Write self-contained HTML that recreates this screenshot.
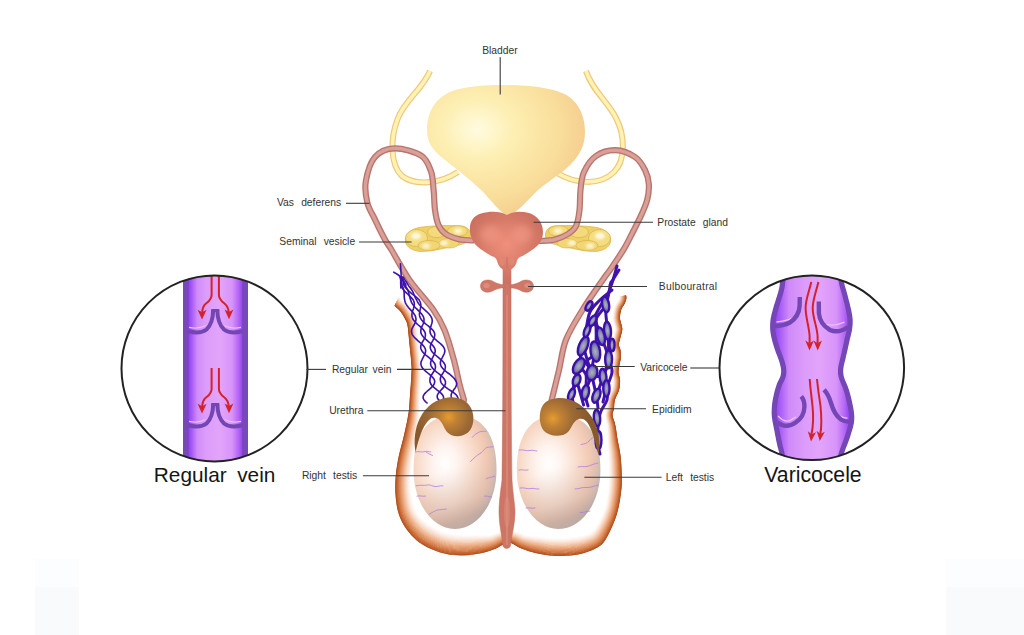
<!DOCTYPE html>
<html><head><meta charset="utf-8">
<style>
html,body{margin:0;padding:0;background:#fff;}
body{width:1024px;height:635px;overflow:hidden;position:relative;}
svg{position:absolute;left:0;top:0;}
text{font-family:"Liberation Sans",sans-serif;}
.lb{font-size:10.3px;fill:#333;}
.big{font-size:21.2px;fill:#151515;}
.ln{stroke:#3a3a3a;stroke-width:1.2;fill:none;}
</style></head>
<body>
<svg width="1024" height="635" viewBox="0 0 1024 635">
<defs>
  <radialGradient id="gBlad" cx="0.32" cy="0.34" r="0.78">
    <stop offset="0" stop-color="#fffbe0"/>
    <stop offset="0.3" stop-color="#fdefb2"/>
    <stop offset="0.68" stop-color="#f9dd9a"/>
    <stop offset="1" stop-color="#f3c68a"/>
  </radialGradient>
  <radialGradient id="gPros" cx="0.5" cy="0.45" r="0.6">
    <stop offset="0" stop-color="#f0907c"/>
    <stop offset="0.6" stop-color="#d67a68"/>
    <stop offset="1" stop-color="#c96f5f"/>
  </radialGradient>
  <radialGradient id="gTest" cx="0.4" cy="0.45" r="0.62" fx="0.38" fy="0.42">
    <stop offset="0" stop-color="#ffffff"/>
    <stop offset="0.25" stop-color="#fef3ee"/>
    <stop offset="0.55" stop-color="#f9dccb"/>
    <stop offset="0.8" stop-color="#f1c8b2"/>
    <stop offset="0.93" stop-color="#dcc0b2"/>
    <stop offset="1" stop-color="#c4b6b2"/>
  </radialGradient>
  <radialGradient id="gEpi" cx="0.58" cy="0.36" r="0.6">
    <stop offset="0" stop-color="#e69c30"/>
    <stop offset="0.25" stop-color="#bf8034"/>
    <stop offset="0.6" stop-color="#9a6834"/>
    <stop offset="1" stop-color="#87592c"/>
  </radialGradient>
  <radialGradient id="gEpi2" cx="0.22" cy="0.36" r="0.6">
    <stop offset="0" stop-color="#e69c30"/>
    <stop offset="0.25" stop-color="#bf8034"/>
    <stop offset="0.6" stop-color="#9a6834"/>
    <stop offset="1" stop-color="#87592c"/>
  </radialGradient>
  <linearGradient id="gTestSh" x1="0" y1="0" x2="0.25" y2="1">
    <stop offset="0.55" stop-color="#a09494" stop-opacity="0"/>
    <stop offset="0.85" stop-color="#a09494" stop-opacity="0.18"/>
    <stop offset="1" stop-color="#988c8c" stop-opacity="0.42"/>
  </linearGradient>
  <radialGradient id="gOval" cx="0.5" cy="0.5" r="0.5">
    <stop offset="0" stop-color="#aeb2be"/>
    <stop offset="0.5" stop-color="#8a8eb0"/>
    <stop offset="1" stop-color="#5044a8"/>
  </radialGradient>
  <linearGradient id="gVein" x1="0" x2="1" y1="0" y2="0">
    <stop offset="0" stop-color="#8c3ef6"/>
    <stop offset="0.06" stop-color="#a456f6"/>
    <stop offset="0.17" stop-color="#d08cf8"/>
    <stop offset="0.32" stop-color="#dc9cfa"/>
    <stop offset="0.58" stop-color="#e2a4fb"/>
    <stop offset="0.8" stop-color="#d894f9"/>
    <stop offset="0.92" stop-color="#b464f6"/>
    <stop offset="1" stop-color="#8c3ef6"/>
  </linearGradient>
  <linearGradient id="gVein2" x1="774" x2="850" y1="0" y2="0" gradientUnits="userSpaceOnUse">
    <stop offset="0" stop-color="#8c3ef6"/>
    <stop offset="0.07" stop-color="#a458f6"/>
    <stop offset="0.2" stop-color="#cf8af8"/>
    <stop offset="0.4" stop-color="#dc9cfa"/>
    <stop offset="0.6" stop-color="#e2a4fb"/>
    <stop offset="0.82" stop-color="#d894f9"/>
    <stop offset="0.93" stop-color="#b466f6"/>
    <stop offset="1" stop-color="#8c3ef6"/>
  </linearGradient>
  <filter id="blur6" x="-20%" y="-20%" width="140%" height="140%"><feGaussianBlur stdDeviation="5"/></filter>
  <filter id="blurS" x="-50%" y="-50%" width="200%" height="200%"><feGaussianBlur stdDeviation="1.4"/></filter>
  <filter id="blur15" x="-20%" y="-20%" width="140%" height="140%"><feGaussianBlur stdDeviation="1.5"/></filter>
  <filter id="blur3" x="-20%" y="-20%" width="140%" height="140%"><feGaussianBlur stdDeviation="3.2"/></filter>
  <clipPath id="cL"><circle cx="214.5" cy="368.4" r="93"/></clipPath>
  <clipPath id="cR"><circle cx="811.8" cy="367.8" r="92.3"/></clipPath>
  <clipPath id="cScr"><path d="M394.5,305 C401,315 407,328 409.5,345 C412,365 411,390 407,412 C403,432 397,455 395.5,478 C394,505 405,530 425,544 C440,553 452,556 462,555.5 C478,555 495,549 508,542.6 C520,550 538,556 556,556 C575,556 595,550 606,540 C618,527 622,505 622,485 C622,462 620,440 613,422 C611,417 610,414 611,410 C613,404 617,400 617.4,396.8 C618,392 620,388 620.7,383.6 C621,378 618,376 618.5,372.5 C619,366 621,362 621,357 C621,351 618,349 618.5,343.9 C619,338 622,335 621.8,330.7 C621.5,326 619,323 619.6,319.7 C620,313 622,308 623,304 C625,301 626.5,298 626,295.4 C624,294.5 621,295 619,296.5 L401,296 Z"/></clipPath>
</defs>

<!-- faint corner rectangles -->
<rect x="35" y="559" width="44" height="28" fill="#fcfdfe"/>
<rect x="35" y="587" width="44" height="48" fill="#f8fafc"/>
<rect x="946" y="559" width="78" height="28" fill="#fcfdfe"/>
<rect x="946" y="587" width="78" height="48" fill="#f8fafc"/>

<!-- ureters -->
<g fill="none" stroke-linecap="butt">
  <path d="M430,71 C422,90 405,100 398,118 C390,138 390,165 402,176 C415,186 440,184 458,172" stroke="#efc77a" stroke-width="6"/>
  <path d="M430,71 C422,90 405,100 398,118 C390,138 390,165 402,176 C415,186 440,184 458,172" stroke="#fff3b4" stroke-width="3.6"/>
  <path d="M586,71 C592,90 608,102 616,118 C625,135 626,160 614,172 C600,186 575,184 557,173" stroke="#efc77a" stroke-width="6"/>
  <path d="M586,71 C592,90 608,102 616,118 C625,135 626,160 614,172 C600,186 575,184 557,173" stroke="#fff3b4" stroke-width="3.6"/>
</g>

<!-- bladder -->
<path d="M508,216 C500,212 494,204 485,194 C475,183 455,168 445,160 C432,150 427,142 427,130 C427,110 437,96 455,90 C470,86 485,85 505,85 C530,85 555,88 568,96 C580,104 585,118 585,132 C585,145 580,155 570,165 C560,175 545,183 535,193 C525,203 518,212 508,216 Z" fill="url(#gBlad)"/>


<!-- scrotum -->
<clipPath id="cScr2"><path d="M394.5,305.8 L395.5,306.8 L396.6,307.8 L397.8,308.8 L398.9,309.8 L400.0,311.0 L401.0,312.3 L401.9,313.7 L402.9,315.1 L403.7,316.6 L404.5,318.0 L405.2,319.3 L405.8,320.4 L406.4,321.6 L406.9,323.1 L407.4,325.0 L407.8,327.4 L408.1,330.2 L408.4,333.3 L408.7,336.6 L409.0,340.0 L409.4,343.8 L409.8,348.0 L410.3,352.3 L410.7,356.4 L411.0,360.0 L411.2,362.7 L411.4,364.8 L411.5,366.8 L411.6,369.0 L411.5,372.0 L411.3,376.0 L411.0,380.6 L410.7,385.6 L410.3,390.5 L410.0,395.0 L409.7,398.9 L409.5,402.4 L409.3,405.8 L409.0,409.2 L408.5,413.0 L407.8,417.1 L407.0,421.5 L406.0,426.0 L405.0,430.5 L404.0,435.0 L402.9,439.4 L401.8,443.8 L400.6,448.3 L399.5,452.7 L398.5,457.0 L397.7,461.3 L397.0,465.5 L396.3,469.7 L395.9,473.9 L395.5,478.0 L395.3,482.1 L395.2,486.2 L395.2,490.3 L395.4,494.2 L395.7,498.0 L396.1,501.6 L396.6,505.1 L397.2,508.5 L398.0,511.8 L399.0,515.0 L400.2,518.2 L401.6,521.2 L403.2,524.2 L405.0,527.2 L407.0,530.0 L409.2,532.8 L411.5,535.5 L414.1,538.1 L416.9,540.7 L420.0,543.0 L423.5,545.2 L427.5,547.4 L431.6,549.3 L435.9,551.1 L440.0,552.5 L444.1,553.6 L448.2,554.4 L452.3,555.0 L456.5,555.3 L460.5,555.5 L464.5,555.5 L468.6,555.2 L472.6,554.7 L476.4,554.1 L480.0,553.5 L483.3,552.8 L486.4,552.0 L489.3,551.1 L492.2,550.1 L495.0,549.0 L497.8,547.7 L500.6,546.0 L503.2,544.4 L505.9,543.2 L508.4,542.6 L510.8,542.9 L513.0,543.9 L515.2,545.3 L517.5,546.8 L520.0,548.0 L522.7,549.1 L525.5,550.1 L528.5,551.2 L531.6,552.1 L535.0,553.0 L538.7,553.8 L542.6,554.5 L546.8,555.2 L550.9,555.7 L555.0,556.0 L559.1,556.1 L563.2,556.0 L567.4,555.8 L571.3,555.5 L575.0,555.0 L578.4,554.4 L581.5,553.8 L584.4,553.0 L587.2,552.1 L590.0,551.0 L592.8,549.9 L595.5,548.6 L598.0,547.2 L600.5,545.5 L602.8,543.4 L604.9,540.7 L606.9,537.5 L608.7,534.0 L610.4,530.5 L612.0,527.0 L613.4,523.7 L614.7,520.5 L615.9,517.2 L617.0,513.7 L618.0,510.0 L618.9,505.9 L619.8,501.4 L620.5,496.8 L621.1,492.2 L621.6,488.0 L621.8,484.1 L621.9,480.4 L621.9,476.8 L621.7,473.3 L621.6,470.0 L621.5,466.8 L621.3,463.8 L621.1,460.9 L620.8,458.0 L620.5,455.0 L620.0,452.0 L619.5,449.0 L618.9,446.0 L618.3,443.0 L617.7,440.0 L617.2,436.9 L616.7,433.8 L616.3,430.6 L615.8,427.7 L615.3,425.0 L614.7,422.6 L614.0,420.4 L613.3,418.5 L612.8,416.7 L612.5,415.0 L612.5,413.6 L612.8,412.5 L613.2,411.4 L613.6,410.3 L613.9,409.0 L614.1,407.4 L614.2,405.7 L614.3,403.8 L614.5,401.9 L614.9,400.0 L615.6,398.1 L616.5,396.1 L617.5,394.0 L618.4,392.0 L619.1,390.0 L619.5,388.0 L619.9,385.9 L620.0,383.8 L620.1,381.8 L620.1,380.0 L619.9,378.3 L619.5,376.8 L619.1,375.4 L618.7,374.0 L618.5,372.5 L618.5,371.0 L618.7,369.5 L618.9,368.0 L619.2,366.5 L619.5,365.0 L619.8,363.4 L620.2,361.8 L620.5,360.2 L620.8,358.5 L621.0,357.0 L621.0,355.5 L621.0,354.0 L620.9,352.6 L620.7,351.3 L620.5,350.0 L620.2,348.9 L619.8,347.8 L619.4,346.8 L619.0,345.9 L618.8,345.0 L618.8,344.2 L618.8,343.6 L619.0,343.0 L619.2,342.2 L619.5,341.0 L620.0,339.3 L620.6,337.1 L621.2,334.7 L621.8,332.5 L622.2,330.7 L622.3,329.5 L622.3,328.6 L622.2,327.8 L622.0,327.1 L621.8,326.0 L621.5,324.6 L621.0,323.1 L620.6,321.4 L620.2,319.7 L620.0,318.0 L620.0,316.3 L620.2,314.5 L620.5,312.8 L620.9,311.1 L621.3,309.6 L621.8,308.3 L622.5,307.1 L623.2,306.1 L623.9,305.0 L624.5,304.0 L625.0,302.9 L625.4,301.9 L625.8,300.9 L626.1,299.9 L626.3,299.0 L626.4,298.2 L626.4,297.5 L626.4,296.9 L626.3,296.2 L626.2,295.4 L619,296.5 L399.2,296.3 Z"/></clipPath>
<g clip-path="url(#cScr2)">
<path d="M399.5,296.4 L399.9,297.2 L400.4,298.2 L400.7,298.8 L401.1,299.5 L401.5,300.1 L402.0,300.6 L402.8,301.3 L404.0,302.3 L405.4,303.6 L406.8,305.1 L408.1,306.8 L409.4,308.6 L410.5,310.4 L411.5,312.0 L412.4,313.6 L413.2,315.1 L414.0,316.7 L414.8,318.4 L415.5,320.5 L416.2,323.0 L416.7,326.0 L417.0,329.1 L417.3,332.3 L417.6,335.7 L418.0,339.1 L418.4,342.9 L418.8,347.1 L419.2,351.5 L419.7,355.6 L420.0,359.2 L420.3,362.1 L420.6,364.3 L420.8,366.5 L421.0,369.0 L421.0,372.2 L420.9,376.4 L420.7,381.2 L420.5,386.3 L420.2,391.2 L420.0,395.7 L419.9,399.6 L419.9,403.2 L419.9,406.7 L419.7,410.5 L419.4,414.6 L419.0,419.1 L418.5,423.8 L418.0,428.5 L417.3,433.3 L416.6,438.0 L415.8,442.6 L414.9,447.2 L414.1,451.6 L413.3,455.8 L412.7,460.0 L412.1,463.9 L411.5,467.8 L411.0,471.6 L410.7,475.4 L410.5,479.0 L410.5,482.7 L410.6,486.3 L410.8,489.8 L411.2,493.3 L411.6,496.5 L412.2,499.6 L412.7,502.3 L413.4,504.9 L414.2,507.2 L415.1,509.4 L416.3,511.4 L417.6,513.4 L419.0,515.2 L420.6,517.0 L422.3,518.8 L424.1,520.4 L426.0,522.0 L427.9,523.4 L429.9,524.7 L432.0,525.8 L434.3,527.2 L437.1,528.7 L440.1,530.1 L443.2,531.4 L446.1,532.4 L448.9,533.2 L451.8,533.7 L454.8,534.1 L457.8,534.4 L460.8,534.5 L463.8,534.9 L466.9,535.0 L470.1,535.1 L473.3,535.0 L476.2,534.9 L479.0,535.1 L481.7,535.2 L484.2,535.3 L486.5,535.3 L488.9,535.3 L491.5,534.7 L494.5,533.6 L498.3,532.2 L503.0,530.9 L508.1,530.6 L513.2,530.8 L517.5,532.0 L521.0,533.4 L523.7,534.6 L526.0,535.3 L528.3,535.6 L530.7,535.8 L533.3,536.1 L536.1,536.3 L539.0,536.5 L542.1,536.9 L545.5,537.4 L549.1,537.7 L552.6,538.0 L555.9,538.0 L559.2,538.1 L562.7,538.0 L566.1,537.9 L569.4,537.6 L572.4,537.2 L575.0,537.0 L577.3,536.7 L579.5,536.3 L581.6,535.8 L583.8,535.2 L585.8,534.6 L587.6,534.0 L589.0,533.6 L590.1,533.1 L591.1,532.4 L592.4,531.3 L594.0,529.5 L595.7,527.1 L597.4,524.2 L599.2,521.3 L600.7,518.5 L602.0,515.7 L603.2,513.0 L604.3,510.1 L605.4,506.9 L606.2,503.2 L607.0,499.1 L607.7,494.9 L608.2,490.7 L608.6,487.0 L609.0,483.5 L609.1,480.2 L609.2,476.9 L609.1,473.7 L609.1,470.5 L609.1,467.5 L609.0,464.6 L609.0,461.9 L608.8,459.3 L608.6,456.6 L608.6,453.8 L608.5,451.0 L608.3,448.0 L608.0,444.9 L607.9,441.7 L607.7,438.5 L607.6,435.2 L607.6,432.1 L607.6,429.3 L607.5,426.8 L607.2,424.6 L606.7,422.5 L606.2,420.3 L605.7,417.9 L605.5,415.3 L605.5,413.0 L605.9,411.1 L606.4,409.7 L606.8,408.7 L607.0,407.7 L607.1,406.4 L607.2,404.9 L607.4,402.9 L607.6,400.6 L608.2,398.1 L609.0,395.7 L610.0,393.4 L611.0,391.4 L611.8,389.7 L612.4,388.1 L612.7,386.6 L612.9,385.0 L613.1,383.4 L613.1,381.9 L613.1,380.6 L613.0,379.4 L612.7,378.2 L612.2,376.8 L611.8,375.0 L611.5,373.0 L611.5,370.8 L611.7,368.8 L612.0,367.0 L612.3,365.3 L612.6,363.7 L612.9,362.0 L613.3,360.5 L613.6,359.0 L613.9,357.6 L614.0,356.5 L614.0,355.4 L614.0,354.4 L613.9,353.3 L613.8,352.4 L613.7,351.6 L613.5,350.9 L613.1,350.0 L612.7,349.0 L612.2,347.6 L611.9,345.9 L611.8,344.3 L611.9,342.9 L612.1,341.7 L612.4,340.5 L612.7,339.2 L613.2,337.4 L613.8,335.3 L614.5,333.0 L615.0,331.1 L615.3,329.8 L615.3,329.2 L615.3,329.0 L615.3,328.8 L615.2,328.4 L615.0,327.6 L614.7,326.3 L614.2,324.7 L613.7,322.8 L613.2,320.6 L613.0,318.4 L613.0,316.1 L613.3,313.7 L613.6,311.4 L614.1,309.2 L614.7,307.2 L615.5,305.3 L616.4,303.8 L617.2,302.6 L617.8,301.6 L618.3,300.8 L618.6,300.1 L618.9,299.4 L619.1,298.7 L619.3,298.2 L619.4,297.8 L619.4,297.6 L619.4,297.5 L619.4,297.3 L619.3,296.9 L619.2,296.2 L619.1,295.2 L619.0,294.0 L618.8,292.8 L618.7,291.7 L618.6,291.0" stroke="#ffffff" stroke-width="1.4" fill="none"/>
<path d="M399.2,296.6 L399.6,297.4 L400.1,298.4 L400.4,299.0 L400.8,299.8 L401.2,300.4 L401.7,300.9 L402.6,301.6 L403.7,302.6 L405.1,303.9 L406.5,305.4 L407.8,307.1 L409.1,308.8 L410.2,310.6 L411.1,312.2 L412.0,313.8 L412.9,315.3 L413.7,316.8 L414.4,318.5 L415.2,320.6 L415.8,323.1 L416.3,326.0 L416.7,329.1 L417.0,332.4 L417.2,335.7 L417.6,339.2 L418.0,343.0 L418.4,347.2 L418.9,351.5 L419.3,355.6 L419.6,359.3 L419.9,362.1 L420.2,364.4 L420.4,366.5 L420.5,369.0 L420.6,372.2 L420.5,376.4 L420.3,381.2 L420.0,386.3 L419.8,391.2 L419.5,395.7 L419.5,399.5 L419.5,403.1 L419.4,406.7 L419.3,410.4 L418.9,414.5 L418.6,419.0 L418.0,423.7 L417.4,428.4 L416.8,433.2 L416.1,437.9 L415.3,442.5 L414.4,447.0 L413.5,451.4 L412.7,455.7 L412.1,459.8 L411.4,463.8 L410.9,467.7 L410.4,471.5 L410.0,475.3 L409.8,479.0 L409.8,482.7 L409.9,486.3 L410.2,489.9 L410.5,493.3 L410.9,496.6 L411.5,499.6 L412.0,502.4 L412.7,505.0 L413.5,507.4 L414.4,509.7 L415.6,511.7 L416.9,513.7 L418.3,515.6 L419.9,517.5 L421.7,519.3 L423.5,521.0 L425.4,522.6 L427.3,524.1 L429.3,525.4 L431.5,526.5 L433.9,528.0 L436.7,529.5 L439.7,531.0 L442.8,532.2 L445.8,533.3 L448.7,534.0 L451.7,534.6 L454.7,535.0 L457.7,535.3 L460.7,535.4 L463.8,535.8 L467.0,535.9 L470.2,535.9 L473.4,535.8 L476.4,535.7 L479.2,535.9 L481.9,536.0 L484.4,536.0 L486.7,536.0 L489.1,535.9 L491.7,535.3 L494.8,534.1 L498.5,532.7 L503.1,531.4 L508.2,531.1 L513.1,531.3 L517.3,532.5 L520.7,533.9 L523.4,535.2 L525.7,535.9 L528.0,536.2 L530.4,536.4 L533.1,536.8 L535.9,537.0 L538.8,537.2 L542.0,537.7 L545.4,538.1 L549.0,538.5 L552.5,538.7 L555.9,538.8 L559.2,538.9 L562.7,538.8 L566.2,538.6 L569.5,538.3 L572.5,538.0 L575.1,537.7 L577.5,537.4 L579.7,537.0 L581.9,536.5 L584.0,535.9 L586.1,535.2 L587.9,534.7 L589.4,534.2 L590.6,533.7 L591.7,532.9 L593.0,531.7 L594.5,529.9 L596.2,527.4 L598.0,524.5 L599.8,521.6 L601.2,518.7 L602.6,515.9 L603.8,513.1 L604.9,510.2 L605.9,507.0 L606.8,503.3 L607.5,499.2 L608.2,494.9 L608.8,490.8 L609.2,487.0 L609.5,483.5 L609.7,480.2 L609.7,476.9 L609.7,473.7 L609.7,470.5 L609.6,467.4 L609.6,464.6 L609.5,461.8 L609.3,459.2 L609.1,456.6 L609.1,453.8 L608.9,450.9 L608.7,447.9 L608.5,444.8 L608.3,441.7 L608.1,438.4 L608.0,435.2 L608.0,432.0 L607.9,429.2 L607.8,426.7 L607.5,424.5 L607.0,422.4 L606.5,420.2 L606.0,417.8 L605.8,415.3 L605.8,413.0 L606.2,411.2 L606.7,409.8 L607.1,408.7 L607.3,407.7 L607.4,406.5 L607.5,404.9 L607.7,402.9 L607.9,400.6 L608.4,398.2 L609.3,395.8 L610.3,393.6 L611.3,391.5 L612.1,389.8 L612.7,388.2 L613.0,386.6 L613.2,385.0 L613.4,383.4 L613.4,381.9 L613.4,380.6 L613.3,379.4 L613.0,378.1 L612.5,376.7 L612.1,375.0 L611.8,372.9 L611.8,370.8 L612.0,368.8 L612.3,367.0 L612.6,365.4 L612.9,363.7 L613.2,362.1 L613.6,360.5 L613.9,359.0 L614.2,357.7 L614.3,356.5 L614.4,355.4 L614.3,354.3 L614.2,353.3 L614.1,352.4 L614.0,351.5 L613.8,350.8 L613.4,349.9 L613.0,348.9 L612.5,347.5 L612.2,345.9 L612.1,344.3 L612.2,342.9 L612.4,341.7 L612.7,340.6 L613.0,339.2 L613.5,337.5 L614.1,335.3 L614.7,333.1 L615.3,331.2 L615.6,329.8 L615.6,329.2 L615.6,328.9 L615.6,328.7 L615.5,328.4 L615.3,327.6 L615.0,326.2 L614.5,324.6 L614.0,322.7 L613.5,320.6 L613.3,318.4 L613.3,316.1 L613.6,313.8 L613.9,311.5 L614.4,309.3 L615.0,307.3 L615.8,305.5 L616.6,303.9 L617.4,302.7 L618.1,301.7 L618.6,300.9 L618.9,300.2 L619.2,299.5 L619.4,298.8 L619.6,298.3 L619.7,297.9 L619.7,297.7 L619.7,297.5 L619.7,297.3 L619.6,296.8 L619.5,296.2 L619.4,295.2 L619.3,294.0 L619.1,292.8 L619.0,291.7 L618.9,290.9" stroke="#fefbf9" stroke-width="1.4" fill="none"/>
<path d="M398.8,296.8 L399.2,297.6 L399.7,298.6 L400.0,299.2 L400.5,300.0 L400.9,300.6 L401.4,301.2 L402.3,301.9 L403.5,302.9 L404.8,304.1 L406.2,305.6 L407.5,307.3 L408.7,309.1 L409.8,310.8 L410.8,312.4 L411.7,314.0 L412.5,315.5 L413.3,317.0 L414.1,318.7 L414.8,320.7 L415.4,323.2 L415.9,326.1 L416.3,329.2 L416.6,332.4 L416.9,335.8 L417.2,339.2 L417.6,343.0 L418.0,347.2 L418.5,351.5 L418.9,355.7 L419.2,359.3 L419.5,362.1 L419.8,364.4 L420.0,366.5 L420.1,369.0 L420.2,372.2 L420.1,376.4 L419.9,381.2 L419.6,386.2 L419.3,391.2 L419.1,395.6 L419.0,399.5 L419.0,403.1 L419.0,406.7 L418.8,410.4 L418.4,414.4 L418.1,418.9 L417.5,423.6 L416.9,428.3 L416.2,433.1 L415.5,437.8 L414.7,442.3 L413.8,446.9 L412.9,451.3 L412.1,455.6 L411.5,459.7 L410.8,463.7 L410.2,467.6 L409.8,471.4 L409.4,475.2 L409.2,478.9 L409.2,482.6 L409.3,486.3 L409.5,489.9 L409.8,493.4 L410.2,496.7 L410.8,499.7 L411.3,502.6 L412.0,505.2 L412.8,507.6 L413.7,509.9 L414.9,512.0 L416.2,514.0 L417.6,516.0 L419.2,517.9 L421.0,519.7 L422.8,521.5 L424.7,523.2 L426.7,524.7 L428.7,526.1 L431.0,527.3 L433.4,528.8 L436.2,530.3 L439.4,531.8 L442.5,533.1 L445.6,534.1 L448.5,534.9 L451.5,535.5 L454.6,535.9 L457.7,536.2 L460.7,536.3 L463.9,536.7 L467.1,536.8 L470.3,536.8 L473.5,536.7 L476.5,536.5 L479.4,536.6 L482.1,536.7 L484.6,536.7 L487.0,536.6 L489.4,536.5 L492.0,535.8 L495.0,534.7 L498.7,533.2 L503.2,532.0 L508.2,531.6 L513.0,531.8 L517.1,533.0 L520.5,534.5 L523.1,535.7 L525.5,536.4 L527.8,536.7 L530.2,537.1 L532.9,537.4 L535.7,537.7 L538.7,537.9 L541.8,538.4 L545.3,538.9 L548.9,539.3 L552.4,539.5 L555.8,539.6 L559.2,539.7 L562.7,539.6 L566.2,539.4 L569.6,539.1 L572.6,538.7 L575.3,538.5 L577.7,538.2 L579.9,537.8 L582.1,537.2 L584.3,536.6 L586.4,535.9 L588.2,535.3 L589.8,534.8 L591.0,534.2 L592.2,533.4 L593.5,532.1 L595.1,530.2 L596.8,527.7 L598.6,524.8 L600.3,521.8 L601.8,518.9 L603.1,516.1 L604.3,513.3 L605.4,510.4 L606.5,507.1 L607.3,503.4 L608.1,499.3 L608.8,495.0 L609.4,490.9 L609.8,487.1 L610.1,483.6 L610.2,480.2 L610.3,476.9 L610.2,473.7 L610.2,470.5 L610.2,467.4 L610.1,464.5 L610.0,461.8 L609.9,459.2 L609.6,456.5 L609.6,453.7 L609.4,450.8 L609.2,447.8 L608.9,444.7 L608.7,441.6 L608.6,438.3 L608.4,435.1 L608.3,432.0 L608.3,429.1 L608.2,426.6 L607.8,424.4 L607.3,422.3 L606.8,420.1 L606.3,417.8 L606.1,415.3 L606.2,413.0 L606.5,411.2 L607.0,409.9 L607.4,408.8 L607.6,407.8 L607.7,406.5 L607.8,405.0 L608.0,403.0 L608.2,400.7 L608.7,398.3 L609.6,395.9 L610.6,393.7 L611.6,391.7 L612.4,389.9 L613.0,388.2 L613.3,386.7 L613.5,385.0 L613.7,383.4 L613.7,381.9 L613.7,380.6 L613.6,379.3 L613.3,378.1 L612.8,376.6 L612.4,374.9 L612.1,372.9 L612.1,370.8 L612.3,368.9 L612.6,367.1 L612.9,365.4 L613.2,363.8 L613.5,362.2 L613.9,360.6 L614.2,359.1 L614.5,357.7 L614.6,356.5 L614.7,355.4 L614.6,354.3 L614.5,353.3 L614.4,352.3 L614.3,351.5 L614.1,350.7 L613.7,349.8 L613.3,348.8 L612.8,347.5 L612.5,345.9 L612.4,344.3 L612.5,342.9 L612.7,341.8 L613.0,340.7 L613.3,339.3 L613.8,337.6 L614.4,335.4 L615.0,333.2 L615.6,331.2 L615.9,329.9 L616.0,329.2 L615.9,328.9 L615.9,328.7 L615.7,328.3 L615.6,327.5 L615.3,326.2 L614.8,324.5 L614.3,322.6 L613.9,320.5 L613.6,318.3 L613.6,316.1 L613.9,313.8 L614.2,311.6 L614.7,309.4 L615.3,307.4 L616.1,305.6 L616.9,304.1 L617.7,302.9 L618.4,301.9 L618.8,301.1 L619.2,300.3 L619.4,299.6 L619.7,298.9 L619.9,298.3 L620.0,297.9 L620.0,297.7 L620.0,297.5 L620.0,297.2 L619.9,296.8 L619.9,296.1 L619.7,295.1 L619.6,293.9 L619.4,292.7 L619.3,291.6 L619.2,290.9" stroke="#fef7f3" stroke-width="1.4" fill="none"/>
<path d="M398.5,296.9 L398.9,297.7 L399.4,298.7 L399.7,299.4 L400.1,300.2 L400.6,300.9 L401.2,301.5 L402.0,302.2 L403.2,303.2 L404.5,304.4 L405.9,305.9 L407.2,307.5 L408.4,309.3 L409.5,311.0 L410.5,312.6 L411.3,314.2 L412.2,315.7 L412.9,317.1 L413.7,318.8 L414.4,320.8 L415.0,323.3 L415.5,326.1 L415.9,329.2 L416.2,332.5 L416.5,335.8 L416.8,339.2 L417.2,343.0 L417.6,347.2 L418.1,351.6 L418.5,355.7 L418.8,359.3 L419.1,362.2 L419.4,364.4 L419.6,366.5 L419.7,369.0 L419.8,372.2 L419.7,376.4 L419.5,381.1 L419.2,386.2 L418.9,391.1 L418.7,395.6 L418.6,399.5 L418.6,403.1 L418.5,406.6 L418.3,410.3 L418.0,414.4 L417.6,418.8 L417.0,423.5 L416.4,428.2 L415.7,433.0 L415.0,437.6 L414.1,442.2 L413.2,446.7 L412.3,451.1 L411.5,455.4 L410.8,459.6 L410.2,463.6 L409.6,467.5 L409.1,471.4 L408.7,475.2 L408.5,478.9 L408.5,482.6 L408.6,486.3 L408.8,489.9 L409.1,493.4 L409.6,496.7 L410.1,499.8 L410.6,502.7 L411.3,505.3 L412.1,507.8 L413.0,510.1 L414.2,512.3 L415.5,514.4 L417.0,516.4 L418.6,518.3 L420.3,520.2 L422.2,522.0 L424.1,523.8 L426.1,525.3 L428.2,526.7 L430.5,528.0 L432.9,529.6 L435.8,531.1 L439.0,532.6 L442.2,533.9 L445.3,535.0 L448.3,535.8 L451.4,536.4 L454.5,536.8 L457.6,537.1 L460.7,537.2 L463.9,537.6 L467.2,537.7 L470.4,537.6 L473.7,537.5 L476.7,537.3 L479.6,537.4 L482.3,537.4 L484.8,537.3 L487.2,537.2 L489.7,537.1 L492.3,536.4 L495.3,535.2 L499.0,533.8 L503.4,532.5 L508.2,532.2 L512.9,532.3 L517.0,533.5 L520.2,535.0 L522.8,536.2 L525.2,537.0 L527.6,537.3 L530.0,537.7 L532.6,538.1 L535.5,538.4 L538.5,538.6 L541.7,539.1 L545.2,539.6 L548.8,540.0 L552.3,540.3 L555.8,540.4 L559.2,540.5 L562.7,540.4 L566.3,540.2 L569.6,539.9 L572.7,539.5 L575.4,539.3 L577.8,538.9 L580.1,538.5 L582.4,537.9 L584.6,537.3 L586.7,536.6 L588.6,535.9 L590.2,535.4 L591.5,534.7 L592.7,533.9 L594.1,532.6 L595.6,530.6 L597.4,528.0 L599.1,525.0 L600.9,522.1 L602.3,519.2 L603.7,516.3 L604.9,513.5 L606.0,510.5 L607.0,507.3 L607.9,503.5 L608.7,499.4 L609.4,495.1 L609.9,490.9 L610.3,487.1 L610.6,483.6 L610.8,480.2 L610.8,476.9 L610.8,473.7 L610.7,470.5 L610.7,467.4 L610.6,464.5 L610.5,461.8 L610.4,459.1 L610.2,456.4 L610.1,453.6 L609.9,450.7 L609.6,447.7 L609.4,444.6 L609.1,441.5 L609.0,438.3 L608.8,435.0 L608.7,431.9 L608.6,429.1 L608.5,426.6 L608.1,424.3 L607.6,422.2 L607.1,420.0 L606.6,417.7 L606.4,415.3 L606.5,413.1 L606.8,411.3 L607.3,410.0 L607.7,408.9 L607.9,407.8 L608.0,406.6 L608.1,405.0 L608.3,403.0 L608.5,400.7 L609.0,398.4 L609.9,396.0 L610.9,393.8 L611.9,391.8 L612.7,390.0 L613.2,388.3 L613.6,386.7 L613.8,385.1 L614.0,383.4 L614.0,381.9 L614.0,380.5 L613.9,379.3 L613.6,378.0 L613.1,376.6 L612.7,374.9 L612.4,372.9 L612.4,370.9 L612.6,368.9 L612.9,367.1 L613.2,365.5 L613.5,363.8 L613.8,362.2 L614.2,360.6 L614.5,359.1 L614.8,357.8 L614.9,356.5 L615.0,355.4 L614.9,354.3 L614.8,353.2 L614.7,352.3 L614.6,351.4 L614.4,350.6 L614.0,349.7 L613.6,348.7 L613.1,347.4 L612.8,345.8 L612.7,344.3 L612.8,343.0 L613.0,341.9 L613.3,340.7 L613.6,339.4 L614.1,337.7 L614.7,335.5 L615.3,333.3 L615.9,331.3 L616.2,329.9 L616.3,329.2 L616.3,328.9 L616.2,328.6 L616.0,328.2 L615.9,327.4 L615.6,326.1 L615.1,324.5 L614.6,322.6 L614.2,320.5 L613.9,318.3 L613.9,316.1 L614.2,313.8 L614.5,311.6 L615.0,309.5 L615.6,307.5 L616.3,305.7 L617.2,304.2 L618.0,303.0 L618.6,302.0 L619.1,301.2 L619.4,300.4 L619.7,299.7 L620.0,299.0 L620.2,298.4 L620.3,298.0 L620.3,297.7 L620.3,297.5 L620.3,297.2 L620.2,296.8 L620.2,296.1 L620.0,295.1 L619.9,293.9 L619.7,292.7 L619.6,291.6 L619.5,290.8" stroke="#fdf3ed" stroke-width="1.4" fill="none"/>
<path d="M398.1,297.1 L398.5,297.9 L399.0,298.9 L399.4,299.6 L399.8,300.4 L400.3,301.1 L400.9,301.7 L401.7,302.5 L402.9,303.4 L404.3,304.7 L405.6,306.1 L406.9,307.8 L408.1,309.5 L409.2,311.2 L410.1,312.8 L411.0,314.4 L411.8,315.9 L412.6,317.3 L413.3,318.9 L414.0,320.9 L414.7,323.4 L415.1,326.2 L415.5,329.3 L415.8,332.5 L416.1,335.8 L416.4,339.3 L416.8,343.1 L417.2,347.3 L417.7,351.6 L418.1,355.7 L418.4,359.4 L418.7,362.2 L419.0,364.4 L419.2,366.6 L419.3,369.0 L419.3,372.2 L419.3,376.3 L419.0,381.1 L418.8,386.2 L418.5,391.1 L418.2,395.6 L418.2,399.4 L418.1,403.0 L418.0,406.6 L417.9,410.3 L417.5,414.3 L417.1,418.7 L416.5,423.4 L415.9,428.1 L415.2,432.8 L414.4,437.5 L413.6,442.1 L412.7,446.6 L411.7,451.0 L410.9,455.3 L410.2,459.4 L409.6,463.4 L409.0,467.4 L408.5,471.3 L408.1,475.1 L407.9,478.9 L407.8,482.6 L407.9,486.3 L408.1,489.9 L408.4,493.4 L408.9,496.8 L409.4,499.9 L409.9,502.8 L410.6,505.5 L411.3,508.0 L412.3,510.4 L413.5,512.6 L414.8,514.7 L416.3,516.8 L417.9,518.8 L419.7,520.7 L421.5,522.6 L423.5,524.4 L425.5,526.0 L427.6,527.4 L429.9,528.8 L432.5,530.3 L435.4,531.9 L438.6,533.5 L441.9,534.8 L445.0,535.9 L448.1,536.7 L451.2,537.3 L454.4,537.7 L457.6,538.0 L460.7,538.2 L463.9,538.5 L467.2,538.5 L470.6,538.5 L473.8,538.3 L476.9,538.1 L479.8,538.2 L482.5,538.1 L485.1,538.0 L487.5,537.9 L489.9,537.7 L492.6,537.0 L495.6,535.8 L499.2,534.3 L503.5,533.0 L508.2,532.7 L512.8,532.9 L516.8,534.0 L520.0,535.5 L522.6,536.7 L524.9,537.5 L527.3,537.9 L529.8,538.3 L532.4,538.7 L535.3,539.1 L538.3,539.4 L541.5,539.9 L545.0,540.4 L548.7,540.8 L552.3,541.0 L555.8,541.1 L559.2,541.2 L562.8,541.2 L566.3,541.0 L569.7,540.7 L572.8,540.3 L575.6,540.0 L578.0,539.7 L580.3,539.2 L582.6,538.6 L584.8,537.9 L587.0,537.2 L588.9,536.6 L590.6,536.0 L591.9,535.3 L593.2,534.3 L594.6,533.0 L596.2,530.9 L597.9,528.3 L599.7,525.3 L601.4,522.3 L602.9,519.4 L604.2,516.6 L605.4,513.7 L606.5,510.7 L607.6,507.4 L608.4,503.6 L609.2,499.5 L609.9,495.2 L610.5,491.0 L610.9,487.1 L611.2,483.6 L611.3,480.2 L611.4,476.9 L611.3,473.6 L611.3,470.4 L611.2,467.3 L611.2,464.5 L611.1,461.7 L610.9,459.0 L610.7,456.3 L610.6,453.5 L610.4,450.6 L610.1,447.6 L609.8,444.6 L609.6,441.4 L609.4,438.2 L609.2,435.0 L609.1,431.9 L609.0,429.0 L608.9,426.5 L608.5,424.3 L608.0,422.1 L607.4,420.0 L606.9,417.7 L606.7,415.3 L606.8,413.1 L607.1,411.3 L607.6,410.0 L608.0,409.0 L608.2,407.9 L608.3,406.6 L608.4,405.0 L608.6,403.1 L608.8,400.8 L609.3,398.5 L610.1,396.1 L611.1,393.9 L612.1,391.9 L613.0,390.1 L613.5,388.4 L613.9,386.8 L614.1,385.1 L614.3,383.5 L614.3,381.9 L614.3,380.5 L614.2,379.2 L613.9,378.0 L613.4,376.5 L613.0,374.8 L612.7,372.9 L612.7,370.9 L612.9,368.9 L613.2,367.2 L613.5,365.5 L613.8,363.9 L614.1,362.3 L614.5,360.7 L614.8,359.2 L615.1,357.8 L615.2,356.6 L615.3,355.4 L615.2,354.3 L615.1,353.2 L615.0,352.2 L614.9,351.3 L614.7,350.5 L614.3,349.6 L613.9,348.6 L613.4,347.3 L613.1,345.8 L613.0,344.3 L613.1,343.0 L613.3,341.9 L613.6,340.8 L613.9,339.5 L614.4,337.7 L615.0,335.6 L615.6,333.3 L616.2,331.3 L616.5,330.0 L616.6,329.2 L616.6,328.9 L616.5,328.6 L616.3,328.2 L616.2,327.3 L615.9,326.0 L615.4,324.4 L614.9,322.5 L614.5,320.5 L614.2,318.3 L614.3,316.1 L614.5,313.9 L614.8,311.7 L615.3,309.6 L615.9,307.6 L616.6,305.8 L617.4,304.4 L618.2,303.2 L618.9,302.2 L619.4,301.3 L619.7,300.6 L620.0,299.8 L620.3,299.1 L620.5,298.5 L620.6,298.0 L620.6,297.7 L620.6,297.5 L620.6,297.2 L620.5,296.8 L620.5,296.1 L620.3,295.1 L620.2,293.8 L620.0,292.7 L619.9,291.6 L619.8,290.8" stroke="#fcede4" stroke-width="1.4" fill="none"/>
<path d="M397.8,297.3 L398.2,298.1 L398.7,299.1 L399.0,299.8 L399.5,300.7 L400.0,301.3 L400.6,302.0 L401.5,302.7 L402.6,303.7 L404.0,304.9 L405.3,306.4 L406.6,308.0 L407.8,309.7 L408.8,311.4 L409.8,313.0 L410.6,314.6 L411.5,316.0 L412.2,317.5 L413.0,319.1 L413.7,321.0 L414.3,323.5 L414.7,326.3 L415.1,329.3 L415.4,332.5 L415.7,335.9 L416.0,339.3 L416.4,343.1 L416.9,347.3 L417.3,351.7 L417.7,355.8 L418.0,359.4 L418.3,362.2 L418.6,364.5 L418.8,366.6 L418.9,369.0 L418.9,372.2 L418.8,376.3 L418.6,381.1 L418.3,386.1 L418.1,391.1 L417.8,395.5 L417.7,399.4 L417.7,403.0 L417.6,406.5 L417.4,410.2 L417.0,414.2 L416.6,418.7 L416.0,423.3 L415.4,428.0 L414.6,432.7 L413.9,437.4 L413.0,441.9 L412.1,446.4 L411.1,450.9 L410.3,455.1 L409.6,459.3 L408.9,463.3 L408.3,467.3 L407.8,471.2 L407.5,475.0 L407.2,478.8 L407.2,482.6 L407.3,486.3 L407.4,489.9 L407.8,493.5 L408.2,496.9 L408.7,500.0 L409.2,502.9 L409.9,505.7 L410.6,508.2 L411.6,510.6 L412.8,512.9 L414.1,515.1 L415.6,517.2 L417.2,519.2 L419.0,521.2 L420.9,523.1 L422.8,524.9 L424.9,526.6 L427.0,528.1 L429.4,529.5 L432.0,531.1 L435.0,532.8 L438.3,534.3 L441.6,535.7 L444.8,536.8 L447.9,537.6 L451.0,538.2 L454.3,538.6 L457.5,538.9 L460.7,539.1 L463.9,539.3 L467.3,539.4 L470.7,539.3 L473.9,539.2 L477.0,538.9 L480.0,538.9 L482.7,538.9 L485.3,538.7 L487.7,538.5 L490.2,538.3 L492.9,537.5 L495.8,536.3 L499.4,534.8 L503.6,533.6 L508.2,533.2 L512.6,533.4 L516.6,534.6 L519.7,536.0 L522.3,537.3 L524.7,538.1 L527.1,538.5 L529.5,538.9 L532.2,539.4 L535.1,539.8 L538.1,540.1 L541.4,540.6 L544.9,541.1 L548.6,541.5 L552.2,541.8 L555.7,541.9 L559.2,542.0 L562.8,542.0 L566.4,541.8 L569.8,541.5 L572.9,541.1 L575.7,540.8 L578.2,540.4 L580.5,539.9 L582.8,539.4 L585.1,538.6 L587.3,537.9 L589.3,537.2 L591.0,536.5 L592.4,535.8 L593.7,534.8 L595.2,533.4 L596.8,531.3 L598.5,528.6 L600.3,525.6 L602.0,522.6 L603.4,519.6 L604.8,516.8 L606.0,513.9 L607.1,510.9 L608.1,507.5 L609.0,503.7 L609.8,499.6 L610.5,495.3 L611.0,491.1 L611.5,487.2 L611.8,483.6 L611.9,480.2 L611.9,476.9 L611.9,473.6 L611.8,470.4 L611.8,467.3 L611.7,464.4 L611.6,461.7 L611.4,459.0 L611.2,456.3 L611.1,453.4 L610.9,450.5 L610.6,447.6 L610.3,444.5 L610.0,441.4 L609.8,438.1 L609.6,434.9 L609.5,431.8 L609.3,428.9 L609.2,426.4 L608.8,424.2 L608.3,422.0 L607.7,419.9 L607.2,417.6 L607.0,415.3 L607.1,413.1 L607.4,411.4 L607.9,410.1 L608.3,409.0 L608.5,408.0 L608.6,406.7 L608.7,405.1 L608.9,403.1 L609.1,400.9 L609.6,398.5 L610.4,396.2 L611.4,394.0 L612.4,392.0 L613.3,390.2 L613.8,388.5 L614.2,386.9 L614.4,385.2 L614.6,383.5 L614.6,381.9 L614.6,380.5 L614.5,379.2 L614.2,377.9 L613.7,376.5 L613.3,374.8 L613.0,372.9 L613.0,370.9 L613.2,369.0 L613.5,367.2 L613.8,365.6 L614.1,364.0 L614.4,362.3 L614.8,360.7 L615.1,359.2 L615.4,357.8 L615.5,356.6 L615.6,355.4 L615.5,354.3 L615.4,353.2 L615.3,352.2 L615.2,351.3 L614.9,350.4 L614.6,349.5 L614.1,348.5 L613.7,347.2 L613.4,345.7 L613.3,344.3 L613.4,343.0 L613.6,342.0 L613.9,340.9 L614.2,339.6 L614.7,337.8 L615.3,335.7 L615.9,333.4 L616.5,331.4 L616.8,330.0 L616.9,329.3 L616.9,328.9 L616.8,328.6 L616.6,328.1 L616.5,327.3 L616.2,325.9 L615.7,324.3 L615.2,322.5 L614.8,320.4 L614.5,318.3 L614.6,316.1 L614.8,313.9 L615.1,311.7 L615.6,309.6 L616.2,307.7 L616.9,306.0 L617.7,304.5 L618.5,303.3 L619.2,302.3 L619.6,301.5 L620.0,300.7 L620.3,299.9 L620.6,299.2 L620.8,298.6 L620.9,298.1 L621.0,297.8 L620.9,297.5 L620.9,297.2 L620.8,296.7 L620.8,296.0 L620.6,295.0 L620.5,293.8 L620.3,292.6 L620.2,291.5 L620.1,290.7" stroke="#fbe7db" stroke-width="1.4" fill="none"/>
<path d="M397.4,297.5 L397.8,298.3 L398.3,299.3 L398.7,300.0 L399.2,300.9 L399.7,301.6 L400.3,302.3 L401.2,303.0 L402.4,304.0 L403.7,305.2 L405.0,306.6 L406.3,308.2 L407.5,309.9 L408.5,311.6 L409.5,313.2 L410.3,314.8 L411.1,316.2 L411.9,317.6 L412.6,319.2 L413.3,321.1 L413.9,323.5 L414.4,326.3 L414.7,329.4 L415.0,332.6 L415.3,335.9 L415.6,339.4 L416.0,343.1 L416.5,347.4 L416.9,351.7 L417.3,355.8 L417.6,359.4 L417.9,362.2 L418.2,364.5 L418.4,366.6 L418.5,369.0 L418.5,372.2 L418.4,376.3 L418.2,381.1 L417.9,386.1 L417.6,391.0 L417.4,395.5 L417.3,399.4 L417.2,403.0 L417.1,406.5 L416.9,410.2 L416.5,414.2 L416.1,418.6 L415.5,423.2 L414.8,427.9 L414.1,432.6 L413.3,437.2 L412.5,441.8 L411.5,446.3 L410.5,450.7 L409.7,455.0 L409.0,459.2 L408.3,463.2 L407.7,467.2 L407.2,471.1 L406.8,475.0 L406.6,478.8 L406.5,482.5 L406.6,486.3 L406.8,490.0 L407.1,493.5 L407.5,496.9 L408.0,500.1 L408.5,503.1 L409.2,505.8 L409.9,508.4 L410.9,510.9 L412.1,513.2 L413.4,515.4 L414.9,517.6 L416.5,519.7 L418.3,521.7 L420.2,523.7 L422.2,525.5 L424.3,527.3 L426.5,528.8 L428.9,530.3 L431.5,531.9 L434.6,533.6 L437.9,535.1 L441.2,536.5 L444.5,537.6 L447.7,538.5 L450.9,539.1 L454.2,539.6 L457.4,539.8 L460.7,540.0 L464.0,540.2 L467.4,540.3 L470.8,540.2 L474.1,540.0 L477.2,539.7 L480.1,539.7 L482.9,539.6 L485.5,539.4 L488.0,539.2 L490.5,538.9 L493.1,538.1 L496.1,536.8 L499.6,535.4 L503.7,534.1 L508.2,533.7 L512.5,533.9 L516.4,535.1 L519.5,536.5 L522.0,537.8 L524.4,538.6 L526.8,539.1 L529.3,539.6 L532.0,540.0 L534.9,540.5 L538.0,540.8 L541.2,541.3 L544.8,541.9 L548.5,542.3 L552.1,542.6 L555.7,542.7 L559.2,542.8 L562.8,542.7 L566.4,542.5 L569.9,542.2 L573.0,541.8 L575.9,541.5 L578.4,541.1 L580.8,540.7 L583.1,540.1 L585.4,539.3 L587.6,538.6 L589.6,537.8 L591.3,537.1 L592.8,536.4 L594.2,535.3 L595.7,533.8 L597.3,531.6 L599.1,528.9 L600.8,525.9 L602.5,522.8 L604.0,519.9 L605.3,517.0 L606.5,514.1 L607.6,511.0 L608.7,507.7 L609.5,503.9 L610.3,499.7 L611.0,495.3 L611.6,491.1 L612.0,487.2 L612.3,483.7 L612.5,480.2 L612.5,476.9 L612.4,473.6 L612.4,470.4 L612.3,467.3 L612.2,464.4 L612.1,461.6 L612.0,458.9 L611.7,456.2 L611.6,453.4 L611.3,450.5 L611.0,447.5 L610.7,444.4 L610.4,441.3 L610.2,438.1 L610.0,434.8 L609.9,431.7 L609.7,428.9 L609.5,426.3 L609.1,424.1 L608.6,422.0 L608.0,419.8 L607.6,417.6 L607.3,415.2 L607.4,413.1 L607.7,411.5 L608.1,410.2 L608.6,409.1 L608.8,408.0 L608.9,406.7 L609.0,405.1 L609.2,403.1 L609.4,400.9 L609.9,398.6 L610.7,396.3 L611.7,394.1 L612.7,392.1 L613.5,390.3 L614.1,388.6 L614.5,386.9 L614.7,385.2 L614.9,383.5 L614.9,381.9 L614.9,380.4 L614.8,379.1 L614.5,377.8 L614.0,376.4 L613.6,374.7 L613.3,372.8 L613.4,370.9 L613.5,369.0 L613.8,367.3 L614.1,365.6 L614.4,364.0 L614.7,362.4 L615.1,360.8 L615.4,359.3 L615.7,357.9 L615.8,356.6 L615.9,355.4 L615.8,354.3 L615.7,353.1 L615.6,352.1 L615.5,351.2 L615.2,350.3 L614.9,349.4 L614.4,348.4 L614.0,347.2 L613.7,345.7 L613.6,344.3 L613.7,343.1 L613.9,342.0 L614.2,340.9 L614.5,339.6 L615.0,337.9 L615.6,335.7 L616.2,333.5 L616.8,331.5 L617.1,330.0 L617.2,329.3 L617.2,328.9 L617.1,328.5 L616.9,328.1 L616.8,327.2 L616.5,325.9 L616.0,324.2 L615.5,322.4 L615.1,320.4 L614.8,318.3 L614.9,316.1 L615.1,313.9 L615.4,311.8 L615.9,309.7 L616.5,307.8 L617.2,306.1 L618.0,304.7 L618.8,303.5 L619.4,302.5 L619.9,301.6 L620.3,300.8 L620.6,300.0 L620.9,299.3 L621.1,298.6 L621.2,298.1 L621.3,297.8 L621.3,297.5 L621.2,297.2 L621.1,296.7 L621.1,296.0 L621.0,295.0 L620.8,293.8 L620.6,292.6 L620.5,291.5 L620.4,290.7" stroke="#fae1d1" stroke-width="1.4" fill="none"/>
<path d="M397.1,297.7 L397.5,298.4 L398.0,299.4 L398.4,300.2 L398.8,301.1 L399.4,301.8 L400.0,302.5 L400.9,303.3 L402.1,304.3 L403.4,305.5 L404.7,306.9 L406.0,308.5 L407.1,310.2 L408.2,311.8 L409.1,313.4 L410.0,314.9 L410.8,316.4 L411.5,317.8 L412.2,319.4 L412.9,321.3 L413.5,323.6 L414.0,326.4 L414.3,329.4 L414.6,332.6 L414.9,335.9 L415.2,339.4 L415.6,343.2 L416.1,347.4 L416.5,351.7 L416.9,355.9 L417.2,359.5 L417.5,362.3 L417.8,364.5 L418.0,366.6 L418.1,369.0 L418.1,372.2 L418.0,376.3 L417.8,381.0 L417.5,386.1 L417.2,391.0 L416.9,395.5 L416.8,399.4 L416.8,402.9 L416.7,406.4 L416.5,410.1 L416.1,414.1 L415.6,418.5 L415.0,423.1 L414.3,427.8 L413.6,432.5 L412.8,437.1 L411.9,441.6 L410.9,446.1 L410.0,450.6 L409.1,454.9 L408.4,459.1 L407.7,463.1 L407.1,467.1 L406.6,471.0 L406.2,474.9 L405.9,478.7 L405.9,482.5 L405.9,486.3 L406.1,490.0 L406.4,493.6 L406.8,497.0 L407.3,500.2 L407.8,503.2 L408.5,506.0 L409.2,508.6 L410.2,511.1 L411.4,513.5 L412.7,515.8 L414.2,518.0 L415.9,520.1 L417.7,522.2 L419.6,524.2 L421.6,526.1 L423.7,527.9 L425.9,529.5 L428.4,531.0 L431.1,532.7 L434.2,534.4 L437.5,536.0 L440.9,537.4 L444.2,538.5 L447.5,539.4 L450.7,540.0 L454.1,540.5 L457.4,540.7 L460.7,540.9 L464.0,541.1 L467.4,541.2 L470.9,541.1 L474.2,540.8 L477.4,540.5 L480.3,540.5 L483.1,540.3 L485.7,540.1 L488.2,539.8 L490.7,539.5 L493.4,538.7 L496.4,537.4 L499.8,535.9 L503.9,534.6 L508.2,534.3 L512.4,534.5 L516.2,535.6 L519.2,537.0 L521.8,538.3 L524.2,539.2 L526.6,539.7 L529.1,540.2 L531.8,540.7 L534.7,541.2 L537.8,541.5 L541.1,542.1 L544.7,542.6 L548.4,543.0 L552.1,543.4 L555.6,543.5 L559.2,543.6 L562.8,543.5 L566.5,543.3 L570.0,543.0 L573.2,542.6 L576.0,542.3 L578.6,541.9 L581.0,541.4 L583.3,540.8 L585.7,540.0 L587.9,539.2 L590.0,538.5 L591.7,537.7 L593.3,536.9 L594.7,535.8 L596.2,534.2 L597.9,532.0 L599.6,529.2 L601.4,526.1 L603.1,523.1 L604.6,520.1 L605.9,517.2 L607.1,514.2 L608.2,511.2 L609.2,507.8 L610.1,504.0 L610.9,499.8 L611.6,495.4 L612.2,491.2 L612.6,487.3 L612.9,483.7 L613.0,480.3 L613.0,476.9 L613.0,473.6 L612.9,470.4 L612.9,467.3 L612.8,464.3 L612.7,461.6 L612.5,458.9 L612.2,456.1 L612.1,453.3 L611.8,450.4 L611.5,447.4 L611.1,444.3 L610.8,441.2 L610.6,438.0 L610.4,434.8 L610.2,431.7 L610.1,428.8 L609.9,426.2 L609.5,424.0 L608.9,421.9 L608.3,419.7 L607.9,417.5 L607.6,415.2 L607.7,413.2 L608.0,411.5 L608.4,410.2 L608.8,409.2 L609.1,408.1 L609.3,406.7 L609.3,405.1 L609.5,403.2 L609.7,401.0 L610.2,398.7 L611.0,396.4 L612.0,394.2 L613.0,392.2 L613.8,390.4 L614.4,388.7 L614.8,387.0 L615.0,385.2 L615.2,383.5 L615.2,381.9 L615.2,380.4 L615.1,379.1 L614.7,377.8 L614.3,376.3 L613.9,374.7 L613.6,372.8 L613.7,370.9 L613.8,369.0 L614.1,367.3 L614.4,365.7 L614.7,364.1 L615.0,362.5 L615.4,360.9 L615.7,359.3 L616.0,357.9 L616.1,356.6 L616.2,355.4 L616.1,354.3 L616.0,353.1 L615.9,352.1 L615.8,351.1 L615.5,350.2 L615.2,349.3 L614.7,348.3 L614.3,347.1 L614.0,345.6 L613.9,344.3 L614.0,343.1 L614.2,342.1 L614.5,341.0 L614.8,339.7 L615.3,338.0 L615.9,335.8 L616.5,333.6 L617.1,331.5 L617.4,330.1 L617.5,329.3 L617.5,328.8 L617.4,328.5 L617.2,328.0 L617.1,327.1 L616.8,325.8 L616.3,324.2 L615.8,322.3 L615.4,320.3 L615.1,318.3 L615.2,316.1 L615.4,314.0 L615.7,311.8 L616.2,309.8 L616.7,307.9 L617.4,306.2 L618.2,304.8 L619.0,303.6 L619.7,302.6 L620.2,301.8 L620.5,300.9 L620.9,300.1 L621.2,299.4 L621.4,298.7 L621.5,298.2 L621.6,297.8 L621.6,297.5 L621.5,297.2 L621.4,296.7 L621.4,296.0 L621.3,294.9 L621.1,293.7 L620.9,292.5 L620.8,291.4 L620.7,290.7" stroke="#f8dac7" stroke-width="1.4" fill="none"/>
<path d="M396.7,297.8 L397.1,298.6 L397.6,299.6 L398.0,300.4 L398.5,301.3 L399.0,302.1 L399.7,302.8 L400.7,303.6 L401.8,304.6 L403.1,305.8 L404.4,307.2 L405.7,308.7 L406.8,310.4 L407.8,312.0 L408.8,313.6 L409.6,315.1 L410.4,316.6 L411.2,318.0 L411.9,319.5 L412.5,321.4 L413.1,323.7 L413.6,326.5 L413.9,329.5 L414.2,332.7 L414.5,336.0 L414.8,339.4 L415.2,343.2 L415.7,347.4 L416.1,351.8 L416.5,355.9 L416.8,359.5 L417.1,362.3 L417.4,364.5 L417.6,366.6 L417.7,369.0 L417.7,372.1 L417.6,376.3 L417.4,381.0 L417.1,386.1 L416.8,391.0 L416.5,395.4 L416.4,399.3 L416.3,402.9 L416.2,406.4 L416.0,410.0 L415.6,414.0 L415.1,418.4 L414.5,423.0 L413.8,427.7 L413.0,432.3 L412.2,437.0 L411.3,441.5 L410.4,446.0 L409.4,450.4 L408.5,454.7 L407.8,458.9 L407.1,463.0 L406.4,467.0 L405.9,471.0 L405.5,474.8 L405.3,478.7 L405.2,482.5 L405.2,486.3 L405.4,490.0 L405.7,493.6 L406.1,497.0 L406.6,500.3 L407.1,503.3 L407.8,506.1 L408.5,508.8 L409.5,511.4 L410.7,513.8 L412.0,516.1 L413.5,518.4 L415.2,520.6 L417.0,522.7 L418.9,524.7 L420.9,526.7 L423.1,528.5 L425.3,530.2 L427.8,531.8 L430.6,533.5 L433.7,535.2 L437.1,536.8 L440.6,538.2 L444.0,539.4 L447.2,540.3 L450.6,540.9 L453.9,541.4 L457.3,541.7 L460.7,541.8 L464.0,542.0 L467.5,542.1 L471.0,541.9 L474.4,541.7 L477.5,541.4 L480.5,541.3 L483.3,541.0 L486.0,540.8 L488.5,540.5 L491.0,540.1 L493.7,539.2 L496.6,537.9 L500.0,536.4 L504.0,535.2 L508.2,534.8 L512.3,535.0 L516.0,536.1 L519.0,537.6 L521.5,538.8 L523.9,539.7 L526.3,540.3 L528.9,540.8 L531.6,541.3 L534.5,541.8 L537.6,542.2 L540.9,542.8 L544.5,543.3 L548.3,543.8 L552.0,544.1 L555.6,544.3 L559.2,544.4 L562.9,544.3 L566.5,544.1 L570.1,543.8 L573.3,543.4 L576.1,543.1 L578.7,542.6 L581.2,542.1 L583.6,541.5 L585.9,540.7 L588.2,539.9 L590.3,539.1 L592.1,538.3 L593.7,537.4 L595.2,536.3 L596.8,534.6 L598.5,532.3 L600.2,529.5 L602.0,526.4 L603.7,523.3 L605.1,520.3 L606.4,517.4 L607.6,514.4 L608.7,511.3 L609.8,507.9 L610.6,504.1 L611.4,499.9 L612.1,495.5 L612.7,491.3 L613.1,487.3 L613.4,483.7 L613.6,480.3 L613.6,476.9 L613.5,473.6 L613.5,470.3 L613.4,467.2 L613.3,464.3 L613.2,461.5 L613.0,458.8 L612.7,456.1 L612.6,453.2 L612.3,450.3 L612.0,447.3 L611.6,444.2 L611.3,441.1 L611.0,437.9 L610.8,434.7 L610.6,431.6 L610.4,428.7 L610.2,426.2 L609.8,423.9 L609.2,421.8 L608.7,419.6 L608.2,417.5 L607.9,415.2 L608.0,413.2 L608.3,411.6 L608.7,410.3 L609.1,409.2 L609.4,408.1 L609.6,406.8 L609.6,405.2 L609.8,403.2 L610.0,401.0 L610.5,398.8 L611.3,396.5 L612.3,394.4 L613.3,392.3 L614.1,390.5 L614.7,388.7 L615.1,387.0 L615.3,385.3 L615.5,383.5 L615.6,381.9 L615.6,380.4 L615.4,379.0 L615.0,377.7 L614.6,376.3 L614.2,374.6 L613.9,372.8 L614.0,370.9 L614.1,369.1 L614.4,367.4 L614.7,365.7 L615.0,364.1 L615.3,362.5 L615.7,360.9 L616.0,359.4 L616.3,358.0 L616.4,356.7 L616.5,355.4 L616.4,354.2 L616.3,353.1 L616.2,352.0 L616.1,351.1 L615.8,350.2 L615.5,349.2 L615.0,348.2 L614.6,347.0 L614.3,345.6 L614.2,344.2 L614.3,343.1 L614.5,342.1 L614.8,341.1 L615.1,339.8 L615.6,338.1 L616.2,335.9 L616.8,333.6 L617.4,331.6 L617.7,330.1 L617.8,329.3 L617.8,328.8 L617.7,328.4 L617.5,327.9 L617.4,327.1 L617.0,325.7 L616.6,324.1 L616.1,322.3 L615.7,320.3 L615.4,318.2 L615.5,316.1 L615.7,314.0 L616.0,311.9 L616.5,309.9 L617.0,308.0 L617.7,306.4 L618.5,304.9 L619.3,303.8 L619.9,302.8 L620.4,301.9 L620.8,301.1 L621.2,300.2 L621.4,299.5 L621.7,298.8 L621.8,298.2 L621.9,297.8 L621.9,297.5 L621.8,297.1 L621.7,296.6 L621.7,295.9 L621.6,294.9 L621.4,293.7 L621.2,292.5 L621.1,291.4 L621.0,290.6" stroke="#f7d3bc" stroke-width="1.4" fill="none"/>
<path d="M396.4,298.0 L396.8,298.8 L397.3,299.8 L397.7,300.6 L398.2,301.5 L398.7,302.3 L399.4,303.1 L400.4,303.9 L401.6,304.9 L402.9,306.0 L404.1,307.4 L405.3,309.0 L406.5,310.6 L407.5,312.2 L408.4,313.8 L409.3,315.3 L410.1,316.8 L410.8,318.1 L411.5,319.6 L412.2,321.5 L412.7,323.8 L413.2,326.5 L413.6,329.5 L413.8,332.7 L414.1,336.0 L414.5,339.5 L414.8,343.3 L415.3,347.5 L415.7,351.8 L416.1,355.9 L416.5,359.5 L416.8,362.3 L417.0,364.5 L417.2,366.6 L417.3,369.0 L417.3,372.1 L417.2,376.2 L416.9,381.0 L416.6,386.0 L416.3,391.0 L416.1,395.4 L415.9,399.3 L415.9,402.9 L415.7,406.4 L415.5,410.0 L415.1,414.0 L414.6,418.3 L414.0,422.9 L413.3,427.5 L412.5,432.2 L411.7,436.8 L410.8,441.4 L409.8,445.9 L408.8,450.3 L407.9,454.6 L407.1,458.8 L406.4,462.9 L405.8,466.9 L405.3,470.9 L404.9,474.8 L404.6,478.6 L404.5,482.5 L404.6,486.3 L404.7,490.0 L405.0,493.6 L405.4,497.1 L405.9,500.4 L406.4,503.4 L407.1,506.3 L407.8,509.0 L408.8,511.6 L410.0,514.1 L411.3,516.4 L412.8,518.7 L414.5,521.0 L416.3,523.2 L418.3,525.3 L420.3,527.3 L422.5,529.2 L424.8,530.9 L427.3,532.5 L430.1,534.3 L433.3,536.0 L436.8,537.6 L440.3,539.1 L443.7,540.3 L447.0,541.2 L450.4,541.8 L453.8,542.3 L457.3,542.6 L460.7,542.7 L464.1,542.9 L467.6,542.9 L471.1,542.8 L474.5,542.5 L477.7,542.2 L480.7,542.0 L483.5,541.8 L486.2,541.5 L488.7,541.1 L491.3,540.7 L494.0,539.8 L496.9,538.5 L500.2,536.9 L504.1,535.7 L508.2,535.3 L512.2,535.5 L515.8,536.6 L518.7,538.1 L521.2,539.4 L523.6,540.3 L526.1,540.8 L528.6,541.4 L531.4,542.0 L534.3,542.5 L537.4,542.9 L540.8,543.5 L544.4,544.1 L548.2,544.6 L551.9,544.9 L555.6,545.1 L559.2,545.1 L562.9,545.1 L566.6,544.9 L570.1,544.6 L573.4,544.2 L576.3,543.8 L578.9,543.4 L581.4,542.8 L583.8,542.2 L586.2,541.4 L588.5,540.5 L590.6,539.8 L592.5,538.9 L594.2,538.0 L595.7,536.7 L597.3,535.0 L599.0,532.6 L600.8,529.8 L602.5,526.7 L604.2,523.5 L605.7,520.5 L607.0,517.6 L608.2,514.6 L609.3,511.5 L610.3,508.1 L611.2,504.2 L612.0,500.0 L612.7,495.6 L613.3,491.3 L613.7,487.4 L614.0,483.7 L614.1,480.3 L614.1,476.9 L614.1,473.6 L614.0,470.3 L613.9,467.2 L613.9,464.3 L613.7,461.5 L613.5,458.8 L613.3,456.0 L613.1,453.1 L612.8,450.2 L612.4,447.2 L612.0,444.1 L611.7,441.1 L611.4,437.9 L611.2,434.6 L611.0,431.5 L610.8,428.7 L610.6,426.1 L610.1,423.8 L609.5,421.7 L609.0,419.6 L608.5,417.4 L608.2,415.2 L608.3,413.2 L608.6,411.6 L609.0,410.4 L609.4,409.3 L609.7,408.2 L609.9,406.8 L609.9,405.2 L610.1,403.3 L610.3,401.1 L610.8,398.9 L611.6,396.6 L612.6,394.5 L613.5,392.5 L614.4,390.6 L615.0,388.8 L615.4,387.1 L615.6,385.3 L615.8,383.5 L615.9,381.9 L615.9,380.4 L615.7,379.0 L615.3,377.7 L614.9,376.2 L614.5,374.6 L614.2,372.8 L614.3,370.9 L614.4,369.1 L614.7,367.4 L615.0,365.8 L615.3,364.2 L615.6,362.6 L616.0,361.0 L616.3,359.4 L616.6,358.0 L616.8,356.7 L616.8,355.4 L616.7,354.2 L616.6,353.0 L616.5,352.0 L616.4,351.0 L616.1,350.1 L615.7,349.2 L615.3,348.1 L614.9,346.9 L614.6,345.6 L614.5,344.2 L614.6,343.2 L614.8,342.2 L615.1,341.2 L615.4,339.9 L615.9,338.1 L616.5,336.0 L617.1,333.7 L617.7,331.7 L618.0,330.2 L618.1,329.3 L618.1,328.8 L618.0,328.4 L617.8,327.9 L617.7,327.0 L617.3,325.6 L616.9,324.0 L616.4,322.2 L616.0,320.3 L615.7,318.2 L615.8,316.2 L616.0,314.0 L616.3,312.0 L616.8,310.0 L617.3,308.1 L618.0,306.5 L618.8,305.1 L619.5,303.9 L620.2,302.9 L620.7,302.0 L621.1,301.2 L621.4,300.4 L621.7,299.6 L622.0,298.9 L622.1,298.3 L622.2,297.9 L622.2,297.5 L622.1,297.1 L622.0,296.6 L622.0,295.9 L621.9,294.9 L621.7,293.6 L621.5,292.4 L621.4,291.4 L621.3,290.6" stroke="#f4caaf" stroke-width="1.4" fill="none"/>
<path d="M396.0,298.2 L396.4,299.0 L396.9,300.0 L397.3,300.8 L397.9,301.8 L398.4,302.6 L399.2,303.3 L400.1,304.2 L401.3,305.1 L402.6,306.3 L403.8,307.7 L405.0,309.2 L406.2,310.8 L407.2,312.4 L408.1,314.0 L408.9,315.5 L409.7,316.9 L410.5,318.3 L411.2,319.8 L411.8,321.6 L412.4,323.9 L412.8,326.6 L413.2,329.6 L413.5,332.7 L413.7,336.1 L414.1,339.5 L414.5,343.3 L414.9,347.5 L415.4,351.8 L415.8,356.0 L416.1,359.6 L416.4,362.4 L416.6,364.6 L416.8,366.6 L416.9,369.0 L416.9,372.1 L416.7,376.2 L416.5,381.0 L416.2,386.0 L415.9,390.9 L415.6,395.4 L415.5,399.3 L415.4,402.8 L415.3,406.3 L415.1,409.9 L414.7,413.9 L414.2,418.2 L413.5,422.8 L412.8,427.4 L412.0,432.1 L411.1,436.7 L410.2,441.2 L409.2,445.7 L408.2,450.1 L407.3,454.5 L406.5,458.7 L405.8,462.8 L405.2,466.8 L404.6,470.8 L404.2,474.7 L404.0,478.6 L403.9,482.4 L403.9,486.3 L404.1,490.0 L404.3,493.7 L404.7,497.2 L405.2,500.5 L405.7,503.5 L406.4,506.4 L407.1,509.2 L408.1,511.8 L409.3,514.4 L410.6,516.8 L412.1,519.1 L413.8,521.4 L415.7,523.7 L417.6,525.8 L419.7,527.9 L421.9,529.8 L424.2,531.6 L426.8,533.3 L429.6,535.0 L432.9,536.8 L436.4,538.5 L440.0,539.9 L443.4,541.1 L446.8,542.0 L450.3,542.7 L453.7,543.2 L457.2,543.5 L460.6,543.6 L464.1,543.8 L467.7,543.8 L471.2,543.6 L474.6,543.3 L477.9,543.0 L480.9,542.8 L483.7,542.5 L486.4,542.1 L489.0,541.7 L491.5,541.3 L494.2,540.3 L497.1,539.0 L500.5,537.5 L504.2,536.2 L508.3,535.8 L512.1,536.1 L515.6,537.2 L518.5,538.6 L521.0,539.9 L523.4,540.8 L525.9,541.4 L528.4,542.0 L531.2,542.7 L534.1,543.2 L537.3,543.7 L540.6,544.3 L544.3,544.8 L548.1,545.3 L551.8,545.7 L555.5,545.8 L559.2,545.9 L562.9,545.9 L566.6,545.7 L570.2,545.3 L573.5,544.9 L576.4,544.6 L579.1,544.1 L581.6,543.6 L584.1,542.9 L586.5,542.1 L588.8,541.2 L591.0,540.4 L592.9,539.5 L594.6,538.5 L596.2,537.2 L597.9,535.4 L599.6,533.0 L601.3,530.1 L603.1,526.9 L604.8,523.8 L606.2,520.8 L607.5,517.8 L608.7,514.8 L609.8,511.7 L610.9,508.2 L611.7,504.3 L612.6,500.1 L613.3,495.7 L613.8,491.4 L614.3,487.4 L614.6,483.8 L614.7,480.3 L614.7,476.9 L614.6,473.6 L614.5,470.3 L614.5,467.2 L614.4,464.2 L614.2,461.4 L614.0,458.7 L613.8,455.9 L613.6,453.0 L613.3,450.1 L612.9,447.1 L612.5,444.1 L612.1,441.0 L611.8,437.8 L611.6,434.6 L611.4,431.5 L611.1,428.6 L610.9,426.0 L610.4,423.7 L609.9,421.6 L609.3,419.5 L608.8,417.4 L608.5,415.2 L608.6,413.2 L608.9,411.7 L609.3,410.5 L609.7,409.4 L610.0,408.2 L610.2,406.9 L610.2,405.2 L610.4,403.3 L610.6,401.2 L611.1,398.9 L611.9,396.7 L612.8,394.6 L613.8,392.6 L614.7,390.7 L615.3,388.9 L615.7,387.2 L615.9,385.4 L616.1,383.6 L616.2,381.9 L616.2,380.3 L616.0,379.0 L615.6,377.6 L615.2,376.2 L614.8,374.5 L614.6,372.8 L614.6,370.9 L614.8,369.1 L615.0,367.4 L615.3,365.8 L615.6,364.2 L615.9,362.6 L616.3,361.0 L616.6,359.5 L616.9,358.0 L617.1,356.7 L617.1,355.5 L617.0,354.2 L616.9,353.0 L616.8,351.9 L616.7,350.9 L616.4,350.0 L616.0,349.1 L615.6,348.0 L615.2,346.9 L614.9,345.5 L614.8,344.2 L614.9,343.2 L615.1,342.3 L615.4,341.2 L615.7,340.0 L616.1,338.2 L616.8,336.0 L617.4,333.8 L617.9,331.7 L618.3,330.2 L618.4,329.3 L618.4,328.8 L618.3,328.4 L618.1,327.8 L618.0,326.9 L617.6,325.6 L617.2,324.0 L616.7,322.2 L616.3,320.2 L616.0,318.2 L616.1,316.2 L616.3,314.1 L616.6,312.0 L617.1,310.0 L617.6,308.2 L618.3,306.6 L619.0,305.2 L619.8,304.1 L620.5,303.1 L621.0,302.2 L621.4,301.3 L621.7,300.5 L622.0,299.7 L622.2,298.9 L622.4,298.3 L622.5,297.9 L622.5,297.5 L622.4,297.1 L622.3,296.6 L622.3,295.9 L622.2,294.8 L622.0,293.6 L621.8,292.4 L621.7,291.3 L621.6,290.5" stroke="#f2c2a3" stroke-width="1.4" fill="none"/>
<path d="M395.7,298.4 L396.1,299.1 L396.6,300.1 L397.0,301.0 L397.6,302.0 L398.1,302.8 L398.9,303.6 L399.8,304.4 L401.0,305.4 L402.3,306.6 L403.5,307.9 L404.7,309.4 L405.8,311.0 L406.9,312.6 L407.8,314.2 L408.6,315.7 L409.4,317.1 L410.1,318.5 L410.8,319.9 L411.4,321.7 L412.0,324.0 L412.4,326.7 L412.8,329.6 L413.1,332.8 L413.3,336.1 L413.7,339.5 L414.1,343.3 L414.5,347.6 L415.0,351.9 L415.4,356.0 L415.7,359.6 L416.0,362.4 L416.2,364.6 L416.4,366.6 L416.5,369.0 L416.5,372.1 L416.3,376.2 L416.1,380.9 L415.8,386.0 L415.5,390.9 L415.2,395.4 L415.1,399.2 L415.0,402.8 L414.8,406.3 L414.6,409.9 L414.2,413.8 L413.7,418.2 L413.0,422.7 L412.2,427.3 L411.4,432.0 L410.6,436.6 L409.7,441.1 L408.6,445.6 L407.6,450.0 L406.7,454.3 L405.9,458.5 L405.2,462.6 L404.5,466.7 L404.0,470.7 L403.6,474.7 L403.3,478.5 L403.2,482.4 L403.2,486.3 L403.4,490.0 L403.6,493.7 L404.0,497.2 L404.5,500.5 L405.0,503.7 L405.6,506.6 L406.4,509.4 L407.4,512.1 L408.6,514.7 L409.9,517.1 L411.5,519.5 L413.1,521.9 L415.0,524.1 L417.0,526.3 L419.1,528.5 L421.3,530.5 L423.6,532.3 L426.3,534.0 L429.2,535.8 L432.5,537.6 L436.0,539.3 L439.7,540.8 L443.2,542.0 L446.6,542.9 L450.1,543.6 L453.6,544.1 L457.2,544.4 L460.6,544.5 L464.1,544.7 L467.7,544.7 L471.3,544.5 L474.8,544.2 L478.0,543.8 L481.1,543.6 L483.9,543.2 L486.6,542.8 L489.2,542.4 L491.8,541.9 L494.5,540.9 L497.4,539.5 L500.7,538.0 L504.4,536.8 L508.3,536.3 L512.0,536.6 L515.4,537.7 L518.2,539.1 L520.7,540.4 L523.1,541.4 L525.6,542.0 L528.2,542.7 L531.0,543.3 L533.9,543.9 L537.1,544.4 L540.5,545.0 L544.2,545.6 L548.0,546.1 L551.8,546.4 L555.5,546.6 L559.2,546.7 L562.9,546.6 L566.7,546.4 L570.3,546.1 L573.6,545.7 L576.6,545.3 L579.3,544.9 L581.8,544.3 L584.3,543.6 L586.7,542.8 L589.1,541.9 L591.3,541.0 L593.3,540.1 L595.1,539.1 L596.7,537.7 L598.4,535.8 L600.1,533.3 L601.9,530.4 L603.7,527.2 L605.3,524.0 L606.8,521.0 L608.1,518.0 L609.3,515.0 L610.4,511.8 L611.4,508.4 L612.3,504.4 L613.1,500.2 L613.8,495.8 L614.4,491.5 L614.8,487.5 L615.1,483.8 L615.2,480.3 L615.2,476.9 L615.2,473.5 L615.1,470.3 L615.0,467.1 L614.9,464.2 L614.8,461.4 L614.6,458.6 L614.3,455.8 L614.1,453.0 L613.7,450.0 L613.3,447.0 L612.9,444.0 L612.6,440.9 L612.3,437.7 L612.0,434.5 L611.7,431.4 L611.5,428.5 L611.2,425.9 L610.8,423.7 L610.2,421.5 L609.6,419.4 L609.1,417.3 L608.9,415.2 L608.9,413.3 L609.2,411.8 L609.6,410.5 L610.0,409.5 L610.3,408.3 L610.5,406.9 L610.5,405.3 L610.7,403.3 L610.9,401.2 L611.4,399.0 L612.1,396.8 L613.1,394.7 L614.1,392.7 L615.0,390.8 L615.6,389.0 L616.0,387.2 L616.2,385.4 L616.4,383.6 L616.5,381.9 L616.5,380.3 L616.3,378.9 L615.9,377.5 L615.5,376.1 L615.1,374.5 L614.9,372.7 L614.9,370.9 L615.1,369.2 L615.3,367.5 L615.6,365.9 L615.9,364.3 L616.2,362.7 L616.6,361.1 L616.9,359.5 L617.2,358.1 L617.4,356.7 L617.4,355.5 L617.4,354.2 L617.2,353.0 L617.1,351.9 L616.9,350.8 L616.7,349.9 L616.3,349.0 L615.9,347.9 L615.5,346.8 L615.2,345.5 L615.1,344.2 L615.2,343.2 L615.4,342.3 L615.6,341.3 L616.0,340.0 L616.4,338.3 L617.1,336.1 L617.7,333.8 L618.2,331.8 L618.6,330.2 L618.7,329.3 L618.7,328.8 L618.6,328.3 L618.4,327.8 L618.2,326.8 L617.9,325.5 L617.5,323.9 L617.0,322.1 L616.6,320.2 L616.4,318.2 L616.4,316.2 L616.6,314.1 L616.9,312.1 L617.4,310.1 L617.9,308.3 L618.5,306.7 L619.3,305.4 L620.1,304.2 L620.7,303.2 L621.3,302.3 L621.7,301.4 L622.0,300.6 L622.3,299.7 L622.5,299.0 L622.7,298.4 L622.8,297.9 L622.8,297.5 L622.7,297.1 L622.7,296.6 L622.6,295.8 L622.5,294.8 L622.3,293.6 L622.1,292.4 L622.0,291.3 L621.9,290.5" stroke="#f0ba96" stroke-width="1.4" fill="none"/>
<path d="M395.3,298.5 L395.7,299.3 L396.2,300.3 L396.7,301.2 L397.2,302.2 L397.8,303.1 L398.6,303.9 L399.6,304.7 L400.7,305.7 L402.0,306.9 L403.3,308.2 L404.4,309.7 L405.5,311.3 L406.5,312.8 L407.4,314.4 L408.3,315.9 L409.0,317.3 L409.7,318.6 L410.4,320.1 L411.0,321.8 L411.6,324.1 L412.0,326.7 L412.4,329.7 L412.7,332.8 L413.0,336.1 L413.3,339.6 L413.7,343.4 L414.1,347.6 L414.6,351.9 L415.0,356.0 L415.3,359.6 L415.6,362.4 L415.8,364.6 L416.0,366.7 L416.0,369.0 L416.0,372.1 L415.9,376.2 L415.7,380.9 L415.4,385.9 L415.1,390.9 L414.8,395.3 L414.6,399.2 L414.5,402.8 L414.4,406.2 L414.1,409.8 L413.7,413.8 L413.2,418.1 L412.5,422.6 L411.7,427.2 L410.9,431.9 L410.0,436.4 L409.1,440.9 L408.1,445.4 L407.0,449.9 L406.1,454.2 L405.3,458.4 L404.6,462.5 L403.9,466.6 L403.4,470.6 L402.9,474.6 L402.7,478.5 L402.6,482.4 L402.6,486.3 L402.7,490.1 L403.0,493.8 L403.3,497.3 L403.8,500.6 L404.3,503.8 L404.9,506.8 L405.7,509.6 L406.7,512.3 L407.9,514.9 L409.3,517.5 L410.8,519.9 L412.5,522.3 L414.3,524.6 L416.3,526.9 L418.4,529.1 L420.7,531.1 L423.1,533.0 L425.8,534.8 L428.7,536.6 L432.1,538.4 L435.7,540.1 L439.3,541.7 L442.9,542.9 L446.4,543.8 L449.9,544.5 L453.5,545.0 L457.1,545.3 L460.6,545.5 L464.2,545.6 L467.8,545.6 L471.4,545.3 L474.9,545.0 L478.2,544.6 L481.3,544.3 L484.1,544.0 L486.9,543.5 L489.4,543.0 L492.1,542.5 L494.8,541.5 L497.7,540.1 L500.9,538.5 L504.5,537.3 L508.3,536.9 L511.9,537.1 L515.2,538.2 L518.0,539.6 L520.4,541.0 L522.9,541.9 L525.4,542.6 L528.0,543.3 L530.8,544.0 L533.7,544.6 L536.9,545.1 L540.3,545.7 L544.0,546.3 L547.9,546.8 L551.7,547.2 L555.4,547.4 L559.2,547.5 L563.0,547.4 L566.8,547.2 L570.4,546.9 L573.7,546.5 L576.7,546.1 L579.5,545.6 L582.0,545.0 L584.5,544.3 L587.0,543.4 L589.4,542.5 L591.7,541.7 L593.7,540.7 L595.5,539.6 L597.2,538.2 L599.0,536.2 L600.7,533.7 L602.5,530.7 L604.2,527.5 L605.9,524.3 L607.3,521.2 L608.7,518.2 L609.8,515.2 L610.9,512.0 L612.0,508.5 L612.8,504.6 L613.7,500.3 L614.4,495.8 L615.0,491.5 L615.4,487.5 L615.7,483.8 L615.8,480.3 L615.8,476.9 L615.7,473.5 L615.6,470.2 L615.6,467.1 L615.5,464.2 L615.3,461.4 L615.1,458.6 L614.8,455.8 L614.6,452.9 L614.2,449.9 L613.8,447.0 L613.4,443.9 L613.0,440.8 L612.7,437.7 L612.4,434.5 L612.1,431.3 L611.9,428.4 L611.6,425.9 L611.1,423.6 L610.5,421.4 L609.9,419.3 L609.4,417.2 L609.2,415.2 L609.2,413.3 L609.5,411.8 L609.9,410.6 L610.3,409.5 L610.6,408.4 L610.8,406.9 L610.8,405.3 L611.0,403.4 L611.2,401.3 L611.7,399.1 L612.4,396.9 L613.4,394.8 L614.4,392.8 L615.3,390.9 L615.9,389.1 L616.3,387.3 L616.5,385.4 L616.7,383.6 L616.8,381.9 L616.8,380.3 L616.6,378.9 L616.2,377.5 L615.8,376.0 L615.4,374.5 L615.2,372.7 L615.2,370.9 L615.4,369.2 L615.6,367.5 L615.9,365.9 L616.2,364.4 L616.5,362.8 L616.9,361.2 L617.2,359.6 L617.5,358.1 L617.7,356.8 L617.7,355.5 L617.7,354.2 L617.6,353.0 L617.4,351.8 L617.2,350.8 L617.0,349.8 L616.6,348.9 L616.2,347.8 L615.8,346.7 L615.5,345.4 L615.4,344.2 L615.5,343.3 L615.7,342.4 L615.9,341.4 L616.3,340.1 L616.7,338.4 L617.3,336.2 L618.0,333.9 L618.5,331.8 L618.9,330.3 L619.0,329.3 L619.0,328.8 L618.9,328.3 L618.7,327.7 L618.5,326.8 L618.2,325.4 L617.8,323.8 L617.3,322.0 L616.9,320.1 L616.7,318.2 L616.7,316.2 L616.9,314.1 L617.2,312.1 L617.6,310.2 L618.2,308.4 L618.8,306.9 L619.6,305.5 L620.3,304.4 L621.0,303.4 L621.5,302.5 L621.9,301.6 L622.3,300.7 L622.6,299.8 L622.8,299.1 L623.0,298.4 L623.1,297.9 L623.1,297.5 L623.0,297.1 L623.0,296.5 L622.9,295.8 L622.8,294.8 L622.6,293.5 L622.4,292.3 L622.3,291.2 L622.2,290.5" stroke="#eeb28a" stroke-width="1.4" fill="none"/>
<path d="M395.0,298.7 L395.4,299.5 L395.9,300.5 L396.3,301.4 L396.9,302.4 L397.5,303.3 L398.3,304.1 L399.3,305.0 L400.5,306.0 L401.7,307.1 L403.0,308.4 L404.1,309.9 L405.2,311.5 L406.2,313.0 L407.1,314.6 L407.9,316.1 L408.7,317.5 L409.4,318.8 L410.1,320.2 L410.7,321.9 L411.2,324.1 L411.7,326.8 L412.0,329.7 L412.3,332.9 L412.6,336.2 L412.9,339.6 L413.3,343.4 L413.7,347.6 L414.2,352.0 L414.6,356.1 L414.9,359.7 L415.2,362.4 L415.4,364.6 L415.6,366.7 L415.6,369.0 L415.6,372.1 L415.5,376.2 L415.3,380.9 L414.9,385.9 L414.6,390.8 L414.3,395.3 L414.2,399.2 L414.1,402.7 L413.9,406.2 L413.7,409.8 L413.2,413.7 L412.7,418.0 L412.0,422.5 L411.2,427.1 L410.4,431.7 L409.5,436.3 L408.5,440.8 L407.5,445.3 L406.4,449.7 L405.5,454.0 L404.7,458.3 L403.9,462.4 L403.3,466.5 L402.7,470.5 L402.3,474.5 L402.0,478.4 L401.9,482.4 L401.9,486.3 L402.0,490.1 L402.3,493.8 L402.6,497.4 L403.1,500.7 L403.6,503.9 L404.2,506.9 L405.0,509.8 L406.0,512.6 L407.2,515.2 L408.6,517.8 L410.1,520.3 L411.8,522.8 L413.7,525.1 L415.7,527.4 L417.8,529.6 L420.1,531.7 L422.5,533.7 L425.2,535.5 L428.2,537.4 L431.7,539.2 L435.3,541.0 L439.0,542.5 L442.6,543.8 L446.2,544.7 L449.8,545.4 L453.4,545.9 L457.0,546.2 L460.6,546.4 L464.2,546.5 L467.9,546.4 L471.5,546.2 L475.0,545.8 L478.4,545.4 L481.4,545.1 L484.3,544.7 L487.1,544.2 L489.7,543.7 L492.3,543.0 L495.1,542.0 L497.9,540.6 L501.1,539.1 L504.6,537.8 L508.3,537.4 L511.8,537.6 L515.0,538.7 L517.7,540.1 L520.2,541.5 L522.6,542.5 L525.1,543.2 L527.8,543.9 L530.6,544.6 L533.6,545.3 L536.7,545.8 L540.2,546.5 L543.9,547.1 L547.8,547.6 L551.6,548.0 L555.4,548.2 L559.2,548.3 L563.0,548.2 L566.8,548.0 L570.5,547.7 L573.8,547.3 L576.9,546.9 L579.7,546.4 L582.3,545.7 L584.8,545.0 L587.3,544.1 L589.7,543.2 L592.0,542.3 L594.1,541.3 L596.0,540.1 L597.7,538.6 L599.5,536.6 L601.3,534.0 L603.0,531.0 L604.8,527.7 L606.4,524.5 L607.9,521.4 L609.2,518.4 L610.4,515.3 L611.5,512.1 L612.5,508.6 L613.4,504.7 L614.2,500.4 L614.9,495.9 L615.5,491.6 L616.0,487.6 L616.2,483.8 L616.3,480.3 L616.3,476.9 L616.3,473.5 L616.2,470.2 L616.1,467.1 L616.0,464.1 L615.8,461.3 L615.6,458.5 L615.3,455.7 L615.1,452.8 L614.7,449.9 L614.3,446.9 L613.8,443.8 L613.4,440.8 L613.1,437.6 L612.8,434.4 L612.5,431.3 L612.2,428.4 L611.9,425.8 L611.4,423.5 L610.8,421.3 L610.2,419.3 L609.7,417.2 L609.5,415.1 L609.5,413.3 L609.8,411.9 L610.2,410.7 L610.6,409.6 L610.9,408.4 L611.1,407.0 L611.2,405.3 L611.3,403.4 L611.5,401.3 L612.0,399.2 L612.7,397.0 L613.7,394.9 L614.7,392.9 L615.5,391.0 L616.2,389.2 L616.6,387.3 L616.8,385.5 L617.0,383.6 L617.1,381.9 L617.1,380.3 L616.9,378.8 L616.5,377.4 L616.1,376.0 L615.7,374.4 L615.5,372.7 L615.5,370.9 L615.7,369.2 L615.9,367.6 L616.2,366.0 L616.5,364.4 L616.8,362.8 L617.2,361.2 L617.5,359.6 L617.8,358.2 L618.0,356.8 L618.0,355.5 L618.0,354.2 L617.9,352.9 L617.7,351.8 L617.5,350.7 L617.3,349.7 L616.9,348.8 L616.5,347.8 L616.1,346.6 L615.8,345.4 L615.7,344.2 L615.8,343.3 L616.0,342.4 L616.2,341.5 L616.6,340.2 L617.0,338.5 L617.6,336.3 L618.3,334.0 L618.8,331.9 L619.2,330.3 L619.3,329.3 L619.3,328.7 L619.2,328.2 L619.0,327.7 L618.8,326.7 L618.5,325.3 L618.1,323.8 L617.6,322.0 L617.2,320.1 L617.0,318.2 L617.0,316.2 L617.2,314.2 L617.5,312.2 L617.9,310.3 L618.4,308.5 L619.1,307.0 L619.8,305.7 L620.6,304.5 L621.3,303.5 L621.8,302.6 L622.2,301.7 L622.6,300.8 L622.9,299.9 L623.1,299.2 L623.3,298.5 L623.4,298.0 L623.4,297.5 L623.3,297.1 L623.3,296.5 L623.2,295.7 L623.1,294.7 L622.9,293.5 L622.7,292.3 L622.6,291.2 L622.5,290.4" stroke="#eaa97f" stroke-width="1.4" fill="none"/>
<path d="M394.6,298.9 L395.0,299.7 L395.5,300.7 L396.0,301.6 L396.6,302.7 L397.2,303.6 L398.0,304.4 L399.0,305.3 L400.2,306.3 L401.5,307.4 L402.7,308.7 L403.8,310.1 L404.9,311.7 L405.9,313.3 L406.8,314.8 L407.6,316.3 L408.3,317.7 L409.0,318.9 L409.7,320.3 L410.3,322.1 L410.8,324.2 L411.3,326.8 L411.6,329.8 L411.9,332.9 L412.2,336.2 L412.5,339.7 L412.9,343.5 L413.3,347.7 L413.8,352.0 L414.2,356.1 L414.5,359.7 L414.8,362.5 L415.0,364.7 L415.2,366.7 L415.2,369.0 L415.2,372.1 L415.1,376.1 L414.8,380.9 L414.5,385.9 L414.2,390.8 L413.9,395.3 L413.7,399.1 L413.6,402.7 L413.4,406.1 L413.2,409.7 L412.8,413.6 L412.2,417.9 L411.5,422.4 L410.7,427.0 L409.8,431.6 L408.9,436.2 L408.0,440.7 L406.9,445.1 L405.9,449.6 L404.9,453.9 L404.1,458.2 L403.3,462.3 L402.7,466.4 L402.1,470.5 L401.7,474.5 L401.4,478.4 L401.2,482.3 L401.2,486.2 L401.3,490.1 L401.6,493.8 L401.9,497.4 L402.4,500.8 L402.9,504.0 L403.5,507.1 L404.3,510.0 L405.3,512.8 L406.5,515.5 L407.9,518.2 L409.4,520.7 L411.1,523.2 L413.0,525.6 L415.0,528.0 L417.2,530.2 L419.5,532.4 L422.0,534.4 L424.7,536.3 L427.8,538.2 L431.2,540.1 L434.9,541.8 L438.7,543.4 L442.4,544.6 L446.0,545.6 L449.6,546.3 L453.3,546.8 L457.0,547.1 L460.6,547.3 L464.2,547.4 L467.9,547.3 L471.6,547.0 L475.2,546.6 L478.5,546.2 L481.6,545.9 L484.6,545.4 L487.3,544.9 L489.9,544.3 L492.6,543.6 L495.3,542.6 L498.2,541.2 L501.3,539.6 L504.7,538.4 L508.3,537.9 L511.7,538.2 L514.8,539.2 L517.5,540.7 L519.9,542.0 L522.3,543.0 L524.9,543.8 L527.5,544.5 L530.4,545.3 L533.4,546.0 L536.6,546.5 L540.0,547.2 L543.8,547.8 L547.7,548.4 L551.6,548.8 L555.4,549.0 L559.1,549.1 L563.0,549.0 L566.9,548.8 L570.6,548.5 L574.0,548.0 L577.0,547.6 L579.8,547.1 L582.5,546.5 L585.0,545.7 L587.6,544.8 L590.0,543.9 L592.4,542.9 L594.5,541.9 L596.4,540.7 L598.2,539.1 L600.0,537.0 L601.8,534.4 L603.6,531.3 L605.3,528.0 L607.0,524.8 L608.4,521.7 L609.8,518.6 L611.0,515.5 L612.0,512.3 L613.1,508.8 L614.0,504.8 L614.8,500.5 L615.5,496.0 L616.1,491.6 L616.5,487.6 L616.8,483.9 L616.9,480.3 L616.9,476.9 L616.8,473.5 L616.7,470.2 L616.6,467.1 L616.5,464.1 L616.4,461.3 L616.1,458.5 L615.8,455.6 L615.6,452.7 L615.2,449.8 L614.7,446.8 L614.3,443.7 L613.8,440.7 L613.5,437.5 L613.2,434.3 L612.9,431.2 L612.6,428.3 L612.2,425.7 L611.7,423.4 L611.1,421.2 L610.5,419.2 L610.0,417.1 L609.8,415.1 L609.8,413.4 L610.1,411.9 L610.5,410.8 L610.9,409.7 L611.2,408.5 L611.4,407.0 L611.5,405.4 L611.6,403.5 L611.8,401.4 L612.3,399.3 L613.0,397.1 L614.0,395.0 L615.0,393.0 L615.8,391.1 L616.5,389.2 L616.9,387.4 L617.1,385.5 L617.3,383.6 L617.4,381.9 L617.4,380.2 L617.2,378.8 L616.8,377.4 L616.4,375.9 L616.0,374.4 L615.8,372.7 L615.8,370.9 L616.0,369.2 L616.2,367.6 L616.5,366.1 L616.8,364.5 L617.1,362.9 L617.5,361.3 L617.8,359.7 L618.1,358.2 L618.3,356.8 L618.3,355.5 L618.3,354.2 L618.2,352.9 L618.0,351.7 L617.8,350.6 L617.6,349.6 L617.2,348.7 L616.8,347.7 L616.3,346.6 L616.1,345.4 L616.0,344.2 L616.1,343.3 L616.3,342.5 L616.5,341.5 L616.9,340.3 L617.3,338.5 L617.9,336.4 L618.6,334.1 L619.1,332.0 L619.5,330.3 L619.6,329.4 L619.6,328.7 L619.5,328.2 L619.3,327.6 L619.1,326.6 L618.8,325.3 L618.4,323.7 L617.9,321.9 L617.5,320.0 L617.3,318.1 L617.3,316.2 L617.5,314.2 L617.8,312.3 L618.2,310.4 L618.7,308.6 L619.4,307.1 L620.1,305.8 L620.9,304.7 L621.5,303.7 L622.1,302.7 L622.5,301.8 L622.9,300.9 L623.2,300.0 L623.4,299.2 L623.6,298.5 L623.7,298.0 L623.7,297.5 L623.6,297.0 L623.6,296.5 L623.5,295.7 L623.4,294.7 L623.2,293.5 L623.0,292.2 L622.9,291.1 L622.8,290.4" stroke="#e6a074" stroke-width="1.4" fill="none"/>
<path d="M394.3,299.1 L394.7,299.8 L395.2,300.8 L395.7,301.8 L396.3,302.9 L396.9,303.8 L397.7,304.7 L398.7,305.6 L399.9,306.5 L401.2,307.7 L402.4,309.0 L403.5,310.4 L404.5,311.9 L405.5,313.5 L406.4,315.0 L407.2,316.5 L408.0,317.8 L408.7,319.1 L409.3,320.5 L409.9,322.2 L410.5,324.3 L410.9,326.9 L411.2,329.8 L411.5,332.9 L411.8,336.2 L412.1,339.7 L412.5,343.5 L413.0,347.7 L413.4,352.0 L413.8,356.1 L414.1,359.7 L414.4,362.5 L414.6,364.7 L414.7,366.7 L414.8,369.0 L414.8,372.1 L414.7,376.1 L414.4,380.8 L414.1,385.9 L413.8,390.8 L413.5,395.2 L413.3,399.1 L413.2,402.6 L413.0,406.1 L412.7,409.7 L412.3,413.5 L411.7,417.8 L411.0,422.3 L410.2,426.9 L409.3,431.5 L408.4,436.1 L407.4,440.5 L406.3,445.0 L405.3,449.4 L404.3,453.8 L403.4,458.0 L402.7,462.2 L402.0,466.3 L401.5,470.4 L401.0,474.4 L400.7,478.4 L400.6,482.3 L400.6,486.2 L400.7,490.1 L400.9,493.9 L401.2,497.5 L401.7,500.9 L402.2,504.1 L402.8,507.2 L403.6,510.2 L404.6,513.1 L405.8,515.8 L407.2,518.5 L408.7,521.1 L410.4,523.6 L412.3,526.1 L414.4,528.5 L416.5,530.8 L418.9,533.0 L421.4,535.1 L424.2,537.0 L427.3,539.0 L430.8,540.9 L434.6,542.7 L438.4,544.2 L442.1,545.5 L445.8,546.5 L449.5,547.2 L453.2,547.7 L456.9,548.0 L460.6,548.2 L464.3,548.3 L468.0,548.2 L471.7,547.9 L475.3,547.5 L478.7,547.0 L481.8,546.6 L484.8,546.1 L487.5,545.6 L490.2,544.9 L492.9,544.2 L495.6,543.2 L498.5,541.7 L501.5,540.1 L504.9,538.9 L508.3,538.4 L511.6,538.7 L514.6,539.8 L517.2,541.2 L519.6,542.5 L522.1,543.6 L524.6,544.4 L527.3,545.1 L530.1,545.9 L533.2,546.6 L536.4,547.3 L539.9,547.9 L543.6,548.6 L547.6,549.1 L551.5,549.5 L555.3,549.7 L559.1,549.8 L563.0,549.8 L566.9,549.6 L570.6,549.2 L574.1,548.8 L577.2,548.4 L580.0,547.8 L582.7,547.2 L585.3,546.4 L587.8,545.5 L590.3,544.5 L592.7,543.6 L594.9,542.5 L596.9,541.2 L598.7,539.6 L600.6,537.4 L602.4,534.7 L604.2,531.6 L605.9,528.3 L607.5,525.0 L609.0,521.9 L610.3,518.8 L611.5,515.7 L612.6,512.5 L613.6,508.9 L614.5,504.9 L615.3,500.6 L616.1,496.1 L616.7,491.7 L617.1,487.6 L617.4,483.9 L617.5,480.3 L617.4,476.8 L617.3,473.5 L617.3,470.2 L617.2,467.0 L617.1,464.1 L616.9,461.2 L616.7,458.4 L616.4,455.6 L616.1,452.6 L615.6,449.7 L615.2,446.7 L614.7,443.7 L614.3,440.6 L613.9,437.5 L613.6,434.3 L613.3,431.2 L612.9,428.2 L612.6,425.6 L612.1,423.3 L611.5,421.2 L610.8,419.1 L610.3,417.1 L610.1,415.1 L610.1,413.4 L610.4,412.0 L610.8,410.8 L611.2,409.8 L611.5,408.5 L611.7,407.1 L611.8,405.4 L611.9,403.5 L612.1,401.4 L612.6,399.3 L613.3,397.2 L614.2,395.2 L615.2,393.1 L616.1,391.2 L616.8,389.3 L617.2,387.5 L617.4,385.6 L617.6,383.7 L617.7,381.9 L617.7,380.2 L617.5,378.7 L617.1,377.3 L616.7,375.9 L616.3,374.3 L616.1,372.7 L616.1,370.9 L616.3,369.3 L616.5,367.7 L616.8,366.1 L617.1,364.5 L617.4,362.9 L617.8,361.3 L618.1,359.7 L618.4,358.2 L618.6,356.8 L618.6,355.5 L618.6,354.1 L618.5,352.9 L618.3,351.7 L618.1,350.6 L617.9,349.6 L617.5,348.6 L617.0,347.6 L616.6,346.5 L616.4,345.3 L616.3,344.2 L616.4,343.4 L616.6,342.5 L616.8,341.6 L617.1,340.4 L617.6,338.6 L618.2,336.4 L618.9,334.1 L619.4,332.0 L619.8,330.4 L619.9,329.4 L619.9,328.7 L619.8,328.2 L619.6,327.5 L619.4,326.6 L619.1,325.2 L618.7,323.6 L618.2,321.9 L617.8,320.0 L617.6,318.1 L617.6,316.2 L617.8,314.3 L618.1,312.3 L618.5,310.5 L619.0,308.7 L619.6,307.3 L620.4,306.0 L621.1,304.8 L621.8,303.8 L622.3,302.9 L622.8,301.9 L623.1,301.0 L623.5,300.1 L623.7,299.3 L623.9,298.6 L624.0,298.0 L624.0,297.5 L623.9,297.0 L623.9,296.4 L623.8,295.7 L623.7,294.6 L623.5,293.4 L623.3,292.2 L623.2,291.1 L623.1,290.3" stroke="#e29869" stroke-width="1.4" fill="none"/>
<path d="M393.9,299.3 L394.3,300.0 L394.8,301.0 L395.3,302.0 L395.9,303.1 L396.6,304.1 L397.5,304.9 L398.5,305.8 L399.7,306.8 L400.9,307.9 L402.1,309.2 L403.2,310.6 L404.2,312.1 L405.2,313.7 L406.1,315.2 L406.9,316.7 L407.6,318.0 L408.3,319.3 L409.0,320.6 L409.5,322.3 L410.1,324.4 L410.5,327.0 L410.8,329.8 L411.1,333.0 L411.4,336.3 L411.7,339.7 L412.1,343.5 L412.6,347.8 L413.0,352.1 L413.4,356.2 L413.7,359.8 L414.0,362.5 L414.2,364.7 L414.3,366.7 L414.4,369.0 L414.4,372.1 L414.2,376.1 L414.0,380.8 L413.7,385.8 L413.3,390.8 L413.0,395.2 L412.8,399.1 L412.7,402.6 L412.5,406.1 L412.3,409.6 L411.8,413.5 L411.2,417.7 L410.5,422.2 L409.6,426.8 L408.8,431.4 L407.8,435.9 L406.9,440.4 L405.8,444.9 L404.7,449.3 L403.7,453.6 L402.8,457.9 L402.1,462.1 L401.4,466.2 L400.8,470.3 L400.4,474.3 L400.1,478.3 L399.9,482.3 L399.9,486.2 L400.0,490.1 L400.2,493.9 L400.5,497.6 L401.0,501.0 L401.5,504.3 L402.1,507.4 L402.9,510.4 L403.9,513.3 L405.1,516.1 L406.5,518.8 L408.0,521.5 L409.8,524.1 L411.7,526.6 L413.7,529.0 L415.9,531.4 L418.3,533.7 L420.8,535.8 L423.7,537.8 L426.8,539.7 L430.4,541.7 L434.2,543.5 L438.1,545.1 L441.9,546.4 L445.6,547.4 L449.3,548.1 L453.1,548.6 L456.9,548.9 L460.6,549.1 L464.3,549.2 L468.1,549.1 L471.8,548.7 L475.4,548.3 L478.8,547.8 L482.0,547.4 L485.0,546.9 L487.8,546.3 L490.4,545.6 L493.1,544.8 L495.9,543.7 L498.7,542.2 L501.7,540.7 L505.0,539.4 L508.3,538.9 L511.5,539.2 L514.4,540.3 L517.0,541.7 L519.4,543.1 L521.8,544.1 L524.4,545.0 L527.1,545.8 L529.9,546.6 L533.0,547.3 L536.2,548.0 L539.7,548.7 L543.5,549.3 L547.5,549.9 L551.4,550.3 L555.3,550.5 L559.1,550.6 L563.1,550.6 L567.0,550.3 L570.7,550.0 L574.2,549.6 L577.3,549.1 L580.2,548.6 L582.9,547.9 L585.5,547.1 L588.1,546.2 L590.6,545.2 L593.0,544.2 L595.3,543.1 L597.3,541.8 L599.3,540.1 L601.1,537.8 L603.0,535.1 L604.7,531.9 L606.5,528.6 L608.1,525.3 L609.6,522.1 L610.9,519.0 L612.1,515.9 L613.1,512.6 L614.2,509.0 L615.1,505.0 L615.9,500.7 L616.6,496.2 L617.2,491.8 L617.7,487.7 L617.9,483.9 L618.0,480.3 L618.0,476.8 L617.9,473.5 L617.8,470.2 L617.7,467.0 L617.6,464.0 L617.4,461.2 L617.2,458.4 L616.9,455.5 L616.6,452.6 L616.1,449.6 L615.6,446.6 L615.1,443.6 L614.7,440.5 L614.3,437.4 L614.0,434.2 L613.6,431.1 L613.3,428.2 L612.9,425.5 L612.4,423.2 L611.8,421.1 L611.2,419.0 L610.6,417.0 L610.4,415.1 L610.4,413.4 L610.7,412.0 L611.1,410.9 L611.5,409.8 L611.8,408.6 L612.0,407.1 L612.1,405.4 L612.2,403.5 L612.4,401.5 L612.8,399.4 L613.6,397.4 L614.5,395.3 L615.5,393.2 L616.4,391.3 L617.1,389.4 L617.5,387.5 L617.7,385.6 L617.9,383.7 L618.0,381.9 L618.0,380.2 L617.8,378.7 L617.4,377.2 L617.0,375.8 L616.6,374.3 L616.4,372.6 L616.4,371.0 L616.6,369.3 L616.8,367.7 L617.1,366.2 L617.4,364.6 L617.7,363.0 L618.1,361.4 L618.4,359.8 L618.7,358.3 L618.9,356.8 L618.9,355.5 L618.9,354.1 L618.8,352.8 L618.6,351.6 L618.4,350.5 L618.2,349.5 L617.8,348.5 L617.3,347.5 L616.9,346.4 L616.7,345.3 L616.6,344.2 L616.7,343.4 L616.9,342.6 L617.1,341.7 L617.4,340.4 L617.9,338.7 L618.5,336.5 L619.2,334.2 L619.7,332.1 L620.1,330.4 L620.2,329.4 L620.2,328.7 L620.1,328.1 L619.9,327.5 L619.7,326.5 L619.4,325.1 L619.0,323.5 L618.5,321.8 L618.1,320.0 L617.9,318.1 L617.9,316.2 L618.1,314.3 L618.4,312.4 L618.8,310.5 L619.3,308.9 L619.9,307.4 L620.6,306.1 L621.4,305.0 L622.1,304.0 L622.6,303.0 L623.0,302.1 L623.4,301.1 L623.8,300.2 L624.0,299.4 L624.2,298.6 L624.3,298.0 L624.3,297.5 L624.2,297.0 L624.2,296.4 L624.1,295.6 L624.0,294.6 L623.8,293.4 L623.6,292.1 L623.5,291.1 L623.4,290.3" stroke="#de8f5e" stroke-width="1.4" fill="none"/>
<path d="M393.6,299.4 L394.0,300.2 L394.5,301.2 L395.0,302.2 L395.6,303.3 L396.3,304.3 L397.2,305.2 L398.2,306.1 L399.4,307.1 L400.6,308.2 L401.8,309.5 L402.9,310.9 L403.9,312.4 L404.9,313.9 L405.7,315.4 L406.5,316.9 L407.3,318.2 L408.0,319.4 L408.6,320.8 L409.2,322.4 L409.7,324.5 L410.1,327.0 L410.4,329.9 L410.7,333.0 L411.0,336.3 L411.3,339.8 L411.7,343.6 L412.2,347.8 L412.6,352.1 L413.0,356.2 L413.3,359.8 L413.6,362.6 L413.8,364.7 L413.9,366.7 L414.0,369.0 L414.0,372.1 L413.8,376.1 L413.6,380.8 L413.2,385.8 L412.9,390.7 L412.6,395.2 L412.4,399.0 L412.2,402.6 L412.1,406.0 L411.8,409.6 L411.3,413.4 L410.7,417.6 L410.0,422.1 L409.1,426.7 L408.2,431.3 L407.3,435.8 L406.3,440.3 L405.2,444.7 L404.1,449.1 L403.1,453.5 L402.2,457.8 L401.4,462.0 L400.8,466.1 L400.2,470.2 L399.7,474.3 L399.4,478.3 L399.2,482.3 L399.2,486.2 L399.3,490.2 L399.5,494.0 L399.9,497.6 L400.3,501.1 L400.8,504.4 L401.4,507.5 L402.2,510.6 L403.2,513.5 L404.4,516.4 L405.8,519.2 L407.3,521.9 L409.1,524.5 L411.0,527.1 L413.1,529.6 L415.3,532.0 L417.7,534.3 L420.3,536.5 L423.1,538.5 L426.4,540.5 L430.0,542.5 L433.8,544.3 L437.8,545.9 L441.6,547.3 L445.3,548.3 L449.2,549.0 L453.0,549.5 L456.8,549.9 L460.6,550.0 L464.3,550.1 L468.2,549.9 L471.9,549.6 L475.6,549.1 L479.0,548.6 L482.2,548.2 L485.2,547.6 L488.0,546.9 L490.7,546.2 L493.4,545.4 L496.2,544.3 L499.0,542.8 L502.0,541.2 L505.1,540.0 L508.3,539.5 L511.4,539.8 L514.2,540.8 L516.7,542.2 L519.1,543.6 L521.6,544.7 L524.2,545.5 L526.9,546.4 L529.7,547.2 L532.8,548.0 L536.0,548.7 L539.6,549.4 L543.4,550.1 L547.4,550.6 L551.3,551.1 L555.2,551.3 L559.1,551.4 L563.1,551.3 L567.0,551.1 L570.8,550.8 L574.3,550.4 L577.5,549.9 L580.4,549.3 L583.1,548.6 L585.8,547.8 L588.4,546.9 L590.9,545.9 L593.4,544.8 L595.7,543.7 L597.8,542.3 L599.8,540.5 L601.7,538.3 L603.5,535.4 L605.3,532.2 L607.0,528.8 L608.7,525.5 L610.1,522.4 L611.4,519.2 L612.6,516.1 L613.7,512.8 L614.7,509.2 L615.6,505.2 L616.4,500.8 L617.2,496.3 L617.8,491.8 L618.2,487.7 L618.5,483.9 L618.6,480.3 L618.5,476.8 L618.4,473.4 L618.3,470.1 L618.2,467.0 L618.1,464.0 L617.9,461.1 L617.7,458.3 L617.4,455.4 L617.1,452.5 L616.6,449.5 L616.1,446.5 L615.6,443.5 L615.1,440.5 L614.7,437.3 L614.4,434.1 L614.0,431.0 L613.6,428.1 L613.3,425.5 L612.7,423.1 L612.1,421.0 L611.5,418.9 L610.9,417.0 L610.7,415.1 L610.7,413.4 L611.0,412.1 L611.4,411.0 L611.8,409.9 L612.1,408.7 L612.3,407.2 L612.4,405.5 L612.5,403.6 L612.7,401.6 L613.1,399.5 L613.9,397.5 L614.8,395.4 L615.8,393.4 L616.7,391.4 L617.3,389.5 L617.8,387.6 L618.0,385.6 L618.2,383.7 L618.3,381.9 L618.3,380.2 L618.1,378.6 L617.7,377.2 L617.3,375.7 L616.9,374.2 L616.7,372.6 L616.7,371.0 L616.9,369.3 L617.1,367.8 L617.4,366.2 L617.7,364.7 L618.0,363.1 L618.4,361.4 L618.7,359.8 L619.0,358.3 L619.2,356.9 L619.2,355.5 L619.2,354.1 L619.1,352.8 L618.9,351.6 L618.7,350.4 L618.4,349.4 L618.1,348.4 L617.6,347.4 L617.2,346.3 L617.0,345.2 L616.9,344.2 L617.0,343.4 L617.2,342.7 L617.4,341.7 L617.7,340.5 L618.2,338.8 L618.8,336.6 L619.5,334.3 L620.0,332.1 L620.4,330.5 L620.5,329.4 L620.5,328.7 L620.4,328.1 L620.2,327.4 L620.0,326.4 L619.7,325.1 L619.3,323.5 L618.8,321.7 L618.4,319.9 L618.2,318.1 L618.2,316.2 L618.4,314.3 L618.7,312.4 L619.1,310.6 L619.6,309.0 L620.2,307.5 L620.9,306.3 L621.6,305.1 L622.3,304.1 L622.9,303.2 L623.3,302.2 L623.7,301.2 L624.0,300.3 L624.3,299.5 L624.5,298.7 L624.6,298.1 L624.6,297.5 L624.6,297.0 L624.5,296.4 L624.4,295.6 L624.3,294.6 L624.1,293.3 L623.9,292.1 L623.8,291.0 L623.7,290.2" stroke="#d98654" stroke-width="1.4" fill="none"/>
<path d="M393.2,299.6 L393.6,300.4 L394.1,301.4 L394.7,302.4 L395.3,303.5 L396.0,304.6 L396.9,305.5 L397.9,306.4 L399.1,307.4 L400.3,308.5 L401.5,309.7 L402.5,311.1 L403.6,312.6 L404.5,314.1 L405.4,315.6 L406.2,317.0 L406.9,318.4 L407.6,319.6 L408.2,320.9 L408.8,322.5 L409.3,324.6 L409.7,327.1 L410.1,329.9 L410.3,333.1 L410.6,336.4 L410.9,339.8 L411.3,343.6 L411.8,347.8 L412.2,352.1 L412.6,356.3 L412.9,359.8 L413.2,362.6 L413.4,364.7 L413.5,366.7 L413.6,369.0 L413.6,372.0 L413.4,376.1 L413.1,380.8 L412.8,385.8 L412.5,390.7 L412.2,395.1 L412.0,399.0 L411.8,402.5 L411.6,406.0 L411.3,409.5 L410.9,413.3 L410.3,417.6 L409.5,422.0 L408.6,426.6 L407.7,431.1 L406.7,435.7 L405.7,440.1 L404.6,444.6 L403.5,449.0 L402.5,453.4 L401.6,457.6 L400.8,461.8 L400.1,466.0 L399.5,470.1 L399.1,474.2 L398.8,478.2 L398.6,482.2 L398.5,486.2 L398.6,490.2 L398.8,494.0 L399.2,497.7 L399.6,501.2 L400.1,504.5 L400.7,507.7 L401.5,510.8 L402.5,513.8 L403.7,516.7 L405.1,519.5 L406.7,522.3 L408.4,525.0 L410.3,527.6 L412.4,530.1 L414.7,532.6 L417.1,534.9 L419.7,537.2 L422.6,539.3 L425.9,541.3 L429.6,543.3 L433.5,545.2 L437.4,546.8 L441.3,548.1 L445.1,549.2 L449.0,549.9 L452.9,550.4 L456.7,550.8 L460.6,550.9 L464.4,551.0 L468.2,550.8 L472.0,550.4 L475.7,550.0 L479.2,549.5 L482.4,548.9 L485.4,548.3 L488.2,547.6 L490.9,546.9 L493.7,546.0 L496.4,544.8 L499.2,543.3 L502.2,541.7 L505.2,540.5 L508.3,540.0 L511.3,540.3 L514.0,541.3 L516.5,542.7 L518.8,544.1 L521.3,545.2 L523.9,546.1 L526.6,547.0 L529.5,547.9 L532.6,548.7 L535.9,549.4 L539.4,550.1 L543.3,550.8 L547.3,551.4 L551.3,551.8 L555.2,552.1 L559.1,552.2 L563.1,552.1 L567.1,551.9 L570.9,551.6 L574.4,551.1 L577.6,550.7 L580.6,550.1 L583.3,549.4 L586.0,548.5 L588.6,547.6 L591.2,546.5 L593.7,545.5 L596.1,544.3 L598.2,542.8 L600.3,541.0 L602.2,538.7 L604.1,535.8 L605.9,532.5 L607.6,529.1 L609.2,525.8 L610.7,522.6 L612.0,519.4 L613.2,516.3 L614.2,512.9 L615.3,509.3 L616.2,505.3 L617.0,500.9 L617.7,496.3 L618.3,491.9 L618.8,487.8 L619.0,484.0 L619.1,480.3 L619.1,476.8 L619.0,473.4 L618.9,470.1 L618.8,466.9 L618.7,464.0 L618.5,461.1 L618.2,458.2 L617.9,455.4 L617.6,452.4 L617.1,449.4 L616.6,446.4 L616.0,443.4 L615.6,440.4 L615.1,437.3 L614.8,434.1 L614.4,431.0 L614.0,428.0 L613.6,425.4 L613.1,423.0 L612.4,420.9 L611.8,418.9 L611.3,416.9 L611.0,415.1 L611.0,413.5 L611.3,412.2 L611.7,411.1 L612.1,410.0 L612.4,408.7 L612.6,407.2 L612.7,405.5 L612.8,403.6 L613.0,401.6 L613.4,399.6 L614.2,397.6 L615.1,395.5 L616.1,393.5 L617.0,391.5 L617.6,389.6 L618.1,387.7 L618.3,385.7 L618.5,383.7 L618.6,381.9 L618.6,380.1 L618.4,378.6 L618.0,377.1 L617.6,375.7 L617.2,374.2 L617.0,372.6 L617.0,371.0 L617.2,369.4 L617.4,367.8 L617.7,366.3 L618.0,364.7 L618.3,363.1 L618.7,361.5 L619.0,359.9 L619.3,358.3 L619.5,356.9 L619.5,355.5 L619.5,354.1 L619.4,352.8 L619.2,351.5 L619.0,350.4 L618.7,349.3 L618.3,348.3 L617.9,347.3 L617.5,346.3 L617.3,345.2 L617.2,344.2 L617.3,343.5 L617.5,342.7 L617.7,341.8 L618.0,340.6 L618.5,338.9 L619.1,336.7 L619.8,334.4 L620.3,332.2 L620.7,330.5 L620.8,329.4 L620.8,328.7 L620.7,328.0 L620.5,327.4 L620.3,326.4 L620.0,325.0 L619.6,323.4 L619.1,321.7 L618.7,319.9 L618.5,318.1 L618.5,316.2 L618.7,314.4 L619.0,312.5 L619.4,310.7 L619.9,309.1 L620.5,307.6 L621.2,306.4 L621.9,305.3 L622.6,304.3 L623.1,303.3 L623.6,302.3 L624.0,301.3 L624.3,300.4 L624.6,299.5 L624.8,298.7 L624.9,298.1 L624.9,297.5 L624.9,297.0 L624.8,296.4 L624.7,295.6 L624.6,294.5 L624.4,293.3 L624.3,292.1 L624.1,291.0 L624.0,290.2" stroke="#d47d4a" stroke-width="1.4" fill="none"/>
<path d="M392.9,299.8 L393.3,300.5 L393.8,301.5 L394.3,302.6 L395.0,303.8 L395.7,304.8 L396.6,305.7 L397.7,306.7 L398.8,307.7 L400.0,308.8 L401.2,310.0 L402.2,311.3 L403.2,312.8 L404.2,314.3 L405.1,315.8 L405.9,317.2 L406.6,318.6 L407.3,319.8 L407.9,321.1 L408.4,322.6 L408.9,324.7 L409.3,327.2 L409.7,330.0 L410.0,333.1 L410.2,336.4 L410.6,339.8 L411.0,343.7 L411.4,347.9 L411.8,352.2 L412.2,356.3 L412.6,359.9 L412.8,362.6 L413.0,364.8 L413.1,366.7 L413.2,369.0 L413.2,372.0 L413.0,376.1 L412.7,380.7 L412.4,385.7 L412.0,390.7 L411.7,395.1 L411.5,399.0 L411.3,402.5 L411.2,405.9 L410.9,409.4 L410.4,413.3 L409.8,417.5 L409.0,421.9 L408.1,426.4 L407.1,431.0 L406.2,435.5 L405.2,440.0 L404.0,444.4 L402.9,448.8 L401.9,453.2 L401.0,457.5 L400.2,461.7 L399.5,465.9 L398.9,470.0 L398.4,474.1 L398.1,478.2 L397.9,482.2 L397.9,486.2 L398.0,490.2 L398.2,494.0 L398.5,497.7 L398.9,501.3 L399.4,504.6 L400.0,507.9 L400.8,511.0 L401.8,514.0 L403.0,517.0 L404.4,519.9 L406.0,522.7 L407.7,525.4 L409.7,528.0 L411.8,530.6 L414.0,533.2 L416.5,535.6 L419.1,537.9 L422.1,540.0 L425.4,542.1 L429.1,544.1 L433.1,546.0 L437.1,547.6 L441.1,549.0 L444.9,550.0 L448.8,550.8 L452.8,551.3 L456.7,551.7 L460.5,551.8 L464.4,551.9 L468.3,551.7 L472.1,551.3 L475.9,550.8 L479.3,550.3 L482.6,549.7 L485.6,549.1 L488.4,548.3 L491.2,547.5 L493.9,546.6 L496.7,545.4 L499.5,543.9 L502.4,542.3 L505.4,541.0 L508.4,540.5 L511.2,540.8 L513.8,541.8 L516.2,543.2 L518.6,544.6 L521.0,545.8 L523.7,546.7 L526.4,547.6 L529.3,548.5 L532.4,549.4 L535.7,550.1 L539.3,550.9 L543.1,551.6 L547.2,552.1 L551.2,552.6 L555.2,552.9 L559.1,553.0 L563.1,552.9 L567.1,552.7 L571.0,552.3 L574.5,551.9 L577.8,551.4 L580.7,550.8 L583.5,550.1 L586.2,549.3 L588.9,548.3 L591.5,547.2 L594.1,546.1 L596.5,544.9 L598.7,543.4 L600.8,541.5 L602.8,539.1 L604.6,536.1 L606.5,532.8 L608.2,529.4 L609.8,526.0 L611.2,522.8 L612.5,519.7 L613.7,516.5 L614.8,513.1 L615.8,509.5 L616.7,505.4 L617.6,501.0 L618.3,496.4 L618.9,492.0 L619.3,487.8 L619.6,484.0 L619.7,480.3 L619.6,476.8 L619.5,473.4 L619.4,470.1 L619.3,466.9 L619.2,463.9 L619.0,461.0 L618.8,458.2 L618.4,455.3 L618.1,452.3 L617.6,449.3 L617.0,446.3 L616.5,443.3 L616.0,440.3 L615.6,437.2 L615.2,434.0 L614.8,430.9 L614.4,428.0 L613.9,425.3 L613.4,423.0 L612.7,420.8 L612.1,418.8 L611.6,416.9 L611.3,415.1 L611.3,413.5 L611.6,412.2 L612.0,411.1 L612.4,410.0 L612.7,408.8 L612.9,407.2 L613.0,405.5 L613.1,403.7 L613.3,401.7 L613.7,399.7 L614.4,397.7 L615.4,395.6 L616.4,393.6 L617.3,391.6 L617.9,389.7 L618.4,387.7 L618.6,385.7 L618.8,383.7 L618.9,381.8 L618.9,380.1 L618.7,378.5 L618.3,377.1 L617.9,375.6 L617.5,374.1 L617.3,372.6 L617.3,371.0 L617.5,369.4 L617.7,367.9 L618.0,366.3 L618.3,364.8 L618.6,363.2 L619.0,361.6 L619.3,359.9 L619.6,358.4 L619.8,356.9 L619.8,355.5 L619.8,354.1 L619.7,352.7 L619.5,351.5 L619.3,350.3 L619.0,349.2 L618.6,348.2 L618.2,347.2 L617.8,346.2 L617.6,345.2 L617.5,344.2 L617.6,343.5 L617.8,342.8 L618.0,341.9 L618.3,340.7 L618.8,338.9 L619.4,336.8 L620.1,334.4 L620.6,332.3 L621.0,330.5 L621.1,329.4 L621.1,328.6 L621.0,328.0 L620.8,327.3 L620.6,326.3 L620.3,324.9 L619.8,323.3 L619.4,321.6 L619.0,319.8 L618.8,318.1 L618.8,316.3 L619.0,314.4 L619.3,312.5 L619.7,310.8 L620.2,309.2 L620.7,307.8 L621.4,306.5 L622.2,305.5 L622.9,304.4 L623.4,303.4 L623.9,302.4 L624.3,301.5 L624.6,300.5 L624.9,299.6 L625.1,298.8 L625.2,298.1 L625.2,297.5 L625.2,297.0 L625.1,296.3 L625.0,295.5 L624.9,294.5 L624.7,293.3 L624.6,292.0 L624.4,290.9 L624.3,290.2" stroke="#ce7440" stroke-width="1.4" fill="none"/>
<path d="M392.5,300.0 L392.9,300.7 L393.4,301.7 L394.0,302.8 L394.7,304.0 L395.4,305.1 L396.3,306.0 L397.4,307.0 L398.6,308.0 L399.8,309.0 L400.9,310.2 L401.9,311.6 L402.9,313.0 L403.9,314.5 L404.7,316.0 L405.5,317.4 L406.2,318.7 L406.9,319.9 L407.5,321.2 L408.1,322.7 L408.5,324.7 L409.0,327.2 L409.3,330.0 L409.6,333.1 L409.8,336.4 L410.2,339.9 L410.6,343.7 L411.0,347.9 L411.5,352.2 L411.9,356.3 L412.2,359.9 L412.4,362.6 L412.6,364.8 L412.7,366.8 L412.8,369.0 L412.7,372.0 L412.6,376.0 L412.3,380.7 L412.0,385.7 L411.6,390.6 L411.3,395.1 L411.1,398.9 L410.9,402.5 L410.7,405.9 L410.4,409.4 L409.9,413.2 L409.3,417.4 L408.5,421.8 L407.6,426.3 L406.6,430.9 L405.6,435.4 L404.6,439.8 L403.5,444.3 L402.3,448.7 L401.3,453.1 L400.4,457.4 L399.6,461.6 L398.9,465.8 L398.3,470.0 L397.8,474.1 L397.5,478.1 L397.3,482.2 L397.2,486.2 L397.3,490.2 L397.5,494.1 L397.8,497.8 L398.2,501.4 L398.7,504.7 L399.3,508.0 L400.1,511.2 L401.1,514.3 L402.3,517.3 L403.7,520.2 L405.3,523.1 L407.0,525.8 L409.0,528.5 L411.1,531.2 L413.4,533.8 L415.9,536.2 L418.6,538.6 L421.6,540.8 L425.0,542.9 L428.7,544.9 L432.7,546.8 L436.8,548.5 L440.8,549.9 L444.7,550.9 L448.7,551.7 L452.7,552.3 L456.6,552.6 L460.5,552.8 L464.4,552.8 L468.4,552.6 L472.3,552.2 L476.0,551.6 L479.5,551.1 L482.8,550.5 L485.8,549.8 L488.7,549.0 L491.4,548.1 L494.2,547.2 L497.0,546.0 L499.8,544.4 L502.6,542.8 L505.5,541.6 L508.4,541.0 L511.1,541.3 L513.6,542.4 L516.0,543.8 L518.3,545.2 L520.8,546.3 L523.4,547.3 L526.2,548.3 L529.1,549.2 L532.2,550.1 L535.5,550.8 L539.1,551.6 L543.0,552.3 L547.1,552.9 L551.1,553.4 L555.1,553.7 L559.1,553.8 L563.2,553.7 L567.2,553.5 L571.1,553.1 L574.7,552.7 L577.9,552.2 L580.9,551.6 L583.8,550.8 L586.5,550.0 L589.2,548.9 L591.8,547.9 L594.4,546.7 L596.9,545.5 L599.1,543.9 L601.3,542.0 L603.3,539.5 L605.2,536.5 L607.0,533.1 L608.7,529.6 L610.3,526.3 L611.8,523.0 L613.1,519.9 L614.3,516.6 L615.4,513.3 L616.4,509.6 L617.3,505.5 L618.1,501.1 L618.9,496.5 L619.5,492.0 L619.9,487.9 L620.2,484.0 L620.2,480.3 L620.2,476.8 L620.1,473.4 L620.0,470.1 L619.9,466.9 L619.7,463.9 L619.5,461.0 L619.3,458.1 L618.9,455.2 L618.5,452.2 L618.0,449.3 L617.5,446.3 L616.9,443.2 L616.4,440.2 L616.0,437.1 L615.5,434.0 L615.1,430.8 L614.7,427.9 L614.3,425.2 L613.7,422.9 L613.1,420.7 L612.4,418.7 L611.9,416.8 L611.6,415.0 L611.6,413.5 L611.9,412.3 L612.3,411.2 L612.7,410.1 L613.0,408.8 L613.2,407.3 L613.3,405.6 L613.4,403.7 L613.6,401.7 L614.0,399.8 L614.7,397.8 L615.7,395.7 L616.7,393.7 L617.6,391.7 L618.2,389.7 L618.7,387.8 L618.9,385.8 L619.1,383.8 L619.2,381.8 L619.2,380.1 L619.0,378.5 L618.6,377.0 L618.2,375.6 L617.8,374.1 L617.6,372.6 L617.6,371.0 L617.8,369.4 L618.0,367.9 L618.3,366.4 L618.6,364.8 L618.9,363.2 L619.3,361.6 L619.6,360.0 L619.9,358.4 L620.1,356.9 L620.1,355.5 L620.1,354.1 L620.0,352.7 L619.8,351.4 L619.6,350.2 L619.3,349.1 L618.9,348.1 L618.5,347.1 L618.1,346.1 L617.9,345.1 L617.8,344.2 L617.9,343.5 L618.1,342.8 L618.3,342.0 L618.6,340.8 L619.1,339.0 L619.7,336.8 L620.4,334.5 L620.9,332.3 L621.3,330.6 L621.4,329.4 L621.4,328.6 L621.3,328.0 L621.1,327.2 L620.9,326.2 L620.6,324.8 L620.1,323.3 L619.7,321.6 L619.3,319.8 L619.1,318.0 L619.1,316.3 L619.3,314.4 L619.6,312.6 L620.0,310.9 L620.4,309.3 L621.0,307.9 L621.7,306.7 L622.4,305.6 L623.1,304.6 L623.7,303.6 L624.1,302.6 L624.6,301.6 L624.9,300.6 L625.2,299.7 L625.4,298.8 L625.5,298.1 L625.5,297.5 L625.5,297.0 L625.4,296.3 L625.3,295.5 L625.2,294.5 L625.0,293.2 L624.9,292.0 L624.7,290.9 L624.6,290.1" stroke="#c86a37" stroke-width="1.4" fill="none"/>
<path d="M392.2,300.1 L392.6,300.9 L393.1,301.9 L393.6,303.0 L394.3,304.2 L395.1,305.3 L396.0,306.3 L397.1,307.2 L398.3,308.2 L399.5,309.3 L400.6,310.5 L401.6,311.8 L402.6,313.2 L403.5,314.7 L404.4,316.2 L405.2,317.6 L405.9,318.9 L406.5,320.1 L407.1,321.3 L407.7,322.9 L408.2,324.8 L408.6,327.3 L408.9,330.1 L409.2,333.2 L409.5,336.5 L409.8,339.9 L410.2,343.7 L410.6,347.9 L411.1,352.3 L411.5,356.4 L411.8,359.9 L412.0,362.7 L412.2,364.8 L412.3,366.8 L412.4,369.0 L412.3,372.0 L412.2,376.0 L411.9,380.7 L411.5,385.7 L411.2,390.6 L410.9,395.1 L410.6,398.9 L410.4,402.4 L410.2,405.8 L409.9,409.3 L409.4,413.1 L408.8,417.3 L408.0,421.7 L407.1,426.2 L406.1,430.8 L405.1,435.3 L404.0,439.7 L402.9,444.1 L401.7,448.6 L400.7,452.9 L399.7,457.3 L398.9,461.5 L398.2,465.7 L397.6,469.9 L397.1,474.0 L396.8,478.1 L396.6,482.2 L396.5,486.2 L396.6,490.2 L396.8,494.1 L397.1,497.9 L397.5,501.4 L398.0,504.9 L398.6,508.2 L399.4,511.4 L400.4,514.5 L401.6,517.6 L403.0,520.6 L404.6,523.5 L406.4,526.3 L408.3,529.0 L410.5,531.7 L412.8,534.3 L415.3,536.9 L418.0,539.3 L421.0,541.5 L424.5,543.7 L428.3,545.7 L432.4,547.7 L436.5,549.4 L440.5,550.8 L444.5,551.8 L448.5,552.6 L452.6,553.2 L456.6,553.5 L460.5,553.7 L464.5,553.7 L468.4,553.4 L472.4,553.0 L476.1,552.5 L479.7,551.9 L482.9,551.3 L486.0,550.5 L488.9,549.7 L491.7,548.8 L494.5,547.8 L497.3,546.5 L500.0,544.9 L502.8,543.3 L505.6,542.1 L508.4,541.6 L511.0,541.9 L513.4,542.9 L515.7,544.3 L518.0,545.7 L520.5,546.9 L523.2,547.9 L526.0,548.9 L528.9,549.9 L532.0,550.8 L535.3,551.6 L539.0,552.3 L542.9,553.0 L547.0,553.7 L551.1,554.1 L555.1,554.4 L559.1,554.5 L563.2,554.5 L567.3,554.2 L571.2,553.9 L574.8,553.5 L578.1,552.9 L581.1,552.3 L584.0,551.6 L586.7,550.7 L589.5,549.6 L592.2,548.5 L594.8,547.4 L597.3,546.1 L599.6,544.5 L601.8,542.4 L603.8,539.9 L605.8,536.8 L607.6,533.4 L609.3,529.9 L610.9,526.5 L612.3,523.3 L613.6,520.1 L614.8,516.8 L615.9,513.4 L616.9,509.7 L617.8,505.6 L618.7,501.2 L619.4,496.6 L620.0,492.1 L620.5,487.9 L620.7,484.0 L620.8,480.4 L620.7,476.8 L620.6,473.4 L620.5,470.0 L620.4,466.9 L620.3,463.9 L620.1,460.9 L619.8,458.1 L619.5,455.1 L619.0,452.2 L618.5,449.2 L617.9,446.2 L617.4,443.2 L616.8,440.2 L616.4,437.1 L615.9,433.9 L615.5,430.8 L615.1,427.8 L614.6,425.2 L614.0,422.8 L613.4,420.6 L612.7,418.6 L612.2,416.8 L611.9,415.0 L611.9,413.5 L612.2,412.3 L612.6,411.3 L613.0,410.2 L613.3,408.9 L613.5,407.3 L613.6,405.6 L613.7,403.7 L613.9,401.8 L614.3,399.8 L615.0,397.9 L615.9,395.8 L616.9,393.8 L617.8,391.8 L618.5,389.8 L619.0,387.8 L619.3,385.8 L619.4,383.8 L619.5,381.8 L619.5,380.1 L619.3,378.4 L618.9,376.9 L618.5,375.5 L618.1,374.1 L617.9,372.5 L617.9,371.0 L618.1,369.5 L618.3,367.9 L618.6,366.4 L618.9,364.9 L619.2,363.3 L619.6,361.7 L619.9,360.0 L620.2,358.5 L620.4,357.0 L620.4,355.5 L620.4,354.1 L620.3,352.7 L620.1,351.4 L619.9,350.1 L619.6,349.0 L619.2,348.0 L618.8,347.0 L618.4,346.1 L618.2,345.1 L618.1,344.2 L618.2,343.6 L618.4,342.9 L618.6,342.0 L618.9,340.8 L619.4,339.1 L620.0,336.9 L620.7,334.6 L621.2,332.4 L621.6,330.6 L621.7,329.4 L621.7,328.6 L621.6,327.9 L621.4,327.2 L621.2,326.1 L620.9,324.8 L620.4,323.2 L620.0,321.5 L619.6,319.8 L619.4,318.0 L619.4,316.3 L619.6,314.5 L619.9,312.7 L620.3,310.9 L620.7,309.4 L621.3,308.0 L622.0,306.8 L622.7,305.8 L623.4,304.7 L624.0,303.7 L624.4,302.7 L624.8,301.7 L625.2,300.7 L625.5,299.8 L625.7,298.9 L625.8,298.2 L625.8,297.5 L625.8,296.9 L625.7,296.3 L625.6,295.5 L625.5,294.4 L625.3,293.2 L625.2,291.9 L625.0,290.8 L624.9,290.1" stroke="#c1612e" stroke-width="1.4" fill="none"/>
<path d="M391.8,300.3 L392.2,301.0 L392.7,302.1 L393.3,303.2 L394.0,304.4 L394.8,305.6 L395.7,306.5 L396.8,307.5 L398.0,308.5 L399.2,309.6 L400.3,310.7 L401.3,312.0 L402.3,313.5 L403.2,314.9 L404.1,316.4 L404.8,317.8 L405.6,319.1 L406.2,320.3 L406.8,321.5 L407.3,323.0 L407.8,324.9 L408.2,327.3 L408.5,330.1 L408.8,333.2 L409.1,336.5 L409.4,340.0 L409.8,343.8 L410.2,348.0 L410.7,352.3 L411.1,356.4 L411.4,360.0 L411.6,362.7 L411.8,364.8 L411.9,366.8 L412.0,369.0 L411.9,372.0 L411.7,376.0 L411.5,380.7 L411.1,385.7 L410.8,390.6 L410.4,395.0 L410.2,398.9 L410.0,402.4 L409.8,405.8 L409.5,409.3 L409.0,413.1 L408.3,417.2 L407.5,421.6 L406.5,426.1 L405.5,430.7 L404.5,435.1 L403.5,439.6 L402.3,444.0 L401.2,448.4 L400.1,452.8 L399.1,457.1 L398.3,461.4 L397.6,465.6 L397.0,469.8 L396.5,473.9 L396.2,478.0 L395.9,482.1 L395.9,486.2 L395.9,490.2 L396.1,494.2 L396.4,497.9 L396.8,501.5 L397.3,505.0 L397.9,508.3 L398.7,511.6 L399.7,514.8 L400.9,517.9 L402.3,520.9 L403.9,523.8 L405.7,526.7 L407.7,529.5 L409.8,532.2 L412.1,534.9 L414.7,537.5 L417.4,540.0 L420.5,542.3 L424.0,544.4 L427.9,546.6 L432.0,548.5 L436.2,550.2 L440.3,551.6 L444.3,552.7 L448.4,553.5 L452.5,554.1 L456.5,554.4 L460.5,554.6 L464.5,554.6 L468.5,554.3 L472.5,553.9 L476.3,553.3 L479.8,552.7 L483.1,552.0 L486.2,551.2 L489.1,550.4 L491.9,549.4 L494.7,548.4 L497.5,547.1 L500.3,545.5 L503.0,543.9 L505.7,542.6 L508.4,542.1 L510.9,542.4 L513.2,543.4 L515.5,544.8 L517.8,546.2 L520.3,547.4 L522.9,548.5 L525.7,549.5 L528.7,550.5 L531.8,551.4 L535.2,552.3 L538.8,553.1 L542.8,553.8 L546.9,554.4 L551.0,554.9 L555.0,555.2 L559.1,555.3 L563.2,555.2 L567.3,555.0 L571.2,554.7 L574.9,554.2 L578.2,553.7 L581.3,553.0 L584.2,552.3 L587.0,551.4 L589.7,550.3 L592.5,549.2 L595.1,548.0 L597.7,546.7 L600.1,545.0 L602.3,542.9 L604.4,540.3 L606.3,537.2 L608.2,533.7 L609.9,530.2 L611.4,526.8 L612.9,523.5 L614.2,520.3 L615.4,517.0 L616.5,513.6 L617.5,509.9 L618.4,505.7 L619.2,501.3 L620.0,496.7 L620.6,492.2 L621.0,488.0 L621.3,484.1 L621.4,480.4 L621.3,476.8 L621.2,473.4 L621.1,470.0 L620.9,466.8 L620.8,463.8 L620.6,460.9 L620.3,458.0 L620.0,455.1 L619.5,452.1 L619.0,449.1 L618.4,446.1 L617.8,443.1 L617.3,440.1 L616.8,437.0 L616.3,433.8 L615.9,430.7 L615.4,427.7 L615.0,425.1 L614.4,422.7 L613.7,420.5 L613.0,418.6 L612.5,416.7 L612.2,415.0 L612.2,413.6 L612.5,412.4 L612.9,411.4 L613.3,410.3 L613.6,408.9 L613.8,407.4 L613.9,405.6 L614.0,403.8 L614.2,401.9 L614.6,399.9 L615.3,398.0 L616.2,396.0 L617.2,393.9 L618.1,391.9 L618.8,389.9 L619.2,387.9 L619.6,385.8 L619.7,383.8 L619.8,381.8 L619.8,380.0 L619.6,378.4 L619.2,376.9 L618.8,375.4 L618.4,374.0 L618.2,372.5 L618.2,371.0 L618.4,369.5 L618.6,368.0 L618.9,366.5 L619.2,364.9 L619.5,363.4 L619.9,361.7 L620.2,360.1 L620.5,358.5 L620.7,357.0 L620.7,355.5 L620.7,354.0 L620.6,352.6 L620.4,351.3 L620.2,350.1 L619.9,348.9 L619.5,347.9 L619.1,346.9 L618.7,346.0 L618.5,345.0 L618.5,344.2 L618.5,343.6 L618.7,342.9 L618.9,342.1 L619.2,340.9 L619.7,339.2 L620.3,337.0 L621.0,334.6 L621.5,332.4 L621.9,330.7 L622.0,329.4 L622.0,328.6 L621.9,327.9 L621.7,327.1 L621.5,326.1 L621.2,324.7 L620.7,323.1 L620.3,321.4 L619.9,319.7 L619.7,318.0 L619.7,316.3 L619.9,314.5 L620.2,312.7 L620.6,311.0 L621.0,309.5 L621.6,308.2 L622.2,307.0 L623.0,305.9 L623.7,304.9 L624.2,303.9 L624.7,302.8 L625.1,301.8 L625.5,300.8 L625.8,299.8 L626.0,298.9 L626.1,298.2 L626.1,297.5 L626.1,296.9 L626.0,296.2 L625.9,295.4 L625.8,294.4 L625.6,293.1 L625.5,291.9 L625.3,290.8 L625.2,290.0" stroke="#b95927" stroke-width="1.4" fill="none"/>
<path d="M391.5,300.5 L391.9,301.2 L392.4,302.2 L393.0,303.4 L393.7,304.7 L394.5,305.8 L395.5,306.8 L396.6,307.8 L397.8,308.8 L398.9,309.8 L400.0,311.0 L401.0,312.3 L401.9,313.7 L402.9,315.1 L403.7,316.6 L404.5,318.0 L405.2,319.3 L405.8,320.4 L406.4,321.6 L406.9,323.1 L407.4,325.0 L407.8,327.4 L408.1,330.2 L408.4,333.3 L408.7,336.6 L409.0,340.0 L409.4,343.8 L409.8,348.0 L410.3,352.3 L410.7,356.4 L411.0,360.0 L411.2,362.7 L411.4,364.8 L411.5,366.8 L411.6,369.0 L411.5,372.0 L411.3,376.0 L411.0,380.6 L410.7,385.6 L410.3,390.5 L410.0,395.0 L409.7,398.9 L409.5,402.4 L409.3,405.8 L409.0,409.2 L408.5,413.0 L407.8,417.1 L407.0,421.5 L406.0,426.0 L405.0,430.5 L404.0,435.0 L402.9,439.4 L401.8,443.8 L400.6,448.3 L399.5,452.7 L398.5,457.0 L397.7,461.3 L397.0,465.5 L396.3,469.7 L395.9,473.9 L395.5,478.0 L395.3,482.1 L395.2,486.2 L395.2,490.3 L395.4,494.2 L395.7,498.0 L396.1,501.6 L396.6,505.1 L397.2,508.5 L398.0,511.8 L399.0,515.0 L400.2,518.2 L401.6,521.2 L403.2,524.2 L405.0,527.2 L407.0,530.0 L409.2,532.8 L411.5,535.5 L414.1,538.1 L416.9,540.7 L420.0,543.0 L423.5,545.2 L427.5,547.4 L431.6,549.3 L435.9,551.1 L440.0,552.5 L444.1,553.6 L448.2,554.4 L452.3,555.0 L456.5,555.3 L460.5,555.5 L464.5,555.5 L468.6,555.2 L472.6,554.7 L476.4,554.1 L480.0,553.5 L483.3,552.8 L486.4,552.0 L489.3,551.1 L492.2,550.1 L495.0,549.0 L497.8,547.7 L500.6,546.0 L503.2,544.4 L505.9,543.2 L508.4,542.6 L510.8,542.9 L513.0,543.9 L515.2,545.3 L517.5,546.8 L520.0,548.0 L522.7,549.1 L525.5,550.1 L528.5,551.2 L531.6,552.1 L535.0,553.0 L538.7,553.8 L542.6,554.5 L546.8,555.2 L550.9,555.7 L555.0,556.0 L559.1,556.1 L563.2,556.0 L567.4,555.8 L571.3,555.5 L575.0,555.0 L578.4,554.4 L581.5,553.8 L584.4,553.0 L587.2,552.1 L590.0,551.0 L592.8,549.9 L595.5,548.6 L598.0,547.2 L600.5,545.5 L602.8,543.4 L604.9,540.7 L606.9,537.5 L608.7,534.0 L610.4,530.5 L612.0,527.0 L613.4,523.7 L614.7,520.5 L615.9,517.2 L617.0,513.7 L618.0,510.0 L618.9,505.9 L619.8,501.4 L620.5,496.8 L621.1,492.2 L621.6,488.0 L621.8,484.1 L621.9,480.4 L621.9,476.8 L621.7,473.3 L621.6,470.0 L621.5,466.8 L621.3,463.8 L621.1,460.9 L620.8,458.0 L620.5,455.0 L620.0,452.0 L619.5,449.0 L618.9,446.0 L618.3,443.0 L617.7,440.0 L617.2,436.9 L616.7,433.8 L616.3,430.6 L615.8,427.7 L615.3,425.0 L614.7,422.6 L614.0,420.4 L613.3,418.5 L612.8,416.7 L612.5,415.0 L612.5,413.6 L612.8,412.5 L613.2,411.4 L613.6,410.3 L613.9,409.0 L614.1,407.4 L614.2,405.7 L614.3,403.8 L614.5,401.9 L614.9,400.0 L615.6,398.1 L616.5,396.1 L617.5,394.0 L618.4,392.0 L619.1,390.0 L619.5,388.0 L619.9,385.9 L620.0,383.8 L620.1,381.8 L620.1,380.0 L619.9,378.3 L619.5,376.8 L619.1,375.4 L618.7,374.0 L618.5,372.5 L618.5,371.0 L618.7,369.5 L618.9,368.0 L619.2,366.5 L619.5,365.0 L619.8,363.4 L620.2,361.8 L620.5,360.2 L620.8,358.5 L621.0,357.0 L621.0,355.5 L621.0,354.0 L620.9,352.6 L620.7,351.3 L620.5,350.0 L620.2,348.9 L619.8,347.8 L619.4,346.8 L619.0,345.9 L618.8,345.0 L618.8,344.2 L618.8,343.6 L619.0,343.0 L619.2,342.2 L619.5,341.0 L620.0,339.3 L620.6,337.1 L621.2,334.7 L621.8,332.5 L622.2,330.7 L622.3,329.5 L622.3,328.6 L622.2,327.8 L622.0,327.1 L621.8,326.0 L621.5,324.6 L621.0,323.1 L620.6,321.4 L620.2,319.7 L620.0,318.0 L620.0,316.3 L620.2,314.5 L620.5,312.8 L620.9,311.1 L621.3,309.6 L621.8,308.3 L622.5,307.1 L623.2,306.1 L623.9,305.0 L624.5,304.0 L625.0,302.9 L625.4,301.9 L625.8,300.9 L626.1,299.9 L626.3,299.0 L626.4,298.2 L626.4,297.5 L626.4,296.9 L626.3,296.2 L626.2,295.4 L626.1,294.3 L625.9,293.1 L625.8,291.9 L625.6,290.8 L625.5,290.0" stroke="#b05020" stroke-width="1.4" fill="none"/>
</g>

<!-- testes -->
<path d="M455,415 C482.4,415 496.5,433.7 496.5,470 C496.5,502.6 477.9,529 455,529 C432.1,529 413.5,502.6 413.5,470 C413.5,433.7 427.6,415 455,415 Z" fill="url(#gTest)"/>
<path d="M558.6,415 C586.2,415 600.4,433.7 600.4,470 C600.4,502.6 581.7,529 558.6,529 C535.5,529 516.8000000000001,502.6 516.8000000000001,470 C516.8000000000001,433.7 531.0,415 558.6,415 Z" fill="url(#gTest)"/>
<path d="M455,415 C482.4,415 496.5,433.7 496.5,470 C496.5,502.6 477.9,529 455,529 C432.1,529 413.5,502.6 413.5,470 C413.5,433.7 427.6,415 455,415 Z" fill="url(#gTestSh)"/>
<path d="M558.6,415 C586.2,415 600.4,433.7 600.4,470 C600.4,502.6 581.7,529 558.6,529 C535.5,529 516.8000000000001,502.6 516.8000000000001,470 C516.8000000000001,433.7 531.0,415 558.6,415 Z" fill="url(#gTestSh)"/>
<g fill="none" stroke="#b078e6" stroke-width="0.95" opacity="0.8" stroke-linecap="round" stroke-linejoin="round">
  <path d="M415.2,452 C419,450.5 422,453 425,451.5 C427,450.8 429,452 430.8,452 M426,452 C428,453.5 430,454.5 432.5,455.5"/>
  <path d="M472.3,437.3 C474,435 476.5,433.5 479.2,432 C481.5,431 484,431.5 486.2,431.2"/>
  <path d="M470.6,461.5 C474,458 477,455 481,452.9 C483,451 485,448.5 486.2,447.7 C488.5,446.8 491,447.2 493,446.8"/>
  <path d="M416,485.8 C420,484.5 424,486 427.3,485 C430.5,484.3 433,486.8 436,486.6 C438.5,486.4 440.5,485.5 442.9,485.8"/>
  <path d="M486.2,478.8 C489,477 492,477.5 494.8,476.2"/>
  <path d="M429,514.3 C432,512.5 434.5,511 437.7,510 C440.5,509.2 443.5,509.8 446.3,509.1"/>
  <path d="M484.4,496.1 C486.5,495 489,497.5 491.3,497"/>
  <path d="M417,496.1 C420,495 422.5,497 425.6,496.1"/>
  <path d="M598,436 C594,436.5 591,438.5 589,441 C587,443.5 584,444 581,444.5"/>
  <path d="M519,450 C523,449 526,451.5 530,450.5 C533,449.8 535,451 537,451"/>
  <path d="M598,463 C594,463.5 590,466 587,466.5 C584,467 581,466 578,467"/>
  <path d="M519,470 C522,469 525,471 528,470"/>
  <path d="M598,485 C594,486 590,488 586,487.5 C582,487 579,489 575,489"/>
  <path d="M520,488 C524,487 527,489.5 531,488.5 C534,487.8 536,489.5 539,489"/>
  <path d="M590,511 C586,511.5 583,513 580,512.5"/>
  <path d="M526,508 C529,507 532,509 535,508"/>
</g>

<!-- seminal vesicles -->
<g id="svL" stroke="#d8b24a" stroke-width="0.7">
  <path d="M405.5,242 C404,234 411,228.5 422,227 C435,225.5 450,225 462,226 C468,227 471,231 470.5,236 C470,241 466,244 456,245.5 C445,248 433,251.5 421,251.5 C412,251 406.5,247 405.5,242 Z" fill="#efd066"/>
  <ellipse cx="416.5" cy="238" rx="11" ry="8.5" fill="#f4dc80"/>
  <ellipse cx="437" cy="232" rx="9.5" ry="5.6" fill="#f4da7c"/>
  <ellipse cx="457.5" cy="231" rx="10" ry="5.3" fill="#f4da7c"/>
  <ellipse cx="429" cy="245.5" rx="11" ry="5" fill="#f2d674"/>
  <ellipse cx="449" cy="243.2" rx="10" ry="4.8" fill="#f2d674"/>
</g>
<g stroke="none">
  <ellipse cx="416" cy="236" rx="5" ry="3.5" fill="#fffbe6" opacity="0.95" filter="url(#blurS)"/>
  <ellipse cx="458" cy="231" rx="4" ry="2.5" fill="#fffbe6" opacity="0.95" filter="url(#blurS)"/>
  <ellipse cx="426" cy="246" rx="4" ry="2.5" fill="#fffbe6" opacity="0.9" filter="url(#blurS)"/>
  <ellipse cx="444" cy="243" rx="4" ry="2.5" fill="#fffbe6" opacity="0.9" filter="url(#blurS)"/>
</g>
<use href="#svL" transform="translate(1016,0) scale(-1,1)"/>
<g stroke="none" transform="translate(1016,0) scale(-1,1)">
  <ellipse cx="416" cy="236" rx="5" ry="3.5" fill="#fffbe6" opacity="0.95" filter="url(#blurS)"/>
  <ellipse cx="458" cy="231" rx="4" ry="2.5" fill="#fffbe6" opacity="0.95" filter="url(#blurS)"/>
  <ellipse cx="426" cy="246" rx="4" ry="2.5" fill="#fffbe6" opacity="0.9" filter="url(#blurS)"/>
  <ellipse cx="444" cy="243" rx="4" ry="2.5" fill="#fffbe6" opacity="0.9" filter="url(#blurS)"/>
</g>

<!-- vas deferens -->
<g fill="none" stroke-linecap="round">
  <path d="M472.0,240.5 C469.7,240.2 462.5,240.2 458.0,239.0 C453.5,237.8 448.2,235.8 445.0,233.5 C441.8,231.2 440.2,228.9 438.5,225.0 C436.8,221.1 435.8,215.8 435.0,210.0 C434.2,204.2 434.3,196.4 433.6,190.0 C432.9,183.6 433.1,177.1 431.0,171.4 C428.9,165.7 427.2,159.5 421.2,155.7 C415.1,151.8 402.4,148.1 394.7,148.3 C387.0,148.5 379.8,151.5 375.0,157.0 C370.2,162.5 367.1,173.8 365.8,181.4 C364.5,189.1 365.9,196.6 367.4,202.9 C368.9,209.2 372.0,213.3 374.9,219.4 C377.8,225.5 382.0,234.2 384.8,239.3 C387.6,244.4 387.5,243.2 391.6,250.0 C395.7,256.8 402.5,270.0 409.5,280.0 C416.5,290.0 427.7,301.7 433.5,310.0 C439.3,318.3 441.1,321.7 444.5,330.0 C447.9,338.3 451.4,350.8 453.9,360.0 C456.4,369.2 458.0,378.3 459.7,385.0 C461.4,391.7 463.3,397.5 464.0,400.0" stroke="#b9746c" stroke-width="6.2"/>
  <path d="M472.0,240.5 C469.7,240.2 462.5,240.2 458.0,239.0 C453.5,237.8 448.2,235.8 445.0,233.5 C441.8,231.2 440.2,228.9 438.5,225.0 C436.8,221.1 435.8,215.8 435.0,210.0 C434.2,204.2 434.3,196.4 433.6,190.0 C432.9,183.6 433.1,177.1 431.0,171.4 C428.9,165.7 427.2,159.5 421.2,155.7 C415.1,151.8 402.4,148.1 394.7,148.3 C387.0,148.5 379.8,151.5 375.0,157.0 C370.2,162.5 367.1,173.8 365.8,181.4 C364.5,189.1 365.9,196.6 367.4,202.9 C368.9,209.2 372.0,213.3 374.9,219.4 C377.8,225.5 382.0,234.2 384.8,239.3 C387.6,244.4 387.5,243.2 391.6,250.0 C395.7,256.8 402.5,270.0 409.5,280.0 C416.5,290.0 427.7,301.7 433.5,310.0 C439.3,318.3 441.1,321.7 444.5,330.0 C447.9,338.3 451.4,350.8 453.9,360.0 C456.4,369.2 458.0,378.3 459.7,385.0 C461.4,391.7 463.3,397.5 464.0,400.0" stroke="#d8a098" stroke-width="3.4"/>
  <path d="M541.0,241.0 C543.3,240.8 550.5,240.7 555.0,239.5 C559.5,238.3 564.5,236.2 568.0,234.0 C571.5,231.8 574.1,230.0 576.0,226.0 C577.9,222.0 578.8,216.0 579.5,210.0 C580.2,204.0 579.8,196.3 580.5,190.0 C581.2,183.7 581.4,177.7 584.0,172.0 C586.6,166.3 590.7,159.6 596.0,156.0 C601.3,152.4 609.2,150.0 615.7,150.2 C622.2,150.4 630.1,153.7 635.0,157.0 C639.9,160.3 642.7,165.5 645.0,170.0 C647.3,174.5 648.4,179.0 648.8,184.0 C649.2,189.0 648.5,194.5 647.2,199.8 C645.9,205.1 643.9,209.3 641.0,215.6 C638.1,221.9 633.0,231.8 630.0,237.6 C627.0,243.4 626.3,245.2 623.0,250.5 C619.7,255.8 613.8,264.5 610.4,269.4 C607.0,274.3 607.4,273.2 602.7,280.0 C598.0,286.8 588.5,300.0 582.4,310.0 C576.3,320.0 569.8,330.0 565.9,340.0 C562.0,350.0 561.4,360.0 559.0,370.0 C556.6,380.0 552.9,395.0 551.7,400.0" stroke="#b9746c" stroke-width="6.2"/>
  <path d="M541.0,241.0 C543.3,240.8 550.5,240.7 555.0,239.5 C559.5,238.3 564.5,236.2 568.0,234.0 C571.5,231.8 574.1,230.0 576.0,226.0 C577.9,222.0 578.8,216.0 579.5,210.0 C580.2,204.0 579.8,196.3 580.5,190.0 C581.2,183.7 581.4,177.7 584.0,172.0 C586.6,166.3 590.7,159.6 596.0,156.0 C601.3,152.4 609.2,150.0 615.7,150.2 C622.2,150.4 630.1,153.7 635.0,157.0 C639.9,160.3 642.7,165.5 645.0,170.0 C647.3,174.5 648.4,179.0 648.8,184.0 C649.2,189.0 648.5,194.5 647.2,199.8 C645.9,205.1 643.9,209.3 641.0,215.6 C638.1,221.9 633.0,231.8 630.0,237.6 C627.0,243.4 626.3,245.2 623.0,250.5 C619.7,255.8 613.8,264.5 610.4,269.4 C607.0,274.3 607.4,273.2 602.7,280.0 C598.0,286.8 588.5,300.0 582.4,310.0 C576.3,320.0 569.8,330.0 565.9,340.0 C562.0,350.0 561.4,360.0 559.0,370.0 C556.6,380.0 552.9,395.0 551.7,400.0" stroke="#d8a098" stroke-width="3.4"/>
</g>

<!-- left plexus -->
<g fill="none" stroke="#3e12aa" stroke-width="1.6" stroke-linecap="round">
  <path d="M399.9,277.0 L400.3,278.2 L400.6,279.4 L401.0,280.6 L401.3,281.8 L401.7,283.0 L402.0,284.2 L402.2,285.4 L402.6,286.6 L403.1,287.8 L403.5,289.0 L403.8,290.2 L404.0,291.4 L404.1,292.6 L404.2,293.8 L404.2,295.0 L404.2,296.2 L404.3,297.4 L404.4,298.6 L404.7,299.8 L404.9,301.0 L405.2,302.2 L405.7,303.4 L406.4,304.6 L407.2,305.8 L408.1,307.0 L409.1,308.2 L410.2,309.4 L411.3,310.6 L412.4,311.8 L413.4,313.0 L414.2,314.2 L415.0,315.4 L415.5,316.6 L415.8,317.8 L416.0,319.0 L415.9,320.2 L415.6,321.4 L415.2,322.6 L414.6,323.8 L414.0,325.0 L413.3,326.2 L412.7,327.4 L412.1,328.6 L411.7,329.8 L411.5,331.0 L411.6,332.2 L411.8,333.4 L412.3,334.6 L413.1,335.8 L414.1,337.0 L415.2,338.2 L416.5,339.4 L417.8,340.6 L419.2,341.8 L420.6,343.0 L421.9,344.2 L423.0,345.4 L424.0,346.6 L424.8,347.8 L425.3,349.0 L425.6,350.2 L425.6,351.4 L425.4,352.6 L425.0,353.8 L424.5,355.0 L423.8,356.2 L423.2,357.4 L422.5,358.6 L422.0,359.8 L421.4,361.0 L421.0,362.2 L420.9,363.4 L421.0,364.6 L421.3,365.8 L421.9,367.0 L422.7,368.2 L423.8,369.4 L425.0,370.6 L426.4,371.8 L427.8,373.0 L429.2,374.2 L430.6,375.4 L431.9,376.6 L433.0,377.8 L433.9,379.0 L434.5,380.2 L434.7,381.4 L434.6,382.6 L434.2,383.8 L433.5,385.0 L432.6,386.2 L431.5,387.4 L430.2,388.6 L428.8,389.8 L427.4,391.0 L426.1,392.2 L425.0,393.4 L424.0,394.6 L423.4,395.8 L423.1,397.0 L423.2,398.2 L423.7,399.4 L424.5,400.6 L425.7,401.8 L427.1,403.0"/>
  <path d="M400.7,277.0 L400.8,278.2 L400.7,279.4 L400.7,280.6 L400.7,281.8 L400.7,283.0 L400.7,284.2 L400.8,285.4 L401.2,286.6 L402.0,287.8 L402.9,289.0 L403.8,290.2 L404.9,291.4 L406.1,292.6 L407.3,293.8 L408.5,295.0 L409.8,296.2 L411.0,297.4 L412.1,298.6 L413.1,299.8 L413.7,301.0 L414.1,302.2 L414.3,303.4 L414.3,304.6 L414.2,305.8 L413.9,307.0 L413.6,308.2 L413.2,309.4 L412.8,310.6 L412.4,311.8 L412.1,313.0 L411.9,314.2 L411.9,315.4 L412.0,316.6 L412.4,317.8 L412.9,319.0 L413.7,320.2 L414.7,321.4 L415.8,322.6 L417.0,323.8 L418.3,325.0 L419.7,326.2 L421.0,327.4 L422.3,328.6 L423.4,329.8 L424.2,331.0 L424.9,332.2 L425.3,333.4 L425.4,334.6 L425.4,335.8 L425.1,337.0 L424.6,338.2 L424.0,339.4 L423.3,340.6 L422.6,341.8 L421.9,343.0 L421.3,344.2 L420.9,345.4 L420.7,346.6 L420.7,347.8 L421.0,349.0 L421.5,350.2 L422.3,351.4 L423.3,352.6 L424.5,353.8 L425.8,355.0 L427.2,356.2 L428.7,357.4 L430.1,358.6 L431.5,359.8 L432.7,361.0 L433.7,362.2 L434.6,363.4 L435.1,364.6 L435.4,365.8 L435.5,367.0 L435.3,368.2 L434.9,369.4 L434.3,370.6 L433.6,371.8 L432.8,373.0 L432.0,374.2 L431.3,375.4 L430.7,376.6 L430.2,377.8 L430.0,379.0 L429.9,380.2 L429.9,381.4 L430.2,382.6 L430.7,383.8 L431.5,385.0 L432.6,386.2 L433.9,387.4 L435.4,388.6 L436.9,389.8 L438.5,391.0 L439.9,392.2 L441.2,393.4 L442.3,394.6 L443.1,395.8 L443.5,397.0 L443.6,398.2 L443.3,399.4 L442.7,400.6 L441.7,401.8 L440.4,403.0"/>
  <path d="M401.5,277.0 L402.1,278.2 L402.6,279.4 L403.2,280.6 L403.8,281.8 L404.3,283.0 L404.9,284.2 L405.3,285.4 L405.9,286.6 L406.7,287.8 L407.3,289.0 L407.9,290.2 L408.3,291.4 L408.6,292.6 L408.9,293.8 L409.2,295.0 L409.5,296.2 L409.8,297.4 L410.1,298.6 L410.6,299.8 L411.0,301.0 L411.4,302.2 L412.1,303.4 L412.8,304.6 L413.8,305.8 L414.8,307.0 L416.0,308.2 L417.2,309.4 L418.4,310.6 L419.6,311.8 L420.7,313.0 L421.8,314.2 L422.6,315.4 L423.3,316.6 L423.7,317.8 L424.0,319.0 L424.0,320.2 L423.9,321.4 L423.6,322.6 L423.2,323.8 L422.7,325.0 L422.1,326.2 L421.6,327.4 L421.2,328.6 L420.9,329.8 L420.8,331.0 L420.8,332.2 L421.1,333.4 L421.7,334.6 L422.5,335.8 L423.4,337.0 L424.6,338.2 L425.9,339.4 L427.3,340.6 L428.7,341.8 L430.1,343.0 L431.4,344.2 L432.6,345.4 L433.6,346.6 L434.4,347.8 L434.9,349.0 L435.2,350.2 L435.2,351.4 L435.0,352.6 L434.6,353.8 L434.1,355.0 L433.4,356.2 L432.8,357.4 L432.1,358.6 L431.6,359.8 L431.1,361.0 L430.7,362.2 L430.6,363.4 L430.7,364.6 L431.1,365.8 L431.8,367.0 L432.6,368.2 L433.7,369.4 L435.0,370.6 L436.4,371.8 L437.9,373.0 L439.4,374.2 L440.8,375.4 L442.1,376.6 L443.3,377.8 L444.2,379.0 L444.9,380.2 L445.4,381.4 L445.5,382.6 L445.4,383.8 L445.0,385.0 L444.3,386.2 L443.5,387.4 L442.4,388.6 L441.3,389.8 L440.2,391.0 L439.2,392.2 L438.3,393.4 L437.6,394.6 L437.2,395.8 L437.2,397.0 L437.5,398.2 L438.3,399.4 L439.4,400.6 L440.8,401.8 L442.5,403.0"/>
  <path d="M402.3,277.0 L402.6,278.2 L402.8,279.4 L402.9,280.6 L403.1,281.8 L403.3,283.0 L403.6,284.2 L403.9,285.4 L404.6,286.6 L405.6,287.8 L406.7,289.0 L407.9,290.2 L409.2,291.4 L410.6,292.6 L412.0,293.8 L413.5,295.0 L415.0,296.2 L416.5,297.4 L417.8,298.6 L419.1,299.8 L419.8,301.0 L420.3,302.2 L420.6,303.4 L420.8,304.6 L420.8,305.8 L420.7,307.0 L420.5,308.2 L420.2,309.4 L419.9,310.6 L419.7,311.8 L419.5,313.0 L419.4,314.2 L419.5,315.4 L419.8,316.6 L420.3,317.8 L421.0,319.0 L421.9,320.2 L422.9,321.4 L424.2,322.6 L425.5,323.8 L427.0,325.0 L428.5,326.2 L429.9,327.4 L431.3,328.6 L432.5,329.8 L433.5,331.0 L434.1,332.2 L434.6,333.4 L434.8,334.6 L434.7,335.8 L434.4,337.0 L434.0,338.2 L433.4,339.4 L432.8,340.6 L432.1,341.8 L431.4,343.0 L430.9,344.2 L430.5,345.4 L430.3,346.6 L430.3,347.8 L430.6,349.0 L431.1,350.2 L431.9,351.4 L432.9,352.6 L434.1,353.8 L435.4,355.0 L436.8,356.2 L438.3,357.4 L439.7,358.6 L441.1,359.8 L442.4,361.0 L443.4,362.2 L444.3,363.4 L444.9,364.6 L445.3,365.8 L445.4,367.0 L445.2,368.2 L444.9,369.4 L444.4,370.6 L443.7,371.8 L443.0,373.0 L442.2,374.2 L441.5,375.4 L440.9,376.6 L440.5,377.8 L440.3,379.0 L440.4,380.2 L440.6,381.4 L441.1,382.6 L441.9,383.8 L443.0,385.0 L444.4,386.2 L445.9,387.4 L447.6,388.6 L449.4,389.8 L451.2,391.0 L453.0,392.2 L454.5,393.4 L455.9,394.6 L456.9,395.8 L457.6,397.0 L458.0,398.2 L457.9,399.4 L457.5,400.6 L456.8,401.8 L455.8,403.0"/>
  <path d="M403.1,277.0 L403.9,278.2 L404.6,279.4 L405.4,280.6 L406.2,281.8 L407.0,283.0 L407.7,284.2 L408.4,285.4 L409.2,286.6 L410.2,287.8 L411.1,289.0 L411.9,290.2 L412.6,291.4 L413.2,292.6 L413.7,293.8 L414.2,295.0 L414.7,296.2 L415.2,297.4 L415.8,298.6 L416.6,299.8 L417.1,301.0 L417.7,302.2 L418.4,303.4 L419.3,304.6 L420.4,305.8 L421.6,307.0 L422.9,308.2 L424.2,309.4 L425.6,310.6 L426.9,311.8 L428.1,313.0 L429.3,314.2 L430.2,315.4 L431.0,316.6 L431.6,317.8 L432.0,319.0 L432.2,320.2 L432.2,321.4 L432.0,322.6 L431.7,323.8 L431.3,325.0 L430.9,326.2 L430.5,327.4 L430.2,328.6 L430.1,329.8 L430.0,331.0 L430.1,332.2 L430.4,333.4 L431.0,334.6 L431.8,335.8 L432.8,337.0 L434.0,338.2 L435.4,339.4 L436.8,340.6 L438.3,341.8 L439.7,343.0 L441.0,344.2 L442.2,345.4 L443.2,346.6 L444.0,347.8 L444.5,349.0 L444.8,350.2 L444.8,351.4 L444.6,352.6 L444.2,353.8 L443.7,355.0 L443.0,356.2 L442.4,357.4 L441.7,358.6 L441.2,359.8 L440.7,361.0 L440.4,362.2 L440.4,363.4 L440.5,364.6 L441.0,365.8 L441.6,367.0 L442.6,368.2 L443.7,369.4 L445.0,370.6 L446.5,371.8 L448.0,373.0 L449.6,374.2 L451.0,375.4 L452.4,376.6 L453.6,377.8 L454.6,379.0 L455.4,380.2 L456.1,381.4 L456.5,382.6 L456.6,383.8 L456.5,385.0 L456.1,386.2 L455.5,387.4 L454.7,388.6 L453.8,389.8 L453.0,391.0 L452.2,392.2 L451.6,393.4 L451.2,394.6 L451.1,395.8 L451.3,397.0 L451.9,398.2 L452.9,399.4 L454.2,400.6 L455.9,401.8 L457.9,403.0"/>
  <path d="M393.8,272.2 C396.5,273.5 399.5,275.5 401.3,277.4 C403,279.5 404.5,282 406,285"/>
  <path d="M400.4,263.7 C400.8,268 401,273 401.3,277.4 C401.5,281 401,284 400.8,288"/>
</g>
<!-- varicocele -->
<g fill="none" stroke="#4212ac" stroke-width="3" stroke-linecap="round" stroke-linejoin="round">
  <path d="M617.0,266.0 C616.3,268.3 614.9,273.6 613.0,280.0 C611.1,286.4 606.7,296.2 605.8,304.7 C604.9,313.1 607.0,321.6 607.5,330.7 C608.0,339.8 609.4,351.6 608.6,359.3 C607.9,367.0 603.4,372.2 603.0,377.0 C602.6,381.8 605.7,384.2 606.4,388.0 C607.1,391.8 608.1,395.7 607.0,400.0 C605.9,404.3 601.6,407.3 600.0,414.0 C598.4,420.7 597.5,433.3 597.5,440.0 C597.5,446.7 599.6,451.7 600.0,454.0"/>
  <path d="M611.0,282.0 C610.1,285.8 608.3,298.4 605.8,304.7 C603.3,311.0 596.8,314.8 596.0,320.0 C595.2,325.2 601.0,330.9 600.9,336.2 C600.8,341.5 596.8,345.5 595.3,351.6 C593.8,357.7 591.8,365.2 592.0,372.6 C592.2,380.0 595.4,389.8 596.4,395.7 C597.4,401.6 597.7,405.9 598.0,408.0"/>
  <path d="M606.0,296.0 C603.8,300.1 596.4,312.4 592.6,320.8 C588.8,329.2 585.5,338.6 583.2,346.1 C580.9,353.6 579.9,360.3 578.8,366.0 C577.7,371.7 577.7,375.5 576.6,380.3 C575.5,385.1 572.6,390.3 572.2,394.6 C571.8,398.9 573.7,404.1 574.0,406.0"/>
  <path d="M596.0,320.0 C595.9,325.3 597.0,344.6 595.3,351.6 C593.6,358.6 586.5,358.5 586.0,362.0 C585.5,365.5 592.1,367.5 592.0,372.6 C591.9,377.7 586.1,386.8 585.4,392.4 C584.7,398.0 587.6,403.7 588.0,406.0"/>
  <path d="M600.9,336.2 C602.2,340.1 608.2,352.5 608.6,359.3 C609.0,366.1 605.0,370.9 603.0,377.0 C601.0,383.1 597.5,392.6 596.4,395.7"/>
  <path d="M583.2,346.1 C584.7,350.5 588.7,367.5 592.0,372.6 C595.3,377.8 601.2,376.3 603.0,377.0"/>
  <path d="M619.0,270.0 C618.2,271.3 615.5,275.5 614.0,278.0 C612.5,280.5 610.7,283.8 610.0,285.0"/>
  <path d="M612.0,290.0 C610.0,291.7 603.7,296.3 600.0,300.0 C596.3,303.7 592.3,307.0 590.0,312.0 C587.7,317.0 587.1,324.3 586.0,330.0 C584.9,335.7 583.7,343.4 583.2,346.1"/>
  <path d="M592.6,320.8 C593.2,321.7 594.6,323.4 596.0,326.0 C597.4,328.6 600.1,334.5 600.9,336.2"/>
  <path d="M578.8,366.0 C580.0,367.5 584.9,370.6 586.0,375.0 C587.1,379.4 585.5,389.5 585.4,392.4"/>
  <path d="M608.6,359.3 C609.2,361.4 612.4,367.1 612.0,372.0 C611.6,376.9 607.9,383.5 606.4,388.5 C604.9,393.5 603.6,399.8 603.0,402.0"/>
  <path d="M576.6,380.3 C577.2,382.2 578.8,387.9 580.0,392.0 C581.2,396.1 583.0,402.8 583.6,405.0"/>
  <path d="M569.0,400.0 C569.4,399.1 569.9,400.3 571.5,394.6 C573.1,388.9 576.8,374.1 578.8,366.0 C580.8,357.9 580.9,353.6 583.2,346.1 C585.5,338.6 591.0,325.0 592.6,320.8"/>
</g>
<g stroke="#3a10a8" stroke-width="2.3" fill="url(#gOval)">
  <ellipse cx="605.6" cy="304.5" rx="3.5" ry="7.9" transform="rotate(-10 605.6 304.5)"/>
  <ellipse cx="592.6" cy="320.8" rx="3.0" ry="5.9" transform="rotate(30 592.6 320.8)"/>
  <ellipse cx="607.5" cy="330.7" rx="3.5" ry="9.0" transform="rotate(-5 607.5 330.7)"/>
  <ellipse cx="600.9" cy="336.2" rx="3.8" ry="9.0" transform="rotate(-12 600.9 336.2)"/>
  <ellipse cx="583.2" cy="346.1" rx="4.3" ry="10.0" transform="rotate(22 583.2 346.1)"/>
  <ellipse cx="595.3" cy="351.6" rx="4.8" ry="10.2" transform="rotate(-8 595.3 351.6)"/>
  <ellipse cx="608.6" cy="359.3" rx="3.5" ry="9.0" transform="rotate(0 608.6 359.3)"/>
  <ellipse cx="578.8" cy="366" rx="4.8" ry="8.7" transform="rotate(30 578.8 366)"/>
  <ellipse cx="592" cy="372.6" rx="5.4" ry="7.7" transform="rotate(10 592 372.6)"/>
  <ellipse cx="603" cy="377" rx="3.5" ry="8.3" transform="rotate(-5 603 377)"/>
  <ellipse cx="576.6" cy="380.3" rx="3.6" ry="6.1" transform="rotate(20 576.6 380.3)"/>
  <ellipse cx="606.4" cy="388.5" rx="3.2" ry="8.3" transform="rotate(0 606.4 388.5)"/>
  <ellipse cx="596.4" cy="395.7" rx="3.6" ry="7.4" transform="rotate(20 596.4 395.7)"/>
  <ellipse cx="585.4" cy="392.4" rx="3.6" ry="7.4" transform="rotate(10 585.4 392.4)"/>
  <ellipse cx="571.5" cy="394.6" rx="3.0" ry="6.4" transform="rotate(20 571.5 394.6)"/>
  <ellipse cx="597" cy="418" rx="3.2" ry="8.3" transform="rotate(-5 597 418)"/>
  <ellipse cx="598.5" cy="440" rx="3.0" ry="9.0" transform="rotate(0 598.5 440)"/>
  <ellipse cx="589" cy="306" rx="2.6" ry="5.1" transform="rotate(30 589 306)"/>
  <ellipse cx="612" cy="345" rx="2.6" ry="6.4" transform="rotate(0 612 345)"/>
  <ellipse cx="587" cy="331" rx="2.8" ry="6.4" transform="rotate(20 587 331)"/>
</g>

<!-- epididymis -->
<path id="epiL" d="M415.5,452 C413.5,440 415,428 420,418 C426,406 436,399 448,397.5 C458,396.5 467,400 471,408 C475,416 474,427 468,432.5 C462,437.5 452,437.5 447,432 C444,428.5 443,423 439,419.5 C435,416.5 431,417.5 428,421 C422,428 419,438 415.5,452 Z" fill="url(#gEpi)"/>
<path d="M598.5,455 C600.5,443 599,431 594,421 C588,409 578,402 568,399 C560,397 548,398 543,405 C538.5,412 538.5,424 544,431 C550,437 562,437.5 568,432 C571,429 572,424 576,420.5 C580,417.5 584,418.5 587,422 C592,429 595,441 598.5,455 Z" fill="url(#gEpi2)"/>
<!-- urethra + bulbourethral -->
<path d="M503,262 C503,320 503,420 502,480 C500,495 499,505 499,512 C499,525 502,535 502.8,545 C503,549.5 510.3,549.5 510.6,545 C511.5,535 515,525 515,512 C515,505 513,495 512,480 C511,420 511,320 511,262 Z" fill="#cd7666" stroke="#c06858" stroke-width="0.5"/>
<path d="M507,295 L507,545" stroke="#dc8c7c" stroke-width="2" opacity="0.7"/>
<ellipse cx="507" cy="512" rx="3" ry="16" fill="#e0907f" opacity="0.5"/>
<g fill="#cf7868" stroke="#c06858" stroke-width="0.5">
  <path d="M504,284.8 C500,284.5 497,283.5 494,282 C492,280.5 490,280 487.5,280 C483,280 480.5,282.8 480.5,286.2 C480.5,289.6 483.5,292.2 487.5,292.2 C490,292.2 492,291.5 494,290.2 C497,288.8 500,288 504,287.8 Z"/>
  <path d="M510,284.8 C514,284.5 517,283.5 520,282 C522,280.5 524,280 526.5,280 C531,280 533.5,282.8 533.5,286.2 C533.5,289.6 530.5,292.2 526.5,292.2 C524,292.2 522,291.5 520,290.2 C517,288.8 514,288 510,287.8 Z"/>
</g>
<ellipse cx="486.5" cy="285.5" rx="3.2" ry="2.6" fill="#e59a8c" opacity="0.6"/>
<ellipse cx="527.5" cy="285.5" rx="3.2" ry="2.6" fill="#e59a8c" opacity="0.6"/>

<!-- prostate -->
<path d="M507,215 C500,211 490,211 481,213.5 C472,216 469,224 470,232 C471,241 476,246 482,250 C486,253 490,255.5 494,257 C496,258 497,260 497.5,262.5 C498,265 500,267.5 503,269.5 C503.5,273 503.5,277 503.5,284 L510.5,284 C510.5,277 510.5,273 511,269.5 C514,267.5 516,265 516.5,262.5 C517,260 518,258 520,257 C524,255.5 528,253 532,250 C538,246 543,241 543,232 C543,223 538,216 529,213 C521,211 513,211 507,215 Z" fill="url(#gPros)"/>
<path d="M507,257 L507,268" stroke="#bd6656" stroke-width="1" opacity="0.6"/>
<ellipse cx="502" cy="262" rx="2.5" ry="3.5" fill="#e08c7a" opacity="0.6"/>
<ellipse cx="512" cy="262" rx="2.5" ry="3.5" fill="#e08c7a" opacity="0.6"/>
<ellipse cx="490" cy="234" rx="10" ry="9" fill="#f39a86" opacity="0.6" filter="url(#blur3)"/>
<ellipse cx="522" cy="234" rx="10" ry="9" fill="#f39a86" opacity="0.6" filter="url(#blur3)"/>

<!-- LEFT CIRCLE: regular vein -->
<circle cx="214.5" cy="368.4" r="93" fill="#fff"/>
<g clip-path="url(#cL)">
  <rect x="188" y="270" width="55" height="200" fill="url(#gVein)"/>
  <rect x="183" y="270" width="5.6" height="200" fill="#7848b8"/>
  <rect x="242.2" y="270" width="5.8" height="200" fill="#7848b8"/>
  <g id="valveL">
    <path d="M189,327.4 C195,328.6 201,328.2 205.5,325.6" stroke="#ecbefa" stroke-width="1.1" fill="none"/>
    <path d="M241,327.4 C235,328.6 229,328.2 224.5,325.6" stroke="#ecbefa" stroke-width="1.1" fill="none"/>
    <path d="M188,331.3 C195,333 202,333 206.5,329.5 C211,325.5 213,318 213.3,309.5" stroke="#7446b4" stroke-width="4" fill="none"/>
    <path d="M242.5,331.3 C235.5,333 228.5,333 224,329.5 C219.5,325.5 217.5,318 217.2,309.5" stroke="#7446b4" stroke-width="4" fill="none"/>
    <rect x="211.3" y="309" width="7.9" height="3" fill="#7446b4"/>
    <g stroke="#d42228" stroke-width="2" fill="none">
      <path d="M211.6,274 L211.6,295 C211.6,299.5 208.5,301.5 206,303.5 C203.5,305.5 202.3,308 202.2,313"/>
      <path d="M218.9,274 L218.9,295 C218.9,299.5 222,301.5 224.5,303.5 C227,305.5 228.6,308 228.8,313"/>
    </g>
    <path d="M202,319.5 L197.6,309.8 L202.2,312.2 L206.6,309.8 Z" fill="#d42228"/>
    <path d="M229,319.2 L224.6,309.5 L229,312 L233.4,309.5 Z" fill="#d42228"/>
  </g>
  <use href="#valveL" transform="translate(0,94)"/>
</g>
<circle cx="214.5" cy="368.4" r="93" fill="none" stroke="#222" stroke-width="2"/>

<!-- RIGHT CIRCLE: varicocele -->
<circle cx="811.8" cy="367.8" r="92.3" fill="#fff"/>
<g clip-path="url(#cR)">
  <path id="varOut" d="M780.5,262.0 L780.5,264.1 L780.5,267.0 L780.4,270.4 L780.4,273.9 L780.3,277.3 L780.2,280.0 L780.0,282.1 L779.8,283.9 L779.6,285.5 L779.4,287.0 L779.1,288.4 L778.7,290.0 L778.3,291.7 L777.8,293.3 L777.3,295.0 L776.8,296.7 L776.2,298.3 L775.7,300.0 L775.2,301.7 L774.7,303.3 L774.1,305.0 L773.6,306.7 L773.2,308.3 L772.7,310.0 L772.3,311.7 L771.8,313.3 L771.4,315.0 L771.1,316.7 L770.7,318.3 L770.5,320.0 L770.3,321.7 L770.2,323.3 L770.1,325.0 L770.1,326.7 L770.1,328.3 L770.2,330.0 L770.4,331.7 L770.6,333.3 L770.9,335.0 L771.2,336.7 L771.6,338.3 L772.0,340.0 L772.4,341.7 L772.9,343.3 L773.4,345.0 L773.9,346.7 L774.4,348.3 L775.0,350.0 L775.6,351.7 L776.2,353.4 L776.9,355.1 L777.5,356.7 L778.2,358.4 L778.7,360.0 L779.2,361.6 L779.7,363.1 L780.1,364.7 L780.5,366.2 L780.8,367.6 L781.0,369.0 L781.1,370.3 L781.2,371.4 L781.1,372.5 L781.0,373.6 L780.8,374.7 L780.5,376.0 L780.0,377.3 L779.4,378.6 L778.7,380.0 L777.9,381.5 L777.2,383.1 L776.5,385.0 L775.8,387.2 L775.1,389.6 L774.4,392.1 L773.8,394.8 L773.2,397.4 L772.7,400.0 L772.3,402.5 L772.0,405.0 L771.8,407.5 L771.7,410.0 L771.6,412.5 L771.7,415.0 L771.9,417.5 L772.3,420.0 L772.7,422.5 L773.2,425.0 L773.7,427.5 L774.2,430.0 L774.7,432.6 L775.2,435.2 L775.7,437.8 L776.2,440.4 L776.7,442.8 L777.2,445.0 L777.6,446.9 L778.1,448.5 L778.5,450.0 L778.9,451.5 L779.2,453.1 L779.5,455.0 L779.8,457.4 L780.0,460.2 L780.1,463.1 L780.3,465.9 L780.4,468.3 L780.5,470.0 L842.5,470.0 L842.5,468.6 L842.6,466.7 L842.6,464.5 L842.7,462.1 L842.8,459.9 L843.0,458.0 L843.2,456.5 L843.5,455.1 L843.9,453.9 L844.3,452.7 L844.7,451.4 L845.2,450.0 L845.7,448.5 L846.3,447.0 L847.0,445.4 L847.6,443.8 L848.3,442.0 L849.0,440.0 L849.8,437.7 L850.6,435.2 L851.4,432.5 L852.3,429.8 L853.0,427.3 L853.5,425.0 L853.9,423.0 L854.1,421.3 L854.2,419.7 L854.3,418.1 L854.3,416.6 L854.2,415.0 L854.1,413.4 L853.9,411.9 L853.7,410.3 L853.4,408.7 L853.1,407.0 L852.7,405.0 L852.2,402.8 L851.7,400.3 L851.1,397.7 L850.4,395.0 L849.7,392.4 L849.0,390.0 L848.2,387.7 L847.3,385.3 L846.3,383.1 L845.4,380.9 L844.6,378.9 L844.0,377.0 L843.6,375.4 L843.4,374.0 L843.2,372.8 L843.2,371.6 L843.2,370.3 L843.3,369.0 L843.5,367.6 L843.7,366.1 L844.1,364.6 L844.4,363.1 L844.8,361.6 L845.2,360.0 L845.6,358.4 L845.9,356.7 L846.3,355.1 L846.7,353.4 L847.1,351.7 L847.5,350.0 L847.9,348.3 L848.2,346.7 L848.6,345.0 L849.0,343.3 L849.3,341.7 L849.7,340.0 L850.1,338.3 L850.5,336.7 L850.9,335.0 L851.3,333.3 L851.7,331.7 L852.0,330.0 L852.2,328.3 L852.4,326.7 L852.6,325.0 L852.7,323.3 L852.7,321.7 L852.7,320.0 L852.6,318.4 L852.4,316.9 L852.2,315.3 L851.9,313.7 L851.6,312.0 L851.2,310.0 L850.7,307.8 L850.1,305.4 L849.5,302.8 L848.8,300.2 L848.1,297.6 L847.5,295.0 L846.8,292.5 L846.1,290.1 L845.4,287.7 L844.7,285.2 L844.1,282.7 L843.7,280.0 L843.5,277.0 L843.4,273.6 L843.4,270.1 L843.4,266.8 L843.5,264.0 L843.5,262.0 Z" fill="#7446b6"/>
  <path d="M785.7,262.0 L785.7,264.1 L785.7,267.0 L785.6,270.4 L785.6,274.0 L785.5,277.4 L785.4,280.3 L785.2,282.6 L785.0,284.6 L784.8,286.3 L784.5,288.0 L784.1,289.5 L783.8,291.2 L783.3,293.0 L782.8,294.8 L782.3,296.6 L781.7,298.3 L781.2,299.9 L780.7,301.5 L780.2,303.2 L779.6,304.9 L779.1,306.5 L778.6,308.2 L778.2,309.7 L777.7,311.3 L777.3,313.0 L776.9,314.6 L776.5,316.2 L776.2,317.7 L775.9,319.2 L775.7,320.7 L775.5,322.2 L775.4,323.7 L775.3,325.2 L775.3,326.7 L775.3,328.1 L775.4,329.6 L775.5,331.0 L775.7,332.5 L776.0,334.0 L776.3,335.6 L776.7,337.2 L777.1,338.8 L777.4,340.3 L777.9,341.9 L778.4,343.5 L778.9,345.1 L779.4,346.7 L779.9,348.3 L780.5,349.9 L781.1,351.5 L781.7,353.2 L782.4,354.9 L783.1,356.7 L783.6,358.4 L784.2,360.0 L784.7,361.7 L785.1,363.3 L785.6,365.0 L785.9,366.7 L786.2,368.4 L786.3,369.9 L786.4,371.4 L786.3,372.8 L786.2,374.3 L785.9,375.9 L785.5,377.5 L784.8,379.3 L784.1,380.9 L783.3,382.4 L782.6,383.7 L782.0,385.1 L781.4,386.7 L780.8,388.7 L780.1,391.0 L779.4,393.4 L778.8,396.0 L778.3,398.5 L777.8,400.8 L777.5,403.2 L777.2,405.5 L777.0,407.9 L776.9,410.2 L776.8,412.5 L776.9,414.7 L777.1,416.9 L777.4,419.2 L777.8,421.5 L778.3,424.0 L778.8,426.5 L779.3,429.0 L779.8,431.6 L780.3,434.2 L780.8,436.8 L781.3,439.3 L781.8,441.7 L782.3,443.9 L782.7,445.7 L783.1,447.2 L783.5,448.7 L783.9,450.3 L784.3,452.2 L784.7,454.3 L784.9,456.9 L785.2,459.8 L785.3,462.8 L785.5,465.7 L785.6,468.0 L785.7,469.7 L837.3,469.9 L837.3,468.5 L837.4,466.6 L837.4,464.4 L837.5,461.9 L837.6,459.5 L837.8,457.3 L838.1,455.5 L838.5,453.9 L838.9,452.4 L839.4,451.0 L839.8,449.7 L840.3,448.3 L840.9,446.7 L841.5,445.1 L842.1,443.5 L842.8,441.9 L843.4,440.2 L844.1,438.3 L844.8,436.1 L845.6,433.6 L846.5,431.0 L847.3,428.4 L847.9,426.0 L848.4,423.9 L848.7,422.2 L848.9,420.7 L849.0,419.4 L849.1,418.1 L849.1,416.7 L849.0,415.2 L848.9,413.8 L848.8,412.5 L848.6,411.1 L848.3,409.7 L848.0,408.0 L847.6,406.1 L847.1,403.9 L846.6,401.5 L846.0,398.9 L845.4,396.3 L844.7,393.8 L844.0,391.6 L843.3,389.5 L842.5,387.3 L841.5,385.1 L840.6,382.8 L839.7,380.6 L839.0,378.4 L838.5,376.5 L838.2,374.8 L838.0,373.1 L838.0,371.6 L838.0,370.1 L838.1,368.5 L838.3,366.8 L838.6,365.1 L839.0,363.4 L839.4,361.8 L839.8,360.3 L840.1,358.8 L840.5,357.2 L840.9,355.6 L841.3,353.9 L841.7,352.2 L842.0,350.5 L842.4,348.9 L842.8,347.2 L843.2,345.6 L843.5,343.9 L843.9,342.2 L844.3,340.5 L844.6,338.8 L845.0,337.1 L845.5,335.4 L845.9,333.7 L846.3,332.2 L846.6,330.7 L846.9,329.2 L847.1,327.7 L847.3,326.1 L847.4,324.6 L847.5,323.1 L847.5,321.6 L847.5,320.2 L847.4,318.8 L847.3,317.5 L847.1,316.1 L846.8,314.7 L846.5,313.0 L846.1,311.1 L845.6,309.0 L845.1,306.6 L844.5,304.1 L843.8,301.5 L843.1,298.8 L842.5,296.3 L841.8,294.0 L841.1,291.6 L840.4,289.1 L839.7,286.5 L839.0,283.7 L838.5,280.6 L838.3,277.2 L838.2,273.6 L838.2,270.0 L838.2,266.7 L838.3,263.9 L838.3,261.9 Z" fill="url(#gVein2)"/>
  <!-- upper valves -->
  <path d="M776.5,322 C782,321.5 787,320.5 791.5,318.4" stroke="#ecbefa" stroke-width="1.3" fill="none"/>
  <path d="M826.5,324.4 C832,326 838,325 844.5,322.2" stroke="#ecbefa" stroke-width="1.3" fill="none"/>
  <path d="M799.8,297 L799.6,306 C799.2,313 795.5,319 789.5,322.8 C784.5,325.4 780,326 775,326" stroke="#7446b6" stroke-width="4.4" fill="none"/>
  <path d="M818.8,301.5 L818.9,313.4 C819.5,320 823,326 830,330 C836,332.6 842,331.2 848,327" stroke="#7446b6" stroke-width="4.4" fill="none"/>
  <!-- lower valves -->
  <path d="M778,416 C781,419 784,421 787,421.2 C790.5,421 793.5,418.5 796,416.7" stroke="#ecbefa" stroke-width="1.3" fill="none"/>
  <path d="M835.5,413 C839,416.5 843,418 847.5,418.2" stroke="#ecbefa" stroke-width="1.3" fill="none"/>
  <path d="M801.3,396.3 C803.5,399 804.6,403 804.4,407 C804.2,413 801.5,418.5 796,422.2 C791.5,425.5 786,426.5 782,425 C779.5,424 778,423 776,422" stroke="#7446b6" stroke-width="4.4" fill="none"/>
  <path d="M824.1,389.8 C827,393 829.5,398 831,403 C833,410 836,416 841,419.5 C844,421.5 847,422.2 851,421.8" stroke="#7446b6" stroke-width="4.4" fill="none"/>
  <!-- red arrows -->
  <g stroke="#d42228" stroke-width="2" fill="none">
    <path d="M811.3,282 C809,292 805.5,300 805.6,308 C805.7,318 809,326 809.6,336 L809.6,343"/>
    <path d="M818.4,282 C816,292 812.7,300 812.7,308 C812.7,318 817,326 817.6,336 L817.6,343"/>
    <path d="M809.7,379 C810.5,390 811.7,398 812.5,406 C813.5,416 813.5,425 811.5,434"/>
    <path d="M817,379 C818,390 819.4,398 820.5,406 C821.5,416 822,425 820.3,434"/>
  </g>
  <path d="M809.5,350.5 L805.3,340.5 L809.6,343.2 L813.9,340.5 Z" fill="#d42228"/>
  <path d="M817.7,350.5 L813.5,340.5 L817.7,343.2 L822,340.5 Z" fill="#d42228"/>
  <path d="M811,441.5 L807.8,431.2 L811.6,434.3 L816,432.2 Z" fill="#d42228"/>
  <path d="M819.8,441 L816.6,430.8 L820.4,433.9 L824.8,431.8 Z" fill="#d42228"/>
</g>
<circle cx="811.8" cy="367.8" r="92.3" fill="none" stroke="#222" stroke-width="2"/>

<!-- label lines -->
<g stroke="#3a3a3a" stroke-width="1.1" fill="none">
  <line x1="500.2" y1="57.3" x2="500.2" y2="94.4"/>
  <line x1="346" y1="203.3" x2="369.4" y2="203.3"/>
  <line x1="359" y1="242" x2="411.6" y2="242"/>
  <line x1="533.6" y1="222.3" x2="653" y2="222.3"/>
  <line x1="528" y1="286.5" x2="647" y2="286.5"/>
  <line x1="306.6" y1="369.4" x2="326" y2="369.4"/>
  <line x1="397" y1="369.4" x2="431.3" y2="369.4"/>
  <line x1="367.3" y1="410.7" x2="505.5" y2="410.7"/>
  <line x1="362.9" y1="475.7" x2="429" y2="475.7"/>
  <line x1="593" y1="366.5" x2="634.7" y2="366.5"/>
  <line x1="690.3" y1="368" x2="719" y2="368"/>
  <line x1="576.3" y1="408.8" x2="646" y2="408.8"/>
  <line x1="584.4" y1="477.3" x2="661.6" y2="477.3"/>
</g>
<!-- labels -->
<g class="lb">
  <text x="482.2" y="54.2">Bladder</text>
  <text x="277" y="206.1" style="word-spacing:4.3px">Vas deferens</text>
  <text x="279.3" y="244.8" style="word-spacing:4.3px">Seminal vesicle</text>
  <text x="657.3" y="225.5" style="word-spacing:4.3px">Prostate gland</text>
  <text x="658.8" y="290" style="letter-spacing:0.25px">Bulbouratral</text>
  <text x="331.9" y="372.5" style="word-spacing:1.8px">Regular vein</text>
  <text x="329.2" y="413.5">Urethra</text>
  <text x="301.9" y="478.6" style="word-spacing:4.3px">Right testis</text>
  <text x="640.2" y="371">Varicocele</text>
  <text x="652.1" y="412.9">Epididim</text>
  <text x="665.8" y="481.3" style="word-spacing:4.3px">Left testis</text>
</g>
<g class="big">
  <text x="153.8" y="482" style="word-spacing:4.8px;font-size:20.8px">Regular vein</text>
  <text x="764.3" y="482.3">Varicocele</text>
</g>

</svg>
</body></html>
